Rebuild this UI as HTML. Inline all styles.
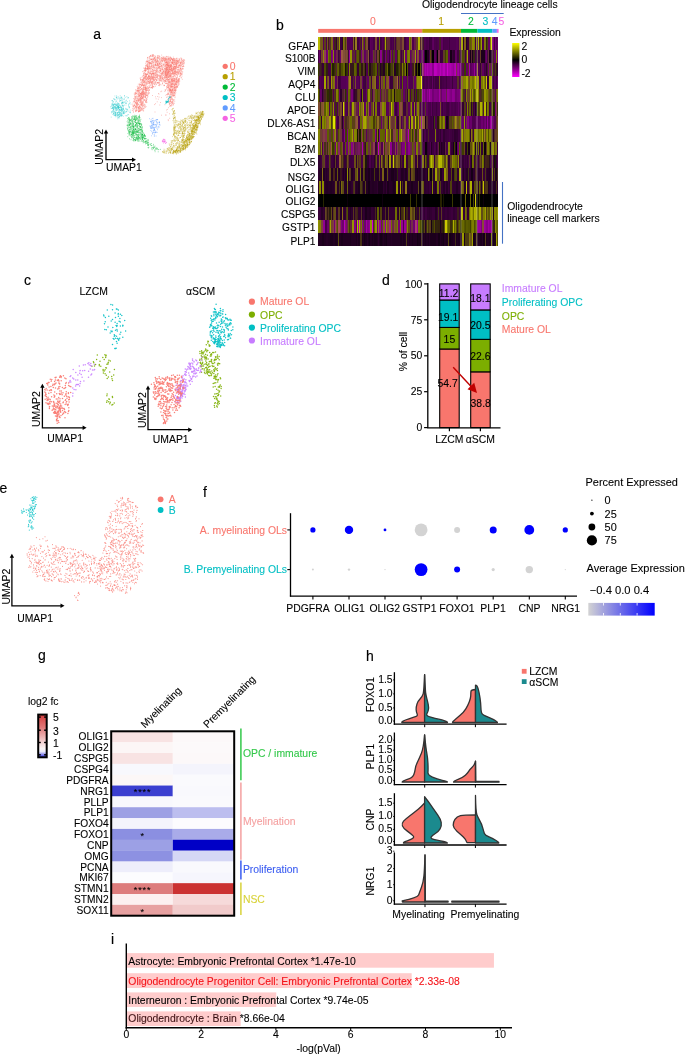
<!DOCTYPE html>
<html><head><meta charset="utf-8"><style>
html,body{margin:0;padding:0;background:#fff;}
svg{display:block;font-family:"Liberation Sans",sans-serif;will-change:transform;}
</style></head><body>
<svg width="685" height="1055" viewBox="0 0 685 1055">
<text x="93.2" y="39.4" font-size="14" fill="#000" stroke="#000" stroke-width="0.15" text-anchor="start" >a</text>
<text x="276.0" y="29.7" font-size="14" fill="#000" stroke="#000" stroke-width="0.15" text-anchor="start" >b</text>
<text x="23.9" y="284.8" font-size="14" fill="#000" stroke="#000" stroke-width="0.15" text-anchor="start" >c</text>
<text x="382.1" y="284.8" font-size="14" fill="#000" stroke="#000" stroke-width="0.15" text-anchor="start" >d</text>
<text x="-0.6" y="492.6" font-size="14" fill="#000" stroke="#000" stroke-width="0.15" text-anchor="start" >e</text>
<text x="203.1" y="496.7" font-size="14" fill="#000" stroke="#000" stroke-width="0.15" text-anchor="start" >f</text>
<text x="38.1" y="660.1" font-size="14" fill="#000" stroke="#000" stroke-width="0.15" text-anchor="start" >g</text>
<text x="366.0" y="660.6" font-size="14" fill="#000" stroke="#000" stroke-width="0.15" text-anchor="start" >h</text>
<text x="111.0" y="944.0" font-size="14" fill="#000" stroke="#000" stroke-width="0.15" text-anchor="start" >i</text>
<path d="M150.2 63.1h0M167.7 59.0h0M160.8 75.2h0M162.2 77.3h0M177.5 70.0h0M141.2 89.0h0M166.2 76.0h0M161.4 57.6h0M168.6 79.6h0M148.8 88.4h0M157.0 71.2h0M145.4 87.0h0M171.2 70.6h0M184.7 60.6h0M141.5 82.3h0M172.2 86.8h0M178.9 71.8h0M170.2 89.3h0M163.3 79.7h0M135.7 94.3h0M174.6 70.9h0M136.9 98.3h0M147.6 79.0h0M182.3 62.7h0M144.9 82.5h0M162.8 69.5h0M151.9 87.5h0M167.1 57.0h0M152.8 77.1h0M138.4 90.5h0M152.0 56.8h0M134.3 105.3h0M165.4 62.7h0M145.3 74.1h0M152.1 61.4h0M157.4 82.5h0M150.0 68.9h0M177.0 63.2h0M132.8 110.3h0M159.8 62.1h0M161.7 55.1h0M145.7 76.0h0M140.8 100.3h0M149.9 68.7h0M144.5 84.2h0M150.8 55.7h0M145.8 94.2h0M177.2 81.2h0M136.4 91.1h0M172.9 81.8h0M141.9 99.8h0M171.2 64.2h0M140.7 101.9h0M150.9 85.9h0M174.8 67.1h0M144.8 70.5h0M145.6 88.1h0M146.6 79.4h0M140.5 107.6h0M151.0 81.9h0M155.1 64.7h0M142.2 81.4h0M170.6 86.2h0M150.5 82.7h0M138.8 87.2h0M145.5 70.5h0M172.5 84.2h0M182.3 79.3h0M165.6 83.4h0M156.1 84.7h0M169.2 104.1h0M181.2 70.2h0M176.7 62.5h0M136.5 93.2h0M139.7 95.0h0M167.6 63.1h0M152.8 82.0h0M140.4 79.5h0M159.8 73.8h0M161.3 79.9h0M165.3 83.4h0M136.1 110.7h0M135.2 99.6h0M146.3 62.0h0M175.6 68.7h0M139.8 106.3h0M168.0 79.0h0M137.0 108.1h0M137.0 103.9h0M136.5 104.3h0M157.1 74.3h0M146.1 61.9h0M158.8 67.9h0M148.9 72.2h0M172.3 71.5h0M159.6 64.0h0M150.4 55.4h0M171.4 86.1h0M143.0 80.9h0M182.1 61.0h0M176.2 79.4h0M153.0 83.7h0M169.6 90.0h0M153.4 74.3h0M135.9 96.5h0M145.8 63.4h0M137.0 102.8h0M147.4 68.8h0M148.0 81.0h0M140.1 78.2h0M148.5 75.2h0M157.3 82.9h0M142.3 83.9h0M148.2 67.8h0M164.0 85.1h0M173.3 92.1h0M170.7 105.4h0M152.6 73.1h0M184.0 62.2h0M170.8 90.9h0M135.8 102.0h0M170.8 101.2h0M139.5 84.5h0M168.1 93.4h0M136.6 101.7h0M168.1 58.3h0M171.3 68.5h0M170.8 66.2h0M157.6 75.8h0M172.3 90.6h0M165.7 59.4h0M171.3 73.4h0M167.8 94.2h0M168.9 71.5h0M160.2 80.4h0M157.7 62.1h0M179.4 65.4h0M155.5 70.3h0M143.7 108.9h0M142.8 88.8h0M140.5 84.5h0M183.5 61.3h0M176.2 83.0h0M158.9 55.5h0M156.9 71.4h0M176.9 61.8h0M179.4 71.0h0M151.6 77.4h0M151.1 78.7h0M137.7 103.1h0M145.0 69.5h0M159.2 64.8h0M169.9 57.0h0M171.1 79.3h0M172.2 90.7h0M181.3 62.9h0M156.8 74.0h0M166.9 72.2h0M161.5 75.9h0M142.5 106.7h0M158.8 67.6h0M155.8 62.7h0M149.8 60.2h0M145.0 68.7h0M172.0 79.1h0M153.8 83.8h0M151.7 73.1h0M183.4 61.7h0M177.8 66.8h0M147.5 68.4h0M152.8 78.6h0M179.8 81.1h0M134.4 99.7h0M166.7 70.8h0M152.3 67.2h0M148.3 81.5h0M178.7 80.4h0M145.6 67.5h0M154.0 69.3h0M149.6 80.0h0M168.5 66.0h0M158.8 67.4h0M176.0 67.1h0M144.9 97.1h0M158.2 65.2h0M144.3 77.7h0M182.4 74.1h0M141.7 108.5h0M167.1 75.8h0M152.8 73.4h0M147.2 74.6h0M182.1 62.1h0M182.8 67.0h0M175.5 78.9h0M143.5 75.4h0M180.5 68.7h0M150.7 71.1h0M146.7 95.4h0M148.5 69.7h0M144.7 81.8h0M152.4 69.5h0M154.5 82.3h0M181.6 65.1h0M164.2 73.7h0M148.5 76.1h0M175.0 59.9h0M143.0 98.9h0M169.9 80.8h0M144.7 78.4h0M167.8 60.2h0M176.6 72.2h0M160.6 76.0h0M171.9 65.9h0M145.6 69.2h0M140.8 104.2h0M162.4 72.9h0M159.3 67.3h0M175.0 93.0h0M182.9 60.8h0M182.0 76.1h0M178.1 80.2h0M146.4 99.3h0M181.8 60.8h0M143.5 75.5h0M145.7 88.2h0M167.1 65.9h0M167.5 64.9h0M148.1 66.8h0M174.6 87.1h0M153.0 86.4h0M165.5 59.0h0M141.1 94.6h0M154.6 70.4h0M149.6 87.5h0M150.8 78.2h0M151.1 66.6h0M170.5 66.5h0M157.3 63.4h0M136.9 90.4h0M151.5 82.6h0M157.3 57.5h0M181.3 77.7h0M174.8 63.8h0M173.1 67.7h0M176.5 64.9h0M144.9 77.1h0M159.4 75.7h0M170.2 106.1h0M177.0 61.8h0M163.9 85.6h0M165.3 71.6h0M155.7 79.3h0M157.7 67.8h0M172.4 99.2h0M155.8 64.7h0M157.7 60.8h0M159.0 55.9h0M165.2 58.3h0M170.7 99.0h0M158.3 57.7h0M158.1 75.6h0M182.1 62.6h0M172.1 101.1h0M180.5 63.5h0M172.2 63.3h0M181.1 69.4h0M175.3 62.0h0M159.3 72.3h0M141.3 107.7h0M169.5 106.1h0M140.3 100.0h0M138.3 84.2h0M166.2 74.7h0M138.4 111.3h0M166.2 77.1h0M174.7 69.6h0M155.5 64.2h0M175.9 69.3h0M164.7 80.5h0M145.3 87.3h0M164.1 66.0h0M165.5 81.2h0M140.6 107.8h0M137.5 90.7h0M154.8 70.2h0M161.3 74.2h0M166.7 79.6h0M153.6 67.3h0M135.7 98.6h0M182.5 63.8h0M142.8 90.3h0M175.5 63.9h0M148.6 71.0h0M135.1 106.0h0M174.2 95.4h0M171.0 81.0h0M172.5 80.5h0M169.0 101.8h0M169.7 69.9h0M161.1 80.2h0M173.6 83.9h0M146.1 91.3h0M183.9 66.4h0M145.1 67.8h0M172.1 74.0h0M178.1 74.1h0M169.6 104.0h0M162.0 71.5h0M143.1 90.7h0M136.7 107.5h0M139.2 107.9h0M150.6 63.5h0M168.2 90.6h0M168.9 96.6h0M136.1 103.9h0M166.4 70.0h0M171.9 65.1h0M148.5 79.0h0M147.7 95.5h0M152.4 73.1h0M160.5 66.7h0M178.1 60.6h0M175.4 64.3h0M142.5 83.5h0M147.7 67.2h0M168.7 82.9h0M137.1 91.0h0M138.1 99.9h0M169.2 99.8h0M165.6 74.0h0M153.2 76.9h0M179.4 58.7h0M144.7 80.4h0M171.3 91.2h0M150.4 73.6h0M141.5 103.3h0M167.2 96.8h0M140.5 79.3h0M174.1 88.4h0M179.2 67.8h0M169.5 103.2h0M145.5 73.3h0M159.5 63.5h0M149.5 65.8h0M137.1 110.6h0M171.0 79.0h0M142.8 91.2h0M152.8 56.4h0M168.6 82.1h0M166.2 81.0h0M140.9 89.3h0M179.1 79.8h0M154.2 67.7h0M171.8 105.7h0M172.6 94.6h0M165.3 80.8h0M149.3 89.9h0M173.9 96.0h0M166.1 68.3h0M154.4 79.9h0M164.4 78.0h0M142.2 92.8h0M173.6 76.5h0M140.1 100.3h0M137.9 87.4h0M175.5 83.7h0M143.9 93.2h0M139.3 111.5h0M151.0 56.5h0M147.2 78.1h0M150.5 68.8h0M144.9 97.1h0M143.6 101.2h0M153.0 66.7h0M139.1 98.7h0M175.2 90.4h0M156.1 70.9h0M162.1 62.1h0M177.6 75.3h0M178.2 69.8h0M152.0 69.1h0M154.4 65.4h0M147.0 68.5h0M147.9 81.8h0M167.8 75.0h0M135.1 102.2h0M140.4 102.1h0M132.4 108.3h0M166.2 69.3h0M144.7 99.4h0M151.4 63.2h0M141.6 105.4h0M141.9 94.6h0M161.6 69.8h0M157.8 57.5h0M158.3 62.1h0M158.4 83.8h0M152.1 78.5h0M164.8 91.4h0M159.1 83.0h0M170.2 90.1h0M152.0 81.5h0M143.3 80.3h0M155.3 86.3h0M176.5 71.6h0M176.4 77.6h0M159.0 70.1h0M150.2 72.7h0M147.9 88.1h0M165.2 89.9h0M169.1 89.1h0M168.4 66.3h0M167.6 80.4h0M173.2 59.8h0M166.0 74.8h0M162.2 69.2h0M148.1 77.8h0M149.2 78.6h0M174.7 87.5h0M153.7 60.3h0M166.0 66.2h0M138.8 110.9h0M138.1 105.0h0M169.9 68.2h0M171.6 65.5h0M134.2 98.9h0M169.6 104.1h0M171.3 58.8h0M176.8 58.7h0M142.7 103.9h0M158.0 58.8h0M151.5 87.2h0M141.0 100.3h0M165.9 77.6h0M163.4 71.7h0M135.9 110.9h0M169.2 101.8h0M149.0 89.4h0M164.8 72.5h0M175.5 71.0h0M134.2 101.6h0M163.0 70.1h0M151.3 59.0h0M142.5 97.8h0M181.2 66.8h0M156.6 65.6h0M145.2 97.3h0M174.7 82.1h0M138.1 100.6h0M173.8 67.6h0M179.3 84.0h0M142.0 93.8h0M152.6 86.4h0M154.0 83.8h0M138.2 90.1h0M173.7 63.8h0M164.3 73.0h0M178.6 81.6h0M162.5 69.6h0M173.1 78.6h0M163.8 77.4h0M139.3 110.4h0M146.2 88.0h0M167.2 77.9h0M155.9 63.9h0M145.9 74.6h0M173.3 95.4h0M169.3 71.6h0M157.8 64.0h0M170.6 65.4h0M134.4 108.0h0M138.4 108.4h0M155.7 73.5h0M175.8 82.3h0M166.1 62.3h0M171.3 86.1h0M140.9 105.3h0M147.4 78.1h0M177.0 72.7h0M140.3 82.2h0M138.9 111.4h0M135.4 106.5h0M168.0 67.3h0M156.7 70.3h0M145.5 65.3h0M171.7 70.6h0M174.5 73.7h0M176.8 84.4h0M142.7 79.7h0M180.1 65.5h0M162.0 61.5h0M142.9 98.3h0M169.3 65.8h0M164.5 82.3h0M147.6 66.6h0M175.4 87.5h0M170.5 76.6h0M170.7 57.6h0M174.6 73.6h0M180.3 69.0h0M141.3 102.6h0M151.6 63.4h0M152.4 88.5h0M156.5 84.3h0M139.5 95.6h0M134.5 105.4h0M158.5 85.5h0M183.5 66.3h0M145.7 101.9h0M168.7 65.5h0M162.4 83.9h0M169.1 60.9h0M158.9 83.1h0M147.2 61.3h0M154.0 62.2h0M139.2 87.8h0M171.3 62.2h0M153.4 77.8h0M176.6 84.5h0M173.0 74.1h0M145.0 73.4h0M145.1 78.4h0M165.2 75.3h0M161.2 58.8h0M155.5 82.6h0M166.9 70.1h0M169.4 68.7h0M165.2 68.5h0M160.5 78.7h0M182.3 72.1h0M149.2 90.5h0M138.8 89.3h0M146.3 81.5h0M160.6 61.9h0M147.6 78.4h0M148.4 67.9h0M143.7 94.9h0M164.9 81.3h0M148.1 68.4h0M143.9 82.3h0M152.2 87.6h0M177.3 67.4h0M161.4 81.2h0M178.9 79.7h0M175.8 84.0h0M171.4 97.0h0M171.8 80.8h0M173.8 95.7h0M180.8 62.5h0M172.0 87.9h0M162.2 79.1h0M165.4 75.8h0M156.7 80.5h0M169.9 71.1h0M152.4 87.2h0M153.1 73.5h0M159.0 78.5h0M140.6 87.5h0M161.7 59.3h0M181.5 73.9h0M182.3 66.5h0M162.4 82.9h0M159.6 84.4h0M168.9 77.1h0M151.1 87.8h0M168.9 85.3h0M153.3 86.6h0M159.9 59.6h0M179.5 79.9h0M159.6 83.0h0M166.8 89.1h0M166.1 56.4h0M148.7 93.1h0M176.0 87.2h0M168.2 65.5h0M147.2 90.4h0M162.4 78.8h0M172.0 59.3h0M172.6 72.7h0M170.1 75.4h0M138.5 107.3h0M163.5 74.1h0M155.9 75.6h0M136.1 106.4h0M175.5 71.2h0M145.7 77.0h0M170.4 66.3h0M151.5 64.7h0M162.5 61.2h0M160.8 76.2h0M154.6 58.4h0M139.7 102.4h0M151.4 68.6h0M166.8 72.9h0M140.1 95.4h0M177.0 61.7h0M174.9 64.5h0M143.2 108.1h0M158.1 67.2h0M156.7 62.2h0M169.5 69.7h0M151.8 68.0h0M164.3 66.9h0M178.9 60.7h0M146.1 98.9h0M163.6 71.5h0M152.3 59.4h0M142.1 103.0h0M149.4 92.8h0M137.2 86.7h0M151.9 83.7h0M148.8 58.0h0M148.0 68.1h0M139.6 95.3h0M148.0 78.1h0M167.3 73.2h0M169.0 68.1h0M176.5 74.5h0M164.9 64.9h0M139.7 106.3h0M171.7 95.1h0M148.8 76.1h0M166.8 64.2h0M177.1 86.7h0M170.3 68.9h0M139.0 99.0h0M142.8 107.9h0M172.2 60.2h0M168.4 77.1h0M172.2 103.1h0M147.3 59.1h0M171.8 102.1h0M165.1 80.8h0M134.2 94.0h0M155.8 83.5h0M181.1 61.8h0M170.1 101.1h0M145.7 85.5h0M161.7 68.6h0M153.8 66.3h0M149.5 63.3h0M169.1 92.5h0M144.6 68.4h0M159.3 80.6h0M180.1 75.1h0M139.6 86.6h0M141.7 92.8h0M163.4 81.7h0M151.8 65.8h0M143.0 94.1h0M155.3 60.6h0M149.8 81.3h0M151.1 63.1h0M135.9 96.6h0M155.6 64.7h0M167.5 69.0h0M133.7 98.6h0M177.3 71.5h0M143.2 91.3h0M141.0 99.2h0M149.3 65.0h0M176.1 73.1h0M152.1 85.5h0M158.4 82.5h0M163.3 58.1h0M168.3 63.2h0M155.3 65.1h0M174.8 78.6h0M146.6 92.3h0M160.0 78.9h0M150.5 80.7h0M168.2 102.0h0M180.8 62.9h0M148.0 79.3h0M162.2 75.3h0M149.2 81.7h0M167.5 90.2h0M147.1 86.7h0M167.1 71.4h0M168.3 80.0h0M137.1 92.3h0M151.5 87.6h0M154.5 84.3h0M162.5 78.1h0M137.4 103.7h0M160.3 68.8h0M144.5 86.9h0M163.4 58.8h0M153.9 59.3h0M172.4 60.0h0M137.0 102.5h0M152.9 63.7h0M172.5 61.9h0M173.3 57.1h0M144.8 76.2h0M144.2 71.9h0M169.6 78.0h0M141.8 98.1h0M169.0 102.6h0M164.4 60.2h0M138.4 108.4h0M167.9 70.2h0M143.1 79.8h0M176.6 86.9h0M137.9 100.3h0M143.7 85.8h0M148.3 94.0h0M152.4 62.9h0M177.4 85.9h0M169.9 101.1h0M150.5 63.0h0M142.5 101.2h0M168.3 77.2h0M157.3 63.6h0M177.1 77.4h0M143.3 105.6h0M163.2 57.4h0M153.0 73.7h0M149.3 56.5h0M168.0 69.2h0M146.3 83.2h0M147.1 88.0h0M165.6 90.7h0M152.7 69.9h0M172.3 83.8h0M166.0 75.2h0M161.8 77.2h0M156.9 75.4h0M145.6 68.6h0M149.3 62.8h0M156.7 80.8h0M162.9 71.8h0M148.6 72.3h0M170.4 86.0h0M181.9 73.6h0M178.9 69.3h0M169.8 67.1h0M153.6 65.1h0M167.1 65.3h0M162.9 59.7h0M149.6 63.4h0M142.7 85.0h0M179.7 66.1h0M167.5 78.4h0M168.4 72.7h0M149.9 82.6h0M164.2 69.0h0M150.0 58.7h0M172.5 60.2h0M174.5 79.2h0M165.5 73.7h0M170.7 69.8h0M168.8 98.5h0M173.1 72.8h0M157.0 70.4h0M174.3 75.7h0M172.0 58.8h0M163.1 64.5h0M173.7 68.2h0M165.7 73.2h0M174.5 80.7h0M138.7 96.3h0M143.4 68.1h0M146.3 79.4h0M172.9 91.1h0M144.2 87.2h0M141.7 104.1h0M178.3 70.0h0M148.1 72.8h0M140.7 93.5h0M162.7 81.1h0M144.2 105.3h0M179.9 65.5h0M139.5 111.4h0M133.5 106.1h0M141.3 97.0h0M167.7 59.4h0M170.6 105.7h0M144.9 99.7h0M159.5 67.1h0M155.1 60.7h0M141.1 94.0h0M139.1 96.3h0M158.1 60.6h0M151.5 82.9h0M181.4 74.5h0M146.7 64.7h0M153.8 86.5h0M152.2 54.5h0M169.4 91.3h0M161.0 84.9h0M153.2 73.5h0M153.1 77.2h0M153.2 61.9h0M146.2 90.0h0M152.8 67.1h0M169.3 72.9h0M166.6 86.2h0M177.2 82.7h0M144.2 89.7h0M170.8 76.0h0M170.7 76.5h0M167.7 72.2h0M164.6 85.6h0M144.0 89.5h0M159.4 82.0h0M159.4 85.0h0M174.9 68.4h0M141.0 102.0h0M175.8 61.3h0M175.7 84.4h0M155.8 59.7h0M168.6 79.9h0M172.4 63.0h0M169.3 74.4h0M159.7 68.6h0M151.9 74.0h0M153.4 54.5h0M143.1 87.6h0M169.9 69.1h0M149.0 68.3h0M176.5 60.5h0M143.9 77.8h0M174.8 90.4h0M153.0 56.6h0M155.5 75.5h0M170.9 71.6h0M176.1 75.0h0M152.4 87.1h0M182.2 64.4h0M149.6 58.1h0M171.7 75.8h0M160.2 84.3h0M156.8 80.6h0M176.7 78.7h0M155.2 82.4h0M166.7 97.4h0M154.0 57.4h0M167.6 87.5h0M137.1 101.3h0M171.9 86.6h0M169.2 82.6h0M135.0 93.7h0M178.7 62.7h0M149.7 84.0h0M146.7 70.1h0M149.6 68.5h0M177.7 87.1h0M159.2 79.5h0M177.8 69.4h0M159.5 76.3h0M157.1 82.8h0M163.5 75.6h0M174.4 66.3h0M160.6 77.2h0M161.6 73.0h0M148.0 94.0h0M173.5 89.0h0M166.1 58.7h0M177.0 58.2h0M163.5 64.9h0M175.4 83.9h0M167.4 93.9h0M147.3 66.6h0M176.7 63.0h0M180.3 66.9h0M168.5 63.1h0M135.3 93.8h0M135.1 102.7h0M148.2 68.7h0M162.6 72.5h0M162.0 63.6h0M180.4 73.5h0M177.0 62.0h0M152.7 54.9h0M144.1 85.5h0M171.2 79.1h0M168.2 61.5h0M176.4 60.5h0M147.4 74.5h0M173.0 82.8h0M181.3 59.7h0M164.4 85.4h0M177.1 67.1h0M166.7 56.6h0M150.4 79.9h0M145.8 97.3h0M142.5 98.2h0M147.6 57.5h0M161.8 60.2h0M165.3 81.8h0M138.4 91.8h0M139.2 87.9h0M149.8 76.4h0M167.4 64.0h0M140.8 108.0h0M178.1 81.9h0M178.9 60.8h0M141.3 85.5h0M158.5 75.3h0M142.0 77.2h0M133.8 108.3h0M145.7 97.8h0M160.3 71.1h0M179.8 59.7h0M163.0 67.4h0M169.6 58.9h0M145.3 88.6h0M174.9 73.0h0M174.8 81.1h0M153.6 58.8h0M145.6 96.9h0M167.9 63.1h0M150.0 62.8h0M157.2 82.7h0M172.1 90.7h0M142.3 91.6h0M138.2 94.7h0M150.9 62.8h0M171.9 61.2h0M163.9 79.7h0M179.3 72.2h0M182.0 61.4h0M156.3 67.8h0M168.3 94.2h0M174.6 92.5h0M153.7 59.5h0M150.4 87.7h0M174.9 78.8h0M165.0 81.6h0M149.1 66.8h0M164.8 71.5h0M168.4 79.7h0M139.3 93.3h0M134.5 101.2h0M144.9 104.9h0M152.7 82.9h0M176.0 64.8h0M141.9 108.3h0M146.0 74.8h0M138.0 86.1h0M178.1 83.2h0M135.8 90.0h0M165.1 76.3h0M136.6 103.2h0M168.7 86.6h0M149.2 61.4h0M140.4 87.3h0M163.0 56.8h0M166.7 70.5h0M172.7 70.7h0M160.1 78.3h0M170.2 94.7h0M147.9 63.0h0M173.7 74.7h0M139.6 85.5h0M178.8 62.7h0M171.0 65.0h0M147.8 57.4h0M147.3 77.3h0M181.9 65.0h0M148.4 79.1h0M151.7 76.2h0M144.5 106.8h0M148.9 62.3h0M172.5 81.1h0M171.6 70.9h0M160.6 70.3h0M166.5 69.2h0M176.3 87.0h0M147.2 68.6h0M171.9 93.8h0M173.0 77.1h0M151.4 76.3h0M174.3 74.2h0M142.0 105.3h0M159.5 85.7h0M168.6 87.3h0M153.8 87.2h0M140.8 93.4h0M172.6 83.6h0M172.7 101.6h0M139.8 94.8h0M169.5 89.7h0M146.8 66.7h0M174.2 74.9h0M168.9 57.7h0M176.2 72.7h0M134.5 101.1h0M165.5 73.2h0M149.4 87.2h0M144.6 100.2h0M143.2 102.5h0M175.8 84.3h0M134.8 98.3h0M154.4 57.9h0M163.1 78.3h0M144.7 104.3h0M158.2 62.0h0M169.3 81.1h0M151.4 65.9h0M153.0 71.6h0M142.5 97.2h0M160.4 80.9h0M142.0 94.3h0M171.2 96.1h0M170.3 88.9h0M146.6 74.6h0M139.6 92.3h0M173.3 80.2h0M140.6 99.3h0M162.6 83.4h0M133.1 106.5h0M169.8 75.7h0M144.9 87.6h0M152.4 55.8h0M157.5 56.8h0M180.6 76.2h0M137.4 89.0h0M155.7 59.0h0M170.5 57.1h0M157.5 77.2h0M167.7 94.9h0M145.3 91.9h0M170.0 81.4h0M138.9 107.0h0M165.4 57.6h0M144.1 76.8h0M142.4 92.8h0M180.7 68.5h0M172.7 59.7h0M141.2 100.4h0M141.4 84.9h0M138.8 99.8h0M160.9 70.9h0M157.2 61.0h0M166.9 66.7h0M154.5 60.2h0M151.3 59.6h0M170.8 103.0h0M177.1 61.2h0M152.6 70.8h0M172.6 62.8h0M168.9 88.0h0M159.8 80.6h0M170.6 100.4h0M166.9 102.4h0M142.0 108.9h0M145.7 71.3h0M150.9 73.6h0M172.6 70.0h0M145.4 78.7h0M174.6 85.5h0M137.9 101.4h0M149.1 90.1h0M152.5 85.8h0M182.0 63.9h0M142.6 80.1h0M168.4 93.6h0M172.3 98.3h0M145.6 68.4h0M147.6 58.1h0M151.0 62.0h0M147.1 99.3h0M147.2 77.4h0M169.5 79.9h0M170.6 60.1h0M180.9 73.3h0M176.1 68.2h0M168.4 70.2h0M180.7 63.1h0M166.5 87.1h0M167.4 65.2h0M167.0 87.1h0M139.1 110.5h0M139.8 98.9h0M146.5 75.0h0M160.2 60.6h0M146.2 100.4h0M148.2 76.3h0M172.5 66.8h0M153.1 74.8h0M166.8 81.3h0M155.0 60.4h0M157.6 65.3h0M145.1 79.7h0M151.0 82.4h0M171.5 86.7h0M177.4 61.3h0M178.1 66.2h0M171.1 57.9h0M155.7 72.5h0M141.6 93.2h0M152.7 60.5h0M166.8 83.0h0M171.5 85.4h0M145.2 82.3h0M139.8 100.3h0M177.4 76.8h0M179.9 64.7h0M144.1 89.2h0M181.4 59.6h0M156.5 61.7h0M143.2 97.5h0M133.9 109.6h0M145.1 80.8h0M165.3 66.4h0M176.6 65.9h0M150.0 76.8h0M140.6 102.0h0M146.3 80.2h0M138.8 109.7h0M163.9 80.3h0M183.0 68.7h0M133.7 106.2h0M147.9 69.5h0M154.8 84.7h0M166.9 83.4h0M166.9 88.6h0M183.3 65.3h0M136.2 106.2h0M163.2 64.7h0M168.7 68.3h0M145.0 74.8h0M135.5 97.6h0M165.0 80.3h0M167.4 101.5h0M168.1 94.4h0M165.9 65.0h0M145.0 79.2h0M182.8 66.5h0M180.8 67.9h0M171.1 74.2h0M167.7 99.4h0M154.2 77.8h0M155.6 65.1h0M157.5 55.5h0M168.8 64.5h0M165.3 89.8h0M143.0 98.9h0M148.1 69.0h0M175.5 89.7h0M162.2 65.8h0M169.9 69.5h0M140.7 93.9h0M146.4 95.3h0M139.6 108.1h0M183.7 63.0h0M150.3 85.3h0M149.4 78.4h0M157.6 69.1h0M146.3 100.6h0M170.8 74.0h0M158.3 65.5h0M168.7 77.0h0M169.9 67.9h0M138.6 88.2h0M142.5 94.4h0M167.8 86.9h0M163.7 60.0h0M166.2 69.2h0M146.3 78.5h0M143.4 71.0h0M166.5 94.5h0M142.6 71.6h0M166.8 68.7h0M174.1 72.3h0M160.7 63.1h0M157.6 64.6h0M139.7 84.0h0M160.2 75.7h0M170.5 85.9h0M173.8 59.3h0M156.9 69.8h0M167.6 67.8h0M149.0 81.4h0M169.8 98.9h0M152.2 79.7h0M165.4 60.6h0M164.5 70.9h0M134.9 97.4h0M173.0 79.1h0M137.1 109.8h0M172.9 62.3h0M141.6 85.2h0M177.0 63.4h0M142.0 98.6h0M154.3 73.3h0M183.9 61.0h0M145.4 96.7h0M165.2 71.4h0M171.2 62.5h0M142.1 109.5h0M138.7 101.0h0M149.7 68.9h0M146.9 79.8h0M177.5 72.0h0M141.4 96.4h0M152.0 64.6h0M146.5 74.9h0M151.6 74.3h0M152.5 61.6h0M171.0 98.8h0M174.6 68.9h0M166.7 75.3h0M178.9 61.8h0M161.0 73.2h0M175.3 73.5h0M179.3 62.0h0M168.0 92.0h0M134.3 104.6h0M161.2 80.8h0M143.5 73.9h0M150.0 56.3h0M174.0 67.9h0M170.9 65.6h0M156.9 77.5h0M147.3 90.2h0M179.5 81.9h0M162.2 61.2h0M158.7 82.2h0M167.8 66.2h0M151.7 75.8h0M138.6 107.4h0M155.7 59.4h0M172.6 74.1h0M143.7 96.6h0M174.9 66.4h0M156.8 76.5h0M141.6 85.6h0M140.9 109.9h0M173.7 65.4h0M161.7 63.8h0M145.8 70.5h0M154.9 83.6h0M157.0 60.2h0M170.5 97.4h0M145.2 70.0h0M160.2 64.6h0M143.3 87.1h0M170.5 97.2h0M170.4 94.9h0M174.7 92.7h0M140.5 80.4h0M145.4 66.0h0M140.8 77.9h0M165.6 72.8h0M148.0 82.8h0M142.6 82.5h0M157.0 65.7h0M163.5 63.9h0M153.6 74.0h0M153.9 73.8h0M169.6 76.6h0M141.7 104.5h0M181.1 77.8h0M155.7 72.0h0M160.8 77.1h0M157.4 82.9h0M150.8 84.2h0M157.2 74.5h0M175.1 68.8h0M152.2 76.6h0M160.3 70.6h0M140.9 95.1h0M135.9 100.6h0M169.5 95.8h0M137.7 107.2h0M155.9 65.8h0M151.7 59.5h0M169.9 91.1h0M142.1 89.4h0M155.1 76.6h0M145.8 67.0h0M170.0 64.1h0M163.1 80.0h0M150.5 77.2h0M174.4 84.2h0M165.4 72.4h0M152.3 69.6h0M145.6 89.4h0M141.5 104.2h0M157.7 70.3h0M181.5 58.2h0M140.5 98.4h0M163.8 79.0h0M180.6 58.1h0M174.6 59.9h0M147.8 61.5h0M178.4 79.1h0M171.5 69.0h0M171.2 92.0h0M171.0 67.2h0M166.1 69.4h0M157.5 61.1h0M172.4 62.5h0M168.1 58.5h0M172.3 62.5h0M166.6 75.5h0M145.6 101.3h0" stroke="#F8766D" stroke-width="1.00" stroke-linecap="round" stroke-opacity="0.5"/>
<path d="M165.0 58.7h0M161.6 65.8h0M153.6 76.0h0M164.2 62.7h0M162.5 68.7h0M151.8 81.3h0M163.0 67.7h0M148.8 77.3h0M160.1 65.0h0M153.5 65.9h0M174.7 66.5h0M141.7 83.9h0M138.8 92.9h0M165.5 71.1h0M144.6 70.5h0M161.6 60.3h0M148.3 65.9h0M157.0 77.4h0M149.5 75.4h0M146.9 83.6h0M160.1 76.2h0M164.9 77.6h0M145.5 87.8h0M171.0 71.1h0M144.8 94.4h0M141.7 80.0h0M172.8 59.5h0M161.5 63.0h0M151.8 61.4h0M157.5 57.0h0M141.9 94.0h0M158.8 58.4h0M167.2 62.4h0M167.4 76.0h0M149.5 74.1h0M167.4 64.8h0M145.0 76.9h0M164.6 57.9h0M150.9 59.0h0M159.7 64.0h0M166.0 62.3h0M161.0 78.9h0M166.6 76.4h0M153.8 79.7h0M145.7 92.5h0M167.6 67.0h0M149.3 73.7h0M153.5 58.4h0M158.0 80.1h0M160.7 77.6h0M149.2 64.6h0M166.2 70.5h0M159.4 58.9h0M153.3 59.6h0M168.7 71.3h0M141.8 92.9h0M154.6 75.1h0M162.1 78.3h0M152.1 55.5h0M164.6 58.3h0M142.0 95.6h0M153.0 76.1h0M177.1 63.2h0M164.0 56.7h0M145.5 89.1h0M145.4 70.9h0M168.9 69.1h0M141.7 98.4h0M153.0 73.3h0M163.5 75.3h0M149.7 77.7h0M157.9 61.6h0M144.9 78.6h0M169.8 73.7h0M141.4 96.7h0M144.3 94.8h0M140.4 84.8h0M155.9 74.7h0M154.8 79.0h0M160.3 70.5h0M165.1 71.0h0M175.4 68.6h0M155.3 68.5h0M159.4 66.7h0M164.7 72.8h0M167.0 67.5h0M156.5 80.0h0M155.8 59.1h0M165.2 70.7h0M174.2 66.1h0M148.8 62.9h0M145.4 85.1h0M161.8 66.9h0M164.7 75.0h0M176.0 72.1h0M164.0 59.0h0M153.9 70.8h0M159.1 66.2h0M148.2 60.9h0M165.5 78.2h0M163.0 74.0h0M155.4 61.8h0M161.0 67.9h0M143.9 94.1h0M150.6 81.6h0M147.1 84.7h0M160.3 69.6h0M147.3 63.7h0M148.2 83.3h0M165.7 77.1h0M143.0 76.1h0M161.5 73.5h0M159.1 56.9h0M152.0 67.9h0M172.2 71.4h0M167.1 62.1h0M147.8 73.0h0M142.1 81.4h0M147.6 86.8h0M146.4 85.9h0M176.2 67.8h0M165.3 72.8h0M170.7 75.1h0M142.1 93.4h0M143.6 93.4h0M147.3 61.1h0M155.2 81.4h0M159.0 79.8h0M156.9 73.9h0M166.0 59.6h0M152.5 59.1h0M143.3 79.8h0M146.3 87.9h0M172.2 63.2h0M151.1 78.1h0M167.5 74.5h0M154.1 73.7h0M148.6 77.1h0M166.9 71.3h0M164.2 77.7h0M139.1 97.4h0M150.6 79.4h0M176.4 64.6h0M144.9 93.5h0M159.8 56.7h0M149.4 78.0h0M146.1 68.6h0M148.1 81.6h0M143.4 78.7h0M163.9 58.9h0M159.7 68.6h0M150.1 76.3h0M149.3 82.8h0M153.2 76.5h0M145.7 92.9h0M145.2 68.4h0M140.2 97.3h0M168.4 62.2h0M144.4 70.8h0M171.5 62.8h0M160.0 79.7h0M144.9 69.9h0M148.1 64.3h0M162.9 70.0h0M171.1 59.4h0M163.3 65.3h0M166.3 73.1h0M167.2 69.4h0M157.7 76.0h0M168.2 59.3h0M158.4 66.1h0M161.2 66.6h0M147.8 65.2h0M174.4 71.3h0M149.2 80.9h0M139.9 96.1h0M163.1 60.3h0M159.6 77.2h0M165.3 68.3h0M141.7 92.3h0M173.1 69.1h0M172.1 66.3h0M154.4 77.4h0M157.7 64.8h0M165.2 77.0h0M177.2 63.8h0M157.4 58.5h0M139.4 90.5h0M153.4 75.5h0M165.6 59.3h0M142.9 92.1h0M164.8 63.4h0M166.5 68.3h0M160.4 58.8h0M152.0 61.2h0M160.5 61.8h0M148.2 76.4h0M156.3 61.1h0M173.8 60.8h0M150.9 79.8h0M151.4 74.0h0M151.8 84.0h0M167.8 77.7h0M172.9 59.6h0M149.4 82.5h0M155.0 76.2h0M173.5 67.3h0M150.1 63.9h0M143.7 93.1h0M175.5 60.7h0M149.0 76.6h0M165.3 60.8h0M143.1 91.3h0M164.6 68.8h0M171.1 59.2h0M140.9 98.7h0M142.7 84.5h0M144.4 85.1h0M165.4 65.5h0M158.3 64.6h0M141.9 95.0h0M162.6 76.7h0M149.7 78.7h0M166.7 64.6h0M161.9 75.8h0M151.4 71.2h0M158.0 68.5h0M174.8 62.0h0M169.6 69.3h0M143.8 91.3h0M155.3 70.2h0M168.9 63.1h0M146.7 69.9h0M145.9 76.6h0M144.6 85.3h0M154.1 66.3h0M166.0 69.4h0M140.1 93.8h0M150.5 67.5h0M166.7 61.4h0M159.3 57.9h0M150.8 73.2h0M177.2 61.2h0M162.2 58.5h0M146.6 65.6h0M170.7 67.0h0M177.0 63.5h0M144.4 72.5h0M170.2 61.1h0M170.6 70.0h0M166.3 77.9h0M169.1 62.9h0M149.7 64.8h0M143.9 87.6h0M173.2 70.6h0M158.3 57.0h0M160.9 73.3h0M152.3 71.9h0M146.9 69.3h0M143.7 77.7h0M153.2 62.4h0M165.6 69.6h0M142.9 81.2h0M164.1 66.2h0M142.5 90.4h0M159.8 59.2h0M143.5 95.1h0M175.8 70.6h0M146.4 61.1h0M147.4 74.0h0M169.9 59.8h0M150.3 78.8h0M159.3 56.7h0M143.5 85.0h0M154.6 58.5h0M157.7 72.2h0M168.8 59.2h0M160.3 71.0h0M162.5 66.8h0M156.2 79.2h0M153.5 79.3h0M146.5 82.6h0M145.6 71.0h0M173.1 59.8h0M169.0 61.7h0M142.1 79.6h0M145.5 80.1h0M176.6 66.8h0M165.2 74.7h0M154.6 75.0h0M149.8 62.7h0M174.9 71.5h0M166.9 75.7h0M148.1 79.8h0M140.5 84.4h0M152.7 73.6h0M146.1 91.0h0M144.6 75.1h0M145.1 74.2h0M141.7 82.2h0M147.7 64.5h0M162.0 77.2h0M153.1 78.4h0M157.8 78.5h0M172.7 60.2h0M157.6 76.1h0M154.9 77.3h0M143.5 89.1h0M159.3 63.5h0M145.6 76.8h0M142.5 85.4h0M157.8 65.0h0M140.4 97.0h0M169.6 76.1h0M147.5 66.8h0M146.6 83.0h0M162.5 78.5h0M158.7 61.7h0M167.8 73.0h0M171.1 70.4h0M143.1 96.2h0M142.7 97.2h0M168.0 75.1h0M144.1 80.8h0M149.6 67.3h0M156.2 75.5h0M155.2 71.1h0M167.1 69.4h0M144.4 96.2h0M155.7 67.2h0M153.1 79.9h0M159.1 67.6h0M141.1 83.2h0M158.9 64.0h0M141.2 98.8h0M164.4 78.1h0M143.0 91.2h0M168.6 72.9h0M152.0 82.3h0M166.2 72.1h0M153.9 78.8h0M149.6 68.2h0M154.1 55.6h0M153.4 80.8h0M161.6 74.7h0M152.6 84.1h0M146.3 77.8h0M148.7 79.8h0M166.4 79.0h0M142.5 84.7h0M175.9 71.1h0M171.5 65.7h0M171.7 74.9h0M156.3 77.2h0M153.2 65.6h0M175.7 67.7h0M150.3 80.1h0M177.1 60.3h0M147.5 62.9h0M156.4 69.5h0M143.8 74.2h0M143.6 82.3h0M168.6 58.5h0M150.6 55.6h0M163.5 71.2h0M155.3 75.0h0M172.6 72.9h0M159.7 72.5h0M157.5 59.2h0M157.8 76.8h0M153.3 70.8h0M155.4 60.5h0M166.9 65.2h0M159.0 78.6h0M153.3 77.6h0M174.4 62.9h0M168.4 72.2h0M168.5 68.1h0M165.8 71.0h0M173.9 73.3h0M153.2 73.3h0M153.4 70.3h0M164.4 68.2h0M153.0 77.2h0M147.8 66.8h0M153.1 80.9h0M146.5 79.3h0M151.5 66.9h0M168.4 71.0h0M153.9 56.1h0M139.0 98.7h0M162.4 72.9h0M162.7 73.3h0M143.7 94.1h0M151.4 66.3h0M148.8 77.6h0M175.9 62.4h0M150.8 71.6h0M163.3 70.6h0M164.4 61.1h0M167.6 60.8h0M141.2 84.8h0M141.4 96.4h0M165.7 61.9h0M155.7 57.5h0M160.8 78.8h0M165.2 77.9h0M150.7 73.2h0M152.2 74.6h0M154.9 64.5h0M145.9 76.0h0M150.9 81.8h0M168.5 59.9h0M157.9 63.7h0M147.6 65.5h0M151.0 70.3h0M169.2 73.3h0M157.0 64.3h0M150.0 76.8h0M140.9 86.4h0M149.6 66.6h0M161.7 57.8h0M158.3 71.7h0M142.0 79.6h0M170.4 60.6h0M143.2 85.6h0M172.9 70.0h0M149.1 78.6h0M140.2 91.0h0M155.7 62.7h0M145.7 83.5h0M159.9 75.2h0M160.5 66.3h0M144.2 73.5h0M145.5 76.0h0M145.2 88.1h0M172.2 69.8h0M141.5 98.3h0M142.4 84.9h0M167.4 76.7h0M174.0 62.1h0M155.6 78.2h0M172.3 72.5h0M146.6 61.2h0M175.0 69.5h0M166.5 74.3h0M149.5 57.2h0M174.8 71.9h0M142.1 79.9h0M142.8 92.8h0M167.6 73.6h0M146.3 74.3h0M173.1 69.5h0M143.5 97.4h0M164.5 59.9h0M145.1 84.2h0M150.0 77.6h0M164.3 60.3h0M164.1 69.7h0M157.6 79.0h0M162.5 58.0h0M143.5 85.4h0M146.3 89.1h0M166.3 62.9h0M170.0 75.5h0M166.3 59.0h0M153.1 62.3h0M157.7 60.6h0M157.2 59.2h0M166.6 64.3h0M175.1 60.4h0M145.9 82.6h0M146.3 75.7h0M147.5 69.7h0M157.0 77.6h0M143.1 93.1h0M156.4 68.0h0M157.0 57.3h0M142.5 92.0h0M168.9 64.5h0M150.7 59.9h0M151.2 78.3h0M161.0 57.2h0M143.6 85.3h0M143.8 96.1h0M145.2 76.1h0M174.5 62.5h0M152.7 82.6h0M166.0 75.9h0M143.3 81.7h0M167.7 72.4h0M145.8 90.0h0M149.3 86.1h0M170.6 66.5h0M174.9 68.6h0M169.1 71.7h0M170.5 73.9h0M173.5 64.6h0M159.5 62.1h0M146.0 68.3h0M163.0 72.6h0M165.4 58.8h0M152.1 55.7h0M146.3 92.8h0M144.7 81.7h0M168.7 67.3h0M152.6 78.4h0M172.2 59.5h0M162.5 73.6h0M154.7 72.9h0M166.5 75.7h0M176.3 63.7h0M170.6 73.3h0M168.9 66.2h0M155.4 73.7h0M166.4 67.6h0M151.8 77.8h0M147.6 74.1h0M167.7 77.8h0M161.6 65.5h0M154.2 80.4h0M154.0 63.5h0M175.1 59.3h0M173.6 69.1h0M168.7 72.1h0M145.5 70.2h0M143.1 84.4h0M150.7 63.8h0M155.0 57.1h0M171.3 66.5h0M166.7 77.5h0M155.7 56.0h0M148.4 88.3h0M155.2 78.9h0M141.0 94.2h0M144.6 81.6h0M150.1 72.2h0M157.4 68.3h0M146.5 84.3h0M163.9 59.1h0M176.8 59.8h0M147.5 68.3h0M152.6 77.4h0M174.9 59.8h0M148.8 70.8h0M168.2 76.1h0M171.4 74.1h0M139.8 84.1h0M165.0 60.3h0M148.8 79.3h0M152.4 79.2h0M153.9 70.2h0M156.8 72.0h0M172.3 71.7h0M165.2 63.2h0M159.4 66.4h0M174.9 72.2h0M151.6 79.7h0M162.9 60.9h0M164.8 68.7h0M155.3 77.4h0M141.4 94.7h0M148.5 82.0h0M152.9 82.1h0M174.4 73.1h0M155.5 56.6h0M150.0 75.9h0M161.5 65.1h0M150.2 59.4h0M150.5 66.4h0M139.8 91.2h0M162.3 74.4h0M152.7 77.6h0M158.2 63.3h0M144.0 77.9h0M152.9 55.6h0M167.3 63.1h0M161.1 78.1h0M166.7 60.2h0M173.7 63.3h0M167.2 73.1h0M156.3 77.0h0M166.4 62.6h0M173.7 68.8h0M173.2 61.3h0M143.8 81.9h0M148.7 75.1h0M146.4 88.4h0M162.3 58.7h0M158.5 68.1h0M141.3 86.3h0M159.0 75.2h0M175.2 71.6h0M145.3 77.3h0M158.2 72.7h0M169.1 67.5h0M176.5 64.9h0M148.1 87.4h0M150.5 73.9h0M157.2 66.4h0M175.4 62.9h0M166.1 66.7h0M154.5 57.4h0M151.5 63.7h0M164.0 60.3h0M155.9 65.1h0M170.1 74.4h0M151.8 75.5h0M151.5 82.8h0M154.3 62.0h0M153.9 68.5h0M160.4 76.7h0M166.5 58.2h0M143.7 87.1h0M141.1 93.3h0M172.4 73.6h0M151.6 74.5h0M169.8 76.0h0M168.3 77.6h0M161.8 74.1h0M142.6 80.4h0M176.2 65.3h0M169.1 65.9h0M166.6 67.3h0M139.6 92.9h0M158.9 66.2h0M151.9 78.7h0M167.8 62.0h0M163.7 73.3h0M153.4 82.1h0M144.8 81.6h0M165.0 65.2h0M164.9 61.4h0M146.9 88.0h0M163.7 71.2h0M164.7 64.6h0M146.4 65.4h0M156.9 61.9h0M148.4 87.3h0M149.4 76.5h0M172.8 70.9h0M153.3 79.6h0M143.6 73.0h0M144.6 85.2h0M160.6 71.6h0M166.2 64.7h0M162.6 74.0h0M144.3 91.1h0M146.8 90.0h0M168.1 74.7h0M157.2 64.4h0M143.1 85.6h0M154.1 80.6h0M154.6 67.4h0M145.6 90.0h0M155.7 61.6h0M172.5 62.1h0M148.2 62.5h0M140.9 96.9h0M156.1 74.5h0M172.5 68.2h0M175.4 62.0h0M151.1 65.8h0M160.3 64.7h0M149.1 83.4h0M145.9 90.2h0M173.2 73.6h0M143.3 80.5h0M151.5 59.3h0M150.0 66.8h0M152.4 81.5h0M146.5 76.2h0M162.4 68.8h0M154.2 61.4h0M143.1 94.3h0M156.1 62.0h0M153.4 55.5h0M155.9 79.4h0M169.3 65.3h0M140.2 87.4h0M161.2 61.0h0M159.6 70.3h0M153.5 72.2h0M173.6 69.4h0M148.1 68.1h0M146.5 88.3h0M165.9 70.9h0M143.8 82.8h0M150.8 79.2h0M141.4 91.3h0M172.8 58.6h0M148.1 73.5h0M171.6 69.0h0M174.5 67.6h0M147.4 71.8h0M156.3 62.1h0M143.9 92.2h0M156.2 72.1h0M165.4 68.7h0M149.7 62.9h0M161.0 69.7h0M153.1 80.0h0M156.3 79.4h0M173.7 58.6h0M171.8 69.5h0M152.3 85.1h0M165.6 71.7h0M167.4 70.6h0M148.2 60.1h0M160.4 63.1h0M150.1 68.0h0M153.3 73.1h0M161.0 73.1h0M159.9 77.5h0M153.1 62.8h0M150.2 56.8h0M154.9 80.9h0M143.5 88.6h0M165.1 59.8h0M161.1 67.0h0M167.9 72.0h0M177.0 59.8h0M151.6 59.6h0M149.6 83.0h0M174.7 58.7h0M163.4 72.4h0M147.4 82.1h0M149.6 73.5h0M166.7 74.1h0M151.9 83.3h0M164.5 76.6h0M151.3 76.2h0M160.5 68.6h0M145.7 73.7h0M154.7 74.2h0M148.7 76.1h0M162.0 60.6h0M147.0 65.8h0M166.0 73.8h0M166.1 75.4h0M148.8 61.2h0M154.8 59.4h0M168.5 73.0h0M173.6 71.9h0M154.6 77.0h0M139.3 96.2h0M159.2 66.3h0M164.4 58.2h0M150.8 81.0h0M155.7 65.3h0M142.3 92.9h0M165.4 67.6h0M144.3 83.1h0M153.6 78.8h0M151.5 71.4h0M150.0 71.2h0M166.2 62.6h0M149.2 62.9h0M143.4 96.0h0M166.1 74.8h0M159.5 60.1h0M149.0 69.9h0M149.1 66.2h0M146.6 76.8h0M148.3 76.6h0M147.9 88.5h0M164.4 74.9h0M162.2 79.1h0M152.3 58.8h0M140.2 97.4h0M167.0 59.8h0M161.9 58.7h0M167.2 71.5h0M153.5 67.1h0M145.9 90.9h0M166.8 76.2h0M150.3 69.0h0M158.1 71.6h0M154.7 67.9h0M140.9 90.3h0M155.8 72.8h0M173.9 66.4h0M149.0 85.4h0M159.6 71.1h0M152.2 84.5h0M170.4 64.4h0M157.2 65.5h0M154.2 72.1h0M147.7 65.9h0M165.9 69.6h0M153.0 71.6h0M156.7 72.8h0M147.4 61.2h0M142.7 76.2h0M145.8 81.9h0M168.9 73.0h0M154.7 58.1h0M147.3 83.5h0M170.1 61.0h0M154.7 79.9h0M165.0 69.9h0M157.9 74.7h0M161.2 60.1h0M156.2 67.8h0M145.6 77.9h0M153.8 73.7h0M152.5 65.6h0M150.0 80.9h0M156.1 60.3h0M173.9 66.6h0M143.2 91.2h0M143.3 86.0h0M145.3 86.4h0M169.0 65.3h0M166.7 72.7h0M156.7 68.8h0M146.7 68.6h0M148.8 63.7h0M173.6 72.3h0M165.8 62.2h0M171.9 70.3h0M143.1 78.5h0M156.1 58.6h0M148.2 66.2h0M175.9 66.8h0M150.8 74.9h0M172.0 63.0h0M150.4 77.7h0M152.2 81.4h0M143.3 82.9h0M147.5 80.6h0M146.1 74.5h0M149.0 83.4h0M160.3 70.7h0M149.1 78.6h0M167.7 69.3h0M161.3 66.0h0M166.5 77.4h0M151.5 74.3h0M140.5 97.6h0M155.8 81.8h0M162.7 58.6h0M166.0 60.5h0M155.1 77.7h0M140.5 89.5h0M143.6 79.6h0M148.9 62.4h0M148.0 81.8h0M148.0 67.4h0M156.5 71.4h0M166.8 61.6h0M167.5 64.6h0M171.0 58.8h0M162.0 65.7h0M165.2 74.0h0M144.7 93.6h0M166.3 64.5h0M154.0 67.1h0M163.9 61.2h0M147.3 61.5h0M141.8 95.3h0M143.7 96.0h0M159.0 76.5h0M146.3 76.7h0M173.6 60.8h0M172.8 69.9h0M148.7 72.0h0M168.3 72.8h0M148.0 71.7h0M144.7 92.7h0M164.5 61.8h0M149.7 82.8h0M140.7 94.0h0M155.9 63.3h0M143.5 78.6h0M152.0 77.4h0M159.0 58.3h0M162.6 60.3h0M163.1 59.1h0M159.6 63.1h0M149.7 60.4h0M173.6 62.5h0M166.1 58.4h0M166.7 61.7h0M157.5 63.3h0M167.7 69.4h0M170.1 61.3h0M149.2 86.8h0M168.2 69.9h0M146.0 84.6h0M144.2 77.7h0M149.6 72.7h0M163.3 57.5h0M153.3 64.5h0M168.3 60.8h0M147.2 64.4h0M169.1 65.9h0M173.6 73.7h0M146.3 73.4h0M145.3 93.9h0" stroke="#F8766D" stroke-width="1.00" stroke-linecap="round" stroke-opacity="0.45"/>
<path d="M171.8 84.1h0M180.7 74.3h0M178.7 79.1h0M169.6 67.3h0M178.2 85.6h0M177.7 62.4h0M169.4 78.9h0M180.6 72.3h0M180.3 70.2h0M172.1 63.5h0M172.1 79.2h0M172.7 92.4h0M171.4 58.3h0M179.2 71.7h0M174.1 82.4h0M179.2 69.7h0M169.2 82.0h0M176.5 58.4h0M167.4 72.9h0M166.2 76.2h0M173.2 68.1h0M167.0 81.2h0M169.8 69.2h0M169.9 63.0h0M170.2 77.0h0M178.6 67.7h0M167.8 67.5h0M171.5 87.7h0M173.9 58.8h0M169.8 62.2h0M167.1 61.2h0M171.0 58.9h0M171.1 89.0h0M169.8 77.2h0M179.6 76.7h0M180.8 60.9h0M178.3 65.2h0M179.9 64.0h0M166.3 79.5h0M171.9 70.2h0M167.7 85.4h0M178.8 78.7h0M178.2 58.8h0M171.4 68.3h0M174.0 76.5h0M166.8 83.8h0M167.1 67.0h0M171.7 86.9h0M179.8 71.3h0M168.0 84.6h0M182.6 60.6h0M173.7 78.9h0M177.9 64.9h0M178.7 83.2h0M170.9 66.9h0M172.5 88.0h0M176.6 67.2h0M179.8 70.5h0M178.4 72.6h0M175.2 63.5h0M172.5 73.2h0M180.6 63.0h0M169.2 82.4h0M174.9 90.3h0M165.6 73.1h0M171.0 76.3h0M166.3 65.0h0M183.0 64.1h0M170.8 78.2h0M178.8 81.1h0M172.1 69.0h0M172.5 68.4h0M169.1 75.7h0M168.2 69.5h0M166.9 64.8h0M175.8 70.2h0M166.2 71.7h0M170.1 59.0h0M171.1 73.0h0M178.5 67.4h0M172.8 90.9h0M177.6 74.0h0M169.0 86.7h0M183.3 66.2h0M182.8 71.9h0M169.3 67.3h0M169.0 87.7h0M180.3 68.5h0M176.7 64.1h0M176.4 87.1h0M175.6 75.9h0M179.5 73.9h0M176.2 68.5h0M168.2 65.9h0M175.9 77.2h0M177.0 82.9h0M181.2 69.6h0M167.5 63.3h0M171.8 81.9h0M166.8 64.1h0M170.5 78.0h0M169.3 60.1h0M168.9 70.8h0M169.2 72.9h0M170.4 90.5h0M183.3 63.6h0M173.1 90.3h0M171.9 81.3h0M180.0 69.8h0M174.5 60.5h0M167.9 87.4h0M171.2 83.8h0M173.8 83.7h0M170.1 60.3h0M179.0 66.9h0M169.2 74.3h0M174.4 90.3h0M178.5 73.4h0M173.1 79.7h0M166.8 68.6h0M177.0 64.1h0M169.2 71.1h0M169.6 88.8h0M176.1 66.2h0M165.6 79.8h0M164.9 76.7h0M180.6 62.2h0M173.2 78.2h0M168.3 64.2h0M178.2 63.2h0M167.6 65.2h0M167.5 79.5h0M173.9 58.4h0M170.1 82.0h0M170.3 69.9h0M184.2 62.4h0M167.7 74.5h0M171.4 68.4h0M173.8 58.7h0M172.2 89.2h0M175.0 60.8h0M169.7 66.3h0M170.6 69.6h0M165.9 62.7h0M180.3 63.1h0M179.0 59.7h0M178.8 65.9h0M174.3 84.8h0M178.0 80.5h0M171.9 83.1h0M168.0 74.4h0M166.5 59.8h0M177.8 73.9h0M171.3 77.6h0M175.0 63.9h0M183.2 68.8h0M183.7 63.9h0M168.6 59.4h0M166.4 83.4h0M165.5 74.5h0M171.7 84.5h0M173.3 84.6h0M171.2 89.8h0M174.5 62.0h0M175.9 72.5h0M181.4 71.2h0M178.7 61.0h0M171.4 92.3h0M174.9 72.1h0M177.6 80.1h0M170.8 90.5h0M174.2 86.7h0M174.6 80.2h0M180.1 65.5h0M180.6 64.2h0M182.8 59.2h0M168.0 77.2h0M178.4 71.6h0M169.2 83.8h0M176.0 66.3h0M171.0 66.4h0M175.7 66.6h0M175.3 67.4h0M167.8 83.8h0M173.4 67.8h0M172.3 84.6h0M170.1 57.9h0M177.8 67.5h0M172.9 73.0h0M171.1 64.9h0M176.5 81.5h0M170.4 75.1h0M169.8 82.4h0M173.1 79.8h0M172.9 76.5h0M173.8 69.5h0M182.4 68.4h0M181.2 72.3h0M166.8 79.0h0M171.2 65.3h0M174.4 87.3h0M177.9 67.6h0M167.4 79.4h0M168.8 85.0h0M176.9 65.4h0M173.9 71.1h0M184.4 63.7h0M165.7 65.0h0M174.2 92.5h0M178.8 61.1h0M178.3 70.2h0M171.2 68.9h0M176.2 63.0h0M175.5 67.4h0M171.4 64.8h0M180.3 72.0h0M182.7 69.4h0M167.7 73.5h0M166.5 62.5h0M176.5 78.8h0M168.8 64.6h0M176.0 73.1h0M174.5 81.7h0M168.3 56.4h0M180.0 62.3h0M171.1 69.7h0M179.6 60.4h0M166.3 65.1h0M178.3 73.9h0M167.0 72.3h0M168.6 79.6h0M174.4 60.8h0M167.7 74.9h0M177.4 72.8h0M173.9 81.2h0M172.5 63.6h0M169.5 65.1h0M176.7 81.1h0M167.7 76.1h0M176.4 82.2h0M170.0 71.8h0M174.3 61.1h0M173.4 60.7h0M171.1 94.3h0M169.7 67.7h0M172.3 82.8h0M180.9 70.8h0M173.7 72.9h0M172.2 79.6h0M167.9 85.4h0M169.5 71.5h0M173.6 64.1h0M170.3 65.7h0M170.5 72.4h0M183.5 60.1h0M168.2 71.2h0M174.9 71.3h0M167.0 67.6h0M174.2 87.7h0M168.2 86.8h0M166.9 71.7h0M175.1 84.6h0M175.0 89.3h0M178.4 72.7h0M175.1 72.3h0M181.8 68.9h0M168.0 66.1h0M170.1 87.8h0M178.7 66.3h0M173.0 91.0h0M168.1 65.6h0M169.7 70.2h0M176.9 69.2h0M169.0 89.1h0M167.8 80.9h0M173.8 75.1h0M166.3 67.4h0M169.7 79.1h0M173.8 85.8h0M173.4 69.0h0M171.5 84.1h0M170.3 75.6h0M168.7 70.8h0M173.2 60.9h0M170.8 69.9h0M172.0 76.2h0M171.0 62.6h0M169.2 59.9h0M173.3 86.3h0M166.8 74.5h0M166.5 64.9h0M176.3 80.7h0M169.8 58.9h0M168.9 58.0h0M176.0 74.2h0M166.4 62.8h0M180.4 65.1h0M171.3 73.5h0M173.5 68.4h0M168.9 58.2h0M179.3 64.7h0M171.0 87.5h0M174.7 66.7h0M174.8 78.1h0M168.6 73.2h0M178.8 74.1h0M168.7 81.8h0M168.9 74.4h0M168.7 72.1h0M174.2 80.5h0M178.2 79.2h0M170.7 65.3h0M171.1 79.5h0M165.6 75.2h0M167.3 64.4h0M173.9 80.9h0M184.6 59.7h0M168.8 75.5h0M171.8 84.5h0M173.6 64.4h0M175.2 76.7h0M173.0 70.7h0M183.5 59.8h0M180.8 73.9h0M175.4 66.3h0M171.6 58.4h0M166.0 63.8h0M169.9 58.6h0M175.0 89.7h0M179.4 76.2h0M171.5 67.3h0M176.5 74.7h0M168.4 76.4h0M174.3 75.4h0M178.8 65.2h0M177.3 75.8h0M169.8 75.9h0M167.8 82.0h0M168.0 74.3h0M166.4 77.8h0M172.5 63.0h0M179.1 65.7h0M181.0 75.2h0M169.3 79.3h0M169.5 67.0h0M167.9 65.9h0M169.3 63.0h0M173.2 73.4h0M177.4 78.0h0M178.8 80.3h0M174.0 88.7h0M167.7 67.7h0M171.6 68.0h0M172.9 93.2h0M174.4 70.7h0M165.6 72.3h0M174.7 68.5h0M179.6 59.4h0M178.1 82.9h0M167.2 68.8h0M174.0 66.7h0M166.9 62.7h0M180.9 74.0h0M171.1 67.7h0M171.4 79.9h0M180.2 73.5h0M179.6 78.5h0M171.8 61.8h0M181.3 62.9h0M167.3 83.6h0M168.7 71.1h0M173.4 80.5h0M175.9 82.2h0M177.8 72.7h0M174.3 69.0h0M174.2 84.0h0M182.1 68.5h0M176.1 66.3h0M169.8 62.9h0M175.5 83.9h0M175.8 58.8h0M171.6 91.7h0M174.9 85.5h0M166.7 68.5h0M165.6 66.2h0M170.4 75.3h0M166.5 73.6h0M167.3 69.3h0M172.8 61.2h0M172.9 92.5h0M171.9 77.0h0M175.7 73.2h0M180.4 75.5h0M172.5 89.4h0M176.7 86.0h0M175.1 73.3h0M178.8 63.1h0M175.0 65.0h0M172.8 86.7h0M175.6 82.2h0M169.6 86.3h0M170.7 72.2h0M180.7 66.8h0M168.3 83.6h0M170.4 67.6h0M171.7 86.3h0M177.8 72.7h0M175.1 80.7h0M181.3 65.3h0M174.3 83.6h0M175.6 74.5h0M175.6 89.0h0M167.8 84.8h0M170.4 60.6h0M174.3 62.3h0M174.3 64.4h0M173.3 62.4h0M173.4 81.1h0M178.2 61.7h0M181.9 71.1h0M167.5 73.3h0M177.6 71.2h0M180.3 68.4h0M181.5 58.7h0M173.6 77.9h0M172.4 63.9h0M177.3 61.7h0M168.7 72.7h0M176.5 84.9h0M175.2 86.5h0M177.6 60.5h0M180.1 72.9h0M170.1 91.1h0M172.6 78.5h0M174.3 85.2h0M172.2 77.2h0M169.0 69.8h0M166.6 67.3h0M170.2 83.0h0M167.7 63.1h0M167.2 56.8h0M166.9 75.3h0M175.8 88.9h0M166.5 59.8h0M166.9 70.5h0M165.8 80.0h0M168.8 66.2h0M171.1 66.4h0M170.6 64.9h0M172.3 79.3h0" stroke="#F8766D" stroke-width="1.00" stroke-linecap="round" stroke-opacity="0.45"/>
<path d="M166.6 110.0h0M161.7 91.2h0M155.4 103.7h0M161.4 97.6h0M160.6 102.5h0M154.4 104.6h0M159.0 94.1h0M165.8 95.3h0M165.9 114.8h0M165.9 115.3h0M167.6 109.4h0M169.5 113.8h0M157.2 101.8h0M168.2 119.7h0M167.1 112.3h0M156.1 98.8h0M155.0 112.0h0M159.1 97.1h0M152.6 95.5h0M160.8 91.7h0M157.7 96.5h0M168.6 107.7h0M159.8 105.0h0M161.6 115.2h0M168.3 120.6h0M169.7 118.3h0M158.4 93.5h0M164.9 104.7h0M155.6 96.8h0M158.3 99.2h0" stroke="#F8766D" stroke-width="1.00" stroke-linecap="round" stroke-opacity="0.5"/>
<path d="M174.3 93.6h0M172.7 93.5h0M173.0 92.0h0M174.8 101.2h0M177.6 86.7h0M170.4 86.3h0M168.9 81.4h0M170.4 87.8h0M175.2 96.9h0M169.5 85.4h0M174.5 103.3h0M169.0 88.9h0M178.1 82.1h0M176.5 78.7h0M173.9 80.6h0M176.2 89.1h0M173.8 101.8h0M170.0 90.1h0M170.5 89.8h0M169.2 88.7h0M170.3 85.7h0M172.5 102.1h0M168.3 81.0h0M169.8 89.1h0M173.1 105.1h0M176.8 84.9h0M169.2 94.0h0M178.7 84.6h0M174.4 89.3h0M173.4 93.6h0M176.9 81.5h0M175.1 85.4h0M170.5 91.3h0M171.0 92.4h0M171.7 80.5h0M178.0 81.4h0M172.3 81.6h0M176.4 79.2h0M174.3 88.2h0M176.1 83.4h0M173.8 90.8h0M172.5 80.2h0M170.8 83.2h0M172.6 85.8h0M171.0 99.4h0M171.5 79.0h0M178.2 80.3h0M175.1 94.9h0M173.8 89.6h0M173.9 95.9h0M174.9 88.2h0M169.7 97.8h0M169.0 82.1h0M171.1 90.9h0M173.2 104.7h0M171.1 80.4h0M177.1 84.2h0M171.2 105.0h0M174.9 97.7h0M172.2 89.1h0M173.6 103.0h0M175.7 81.3h0M173.7 84.2h0M173.2 96.0h0M172.4 89.8h0M170.5 100.8h0M175.0 86.2h0M170.7 99.5h0M169.7 84.2h0M174.6 81.0h0M174.4 84.9h0M170.1 84.4h0M175.7 93.7h0M172.8 92.3h0M170.4 89.8h0M176.8 80.6h0M170.5 90.3h0M176.9 86.0h0M176.3 83.3h0M170.9 101.7h0M170.7 101.8h0M172.9 93.4h0M168.9 89.0h0M174.0 90.9h0M176.7 82.3h0M177.6 80.0h0M177.1 82.0h0M178.5 81.9h0M170.7 103.5h0M172.9 84.5h0M171.6 92.2h0M171.6 91.3h0M171.8 83.1h0M170.9 92.6h0M169.8 96.5h0M172.2 83.6h0M170.9 96.6h0M169.3 81.6h0M175.4 90.5h0M176.4 81.5h0M172.8 103.4h0M175.9 92.3h0M172.5 89.7h0M172.2 102.2h0M172.0 81.1h0M170.1 101.5h0M174.3 87.3h0M173.1 81.2h0M172.8 81.3h0M172.4 95.7h0M169.0 90.8h0M176.4 90.3h0M174.9 91.0h0M173.1 94.6h0M172.5 86.1h0M173.5 100.1h0M169.6 90.7h0M171.5 102.3h0M171.3 98.5h0M173.4 80.8h0M171.7 90.6h0M174.7 95.4h0M172.0 96.6h0M170.4 84.3h0M171.2 90.0h0M171.7 94.7h0M168.2 87.4h0M177.2 81.2h0M173.2 86.7h0M170.8 81.9h0M175.7 90.7h0M179.1 78.8h0M171.5 82.9h0M176.0 79.7h0M171.7 80.0h0M171.6 104.5h0M171.4 81.1h0M176.2 79.4h0M178.3 85.0h0M174.3 78.9h0M173.2 100.5h0M169.6 82.3h0M172.6 86.7h0M171.4 86.4h0M174.1 95.4h0M172.1 103.2h0M172.2 102.0h0M172.8 89.6h0M175.0 79.5h0M174.5 79.2h0M168.7 84.4h0M172.6 89.2h0M170.4 89.4h0M170.8 83.7h0M172.7 95.5h0M171.4 90.1h0M170.9 82.0h0M172.0 86.9h0M170.4 97.5h0M174.7 99.8h0M168.9 85.5h0M176.2 88.3h0M175.3 91.6h0M170.8 93.5h0M173.2 94.8h0M171.8 99.5h0M172.4 99.3h0M174.3 93.9h0M173.9 88.0h0M170.4 82.3h0M175.9 87.0h0M173.8 87.4h0M171.2 106.0h0M171.5 97.6h0M174.9 90.9h0M171.7 84.5h0M172.7 100.1h0M173.1 103.6h0M170.0 94.8h0M171.6 92.6h0M177.6 87.0h0M170.0 90.6h0M171.0 84.7h0M173.7 99.5h0M174.1 94.7h0M171.3 93.1h0M177.1 87.1h0M175.8 87.8h0M167.8 86.1h0M172.1 81.2h0M175.1 91.1h0M170.7 93.1h0M170.7 92.5h0M173.3 82.2h0M170.3 87.2h0M173.1 104.6h0M171.9 103.1h0M171.7 97.2h0M175.8 86.9h0M175.6 81.0h0" stroke="#F8766D" stroke-width="1.00" stroke-linecap="round" stroke-opacity="0.45"/>
<path d="M136.0 111.2h0M139.3 105.8h0M142.9 98.2h0M136.5 93.3h0M138.5 95.7h0M137.7 94.2h0M136.8 106.9h0M140.9 104.7h0M143.8 106.3h0M141.4 88.7h0M144.6 94.0h0M142.8 104.2h0M136.6 106.1h0M137.6 105.9h0M142.1 102.2h0M138.7 99.8h0M142.0 104.5h0M133.3 111.6h0M145.9 96.0h0M143.6 101.0h0M140.0 101.4h0M146.6 98.5h0M146.1 101.9h0M148.0 90.1h0M137.6 88.5h0M140.6 93.1h0M139.2 102.1h0M140.0 99.6h0M133.4 112.3h0M142.6 105.9h0M148.3 91.1h0M135.0 92.6h0M139.4 106.8h0M142.4 106.1h0M140.6 111.2h0M148.6 90.9h0M143.7 111.1h0M147.2 102.2h0M139.9 89.8h0M137.3 90.0h0M133.8 107.0h0M141.7 96.8h0M145.2 95.0h0M148.0 93.9h0M135.6 93.8h0M136.7 110.0h0M132.0 104.2h0M139.9 94.1h0M142.9 93.3h0M141.8 105.8h0M139.7 109.7h0M147.4 92.8h0M138.4 91.0h0M137.5 90.6h0M140.7 93.8h0M138.4 100.7h0M146.9 89.7h0M138.6 93.5h0M135.3 93.2h0M136.3 110.8h0M136.5 103.6h0M136.8 110.2h0M139.8 108.4h0M147.7 95.2h0M146.2 106.6h0M144.2 93.0h0M136.1 102.0h0M139.1 98.6h0M137.6 91.0h0M137.1 103.9h0M136.8 108.2h0M137.4 102.6h0M135.5 92.3h0M133.8 110.0h0M136.8 97.7h0M145.6 95.1h0M145.4 88.1h0M139.6 88.6h0M146.1 95.0h0M139.0 91.8h0M135.0 96.5h0M141.3 103.3h0M141.6 101.5h0M143.4 89.5h0M138.8 108.8h0M135.7 96.1h0M135.7 102.9h0M146.2 90.6h0M138.7 104.3h0M145.3 107.2h0M134.7 105.4h0M141.5 109.3h0M135.9 107.5h0M134.5 96.1h0M140.1 108.9h0M135.8 97.7h0M138.0 99.8h0M145.2 89.3h0M135.8 89.8h0M140.3 103.2h0M135.4 111.6h0M142.8 103.8h0M139.1 104.3h0M141.1 95.7h0M138.2 97.7h0M133.9 105.8h0M135.4 102.4h0M146.0 92.3h0M136.9 95.4h0M142.7 110.6h0M136.5 100.4h0M137.8 103.9h0M132.2 110.2h0M138.0 91.8h0M140.7 98.8h0M146.0 100.7h0M137.0 103.2h0M139.6 106.5h0M133.2 102.2h0M141.3 88.7h0M138.2 88.4h0M144.4 92.8h0M136.0 109.0h0M136.5 104.4h0M143.7 103.2h0M147.7 97.0h0M137.3 98.3h0M132.9 105.6h0M138.7 104.3h0M140.2 110.7h0M141.1 101.6h0M142.0 92.4h0M139.1 100.5h0M146.2 102.7h0M138.4 111.6h0M138.5 111.5h0M140.9 97.7h0M146.1 93.3h0M147.2 89.0h0M143.6 110.6h0M143.0 94.5h0M135.9 107.1h0M135.7 110.0h0M139.1 90.8h0M145.2 105.3h0M144.7 88.7h0M139.8 99.9h0M139.1 96.5h0M143.6 99.3h0M137.1 99.9h0M142.1 89.2h0M136.9 93.8h0M136.9 96.5h0M137.4 96.6h0M143.4 92.5h0M137.5 105.0h0M143.7 95.9h0M136.8 105.2h0M138.0 106.7h0M148.6 92.3h0M143.8 93.5h0M142.3 109.3h0M143.5 108.8h0M138.4 94.6h0M141.5 95.9h0M141.0 93.3h0M135.7 103.1h0M133.0 104.1h0M134.4 94.8h0M140.2 95.7h0M140.8 106.5h0M138.3 90.9h0M136.0 105.1h0M140.5 110.5h0M137.1 105.5h0M138.7 94.8h0M145.5 95.9h0M135.8 98.8h0M139.1 89.9h0M138.3 90.9h0M134.0 101.2h0M144.2 108.4h0M135.9 107.9h0M145.2 89.3h0M136.1 93.6h0M135.0 103.7h0M139.5 111.0h0M146.6 95.4h0M136.6 100.4h0M138.7 107.8h0M136.3 108.7h0M142.6 97.0h0M139.9 105.8h0M147.4 95.1h0M140.8 110.1h0M146.0 94.9h0M146.3 90.7h0M138.5 101.0h0M138.0 88.2h0M142.3 102.5h0M143.6 92.0h0M141.9 88.3h0M136.9 100.5h0M137.8 104.5h0M135.0 100.1h0M138.9 93.0h0M147.9 96.4h0M138.2 107.4h0M142.6 101.8h0M143.9 100.3h0M146.6 101.7h0M145.5 87.2h0M140.1 109.5h0M140.4 104.3h0M141.4 110.5h0M134.2 108.4h0M149.1 93.2h0M137.1 93.2h0M143.1 105.5h0M135.8 107.2h0M140.4 100.0h0M138.9 99.8h0M138.7 112.0h0M137.3 91.0h0M147.3 97.8h0M142.6 95.0h0M146.2 100.5h0M143.7 104.4h0M142.1 103.7h0M135.5 92.2h0M139.5 108.0h0M135.8 106.7h0M146.4 93.9h0M145.1 106.5h0M145.5 102.2h0M138.7 109.8h0M137.1 99.2h0M133.7 101.2h0M144.6 100.6h0M138.3 88.0h0M142.9 89.2h0M146.3 102.3h0M145.4 94.2h0M142.0 96.8h0M142.8 103.0h0M135.5 110.9h0M137.6 98.2h0M145.0 107.6h0M138.7 96.1h0M141.4 98.9h0" stroke="#F8766D" stroke-width="1.00" stroke-linecap="round" stroke-opacity="0.45"/>
<path d="M121.9 102.0h0M111.9 100.7h0M126.2 111.3h0M127.3 97.9h0M118.7 106.7h0M110.5 106.8h0M115.2 106.4h0M126.9 96.6h0M130.4 112.7h0M116.6 97.4h0M125.7 103.5h0M122.4 102.8h0M114.8 104.0h0M114.0 106.4h0M116.1 110.7h0M129.1 107.9h0M126.1 103.2h0M123.9 113.8h0M119.0 103.8h0M128.4 104.2h0M127.3 101.6h0M117.4 105.5h0M119.5 101.3h0M115.5 112.6h0M123.0 107.8h0M112.3 100.5h0M130.0 104.1h0M124.5 98.8h0M123.1 105.8h0M123.0 99.3h0M116.7 101.0h0M120.6 100.4h0M117.9 106.1h0M122.1 103.3h0M118.6 106.5h0M124.3 111.5h0M125.2 97.4h0M117.9 109.0h0M126.4 115.7h0M126.8 109.2h0M123.6 103.1h0M122.5 102.8h0M118.9 98.6h0M117.6 107.3h0M111.8 111.6h0M115.2 115.0h0M118.3 105.4h0M123.6 106.9h0M130.6 112.0h0M121.4 102.9h0M119.7 104.3h0M117.8 109.7h0M112.2 112.3h0M118.6 115.0h0M115.4 113.0h0M126.6 100.2h0M123.0 112.1h0M129.7 107.2h0M120.8 108.8h0M124.6 96.1h0M121.4 115.3h0M121.7 98.5h0M115.3 115.6h0M121.2 97.0h0M118.1 108.2h0M114.8 106.2h0M121.8 110.2h0M117.4 98.9h0M119.7 99.2h0M121.9 104.2h0M125.9 100.7h0M123.0 102.5h0M122.7 105.4h0M123.1 108.9h0M115.0 112.7h0M113.1 107.4h0M115.9 114.3h0M115.3 106.3h0M125.4 112.1h0M112.5 101.0h0M115.8 99.7h0M128.1 111.1h0M130.2 110.1h0M114.7 99.8h0M111.2 117.1h0M124.6 110.7h0M126.1 112.0h0M119.6 105.5h0M123.0 106.2h0M116.6 103.9h0M124.6 95.6h0M121.5 115.9h0M116.4 105.5h0M114.9 96.0h0M123.2 116.3h0M120.3 115.4h0M118.0 110.5h0M128.3 97.7h0M125.0 102.7h0M118.2 96.9h0M129.5 100.9h0M118.9 114.0h0M119.2 106.1h0M123.8 112.7h0M121.9 115.5h0M121.0 114.0h0M125.8 101.9h0M117.5 113.1h0M124.1 99.6h0M122.6 109.9h0M111.4 108.3h0M122.7 101.1h0M130.1 102.7h0M124.1 102.3h0M120.2 116.4h0M118.8 104.9h0M116.1 104.7h0M117.8 117.6h0M127.7 114.8h0M125.3 115.7h0M117.3 115.9h0M127.1 109.3h0M119.3 112.7h0M111.2 108.5h0M114.4 104.1h0M113.1 111.9h0M113.9 98.5h0M125.7 109.1h0M120.6 100.8h0M113.2 101.6h0M121.9 97.3h0M121.9 106.0h0M116.7 95.8h0M120.4 113.9h0M126.8 109.2h0M116.2 97.7h0M128.4 97.8h0M122.7 102.4h0M117.9 108.0h0M121.0 113.7h0M115.8 102.1h0M116.6 97.0h0M115.9 107.7h0M119.9 100.4h0M127.1 110.6h0M128.4 106.1h0M125.8 108.3h0M129.4 103.4h0M128.4 105.1h0M128.6 114.6h0M117.9 107.3h0M120.2 98.6h0M117.8 118.8h0M118.0 97.2h0M124.6 105.1h0M120.9 97.8h0M122.8 105.1h0M123.1 105.4h0M116.5 98.0h0M112.7 110.6h0M114.0 99.0h0M117.6 114.6h0M112.6 102.9h0M121.9 100.5h0M117.1 109.1h0M124.7 113.3h0M126.5 103.2h0M124.6 112.7h0M123.5 109.0h0M120.2 95.8h0M119.9 97.7h0M117.6 112.5h0M123.3 113.4h0M127.7 109.4h0M126.7 111.5h0M121.4 97.4h0M121.4 114.5h0M127.1 115.9h0M121.4 116.0h0M126.0 105.1h0M121.6 103.4h0M117.8 102.6h0M121.7 107.3h0M114.2 99.4h0M123.5 108.6h0M122.2 106.0h0M116.1 105.6h0M118.5 108.9h0M117.5 103.9h0M113.4 102.0h0M123.0 109.0h0M116.1 101.3h0M120.7 115.2h0M129.5 112.2h0M129.2 107.6h0M122.8 98.7h0M124.1 101.7h0M121.3 99.8h0M122.2 102.9h0M129.2 106.5h0" stroke="#00BFC4" stroke-width="1.00" stroke-linecap="round" stroke-opacity="0.4"/>
<path d="M111.4 112.8h0M115.3 113.2h0M122.4 110.6h0M118.1 115.9h0M118.3 107.6h0M115.8 109.3h0M122.5 115.2h0M115.4 107.4h0M116.1 108.9h0M113.9 109.3h0M111.8 106.3h0M117.6 112.9h0M116.4 110.4h0M115.2 111.9h0M121.8 109.5h0M114.1 113.3h0M116.3 107.0h0M118.8 111.2h0M120.7 115.0h0M119.1 107.3h0M120.0 112.9h0M116.1 113.0h0M116.0 105.1h0M115.8 104.5h0M116.1 115.2h0M113.3 108.0h0M120.0 112.7h0M118.6 108.0h0M118.2 108.7h0M118.2 104.2h0M119.1 117.1h0M112.4 108.6h0M113.6 104.3h0M116.7 109.2h0M121.1 107.4h0M119.4 109.9h0M123.7 112.9h0M119.9 111.2h0M124.0 110.1h0M114.0 107.0h0M122.3 113.8h0M113.7 108.2h0M120.5 110.2h0M118.4 103.6h0M120.7 107.4h0M113.0 108.2h0M120.9 110.3h0M115.2 114.5h0M113.4 113.4h0M122.6 108.7h0M114.4 104.5h0M114.8 108.4h0M119.6 116.4h0M115.1 103.7h0M118.2 107.0h0M119.6 113.4h0M117.1 114.0h0M121.6 111.1h0M118.4 107.4h0M112.9 105.7h0M122.1 110.1h0M123.5 109.8h0M123.5 112.1h0M116.0 108.1h0M113.4 110.2h0M114.5 107.7h0M116.1 108.7h0M115.8 110.2h0M117.4 115.7h0M119.1 112.4h0M118.9 108.1h0M116.8 105.1h0M121.5 108.8h0M116.1 114.4h0M114.1 113.1h0M120.7 112.4h0M113.5 104.3h0M121.7 110.1h0M113.9 115.1h0M113.7 109.5h0M114.5 111.2h0M112.7 104.0h0M115.7 113.7h0M117.9 105.2h0M118.3 117.4h0M121.6 108.6h0M119.3 115.7h0M116.5 107.8h0M119.0 111.3h0M112.8 106.1h0M115.8 104.7h0M114.0 106.3h0M120.4 106.3h0M115.2 115.8h0M112.7 104.6h0M112.5 108.0h0M123.4 113.3h0M119.6 109.5h0M118.2 106.6h0M112.1 111.6h0M116.0 107.9h0M123.6 111.7h0M115.9 116.8h0M113.5 105.4h0M120.5 106.8h0M119.9 107.5h0M114.2 112.0h0M119.6 107.5h0M112.6 107.5h0M118.1 106.8h0M121.4 109.5h0M113.7 110.0h0M113.5 113.2h0M113.3 111.4h0M112.0 104.2h0M117.9 104.0h0M119.5 110.2h0M119.3 114.3h0M113.2 107.7h0M117.6 113.9h0M111.8 105.4h0M121.8 111.7h0M119.7 109.2h0M115.6 108.1h0M117.6 106.9h0M120.1 105.7h0M117.0 115.9h0M118.4 115.1h0M115.7 115.3h0M112.9 114.4h0M121.8 112.9h0M121.6 107.6h0M118.8 112.6h0M113.2 108.8h0M122.2 111.8h0M117.6 104.2h0M118.6 114.7h0M118.2 112.4h0M112.0 104.0h0M119.2 116.7h0M120.5 110.0h0M121.5 113.8h0M113.4 105.3h0M116.1 112.2h0M114.8 107.2h0M117.7 106.5h0M119.0 118.1h0M119.5 114.5h0M114.7 115.5h0M114.0 114.6h0" stroke="#00BFC4" stroke-width="1.00" stroke-linecap="round" stroke-opacity="0.45"/>
<path d="M168.2 100.2h0M167.0 102.3h0M168.4 100.3h0M168.6 98.9h0M168.7 98.8h0M166.2 101.9h0M169.9 97.3h0M166.4 102.9h0M170.2 97.0h0M166.4 102.5h0M168.1 102.2h0M167.9 101.3h0M167.7 101.9h0M166.6 101.3h0M166.3 101.3h0M165.8 101.2h0M167.5 101.9h0M169.1 97.3h0M166.8 102.1h0M168.6 101.4h0M167.5 101.4h0M165.9 102.3h0M165.8 103.6h0M170.0 96.8h0M169.7 97.8h0" stroke="#00BFC4" stroke-width="1.00" stroke-linecap="round" stroke-opacity="0.7"/>
<path d="M132.3 130.5h0M127.9 128.5h0M139.3 121.1h0M134.0 139.6h0M138.3 119.9h0M138.9 122.1h0M141.8 140.7h0M131.6 134.6h0M129.0 121.4h0M141.5 125.0h0M136.3 135.0h0M133.3 128.4h0M138.8 138.8h0M145.5 135.9h0M137.4 124.4h0M136.3 127.3h0M134.5 137.7h0M137.6 134.9h0M136.2 139.9h0M142.4 132.6h0M135.1 118.9h0M130.0 125.3h0M138.9 138.0h0M134.1 133.8h0M137.9 139.4h0M141.1 123.7h0M135.3 116.8h0M139.4 115.1h0M128.5 130.8h0M143.2 137.9h0M136.5 137.4h0M137.1 138.5h0M129.1 117.4h0M140.4 123.3h0M138.6 134.6h0M136.4 123.2h0M135.6 129.7h0M127.7 129.0h0M139.7 120.6h0M140.2 127.3h0M138.7 125.6h0M136.4 135.0h0M132.8 118.4h0M137.4 122.9h0M132.8 132.5h0M137.1 126.5h0M139.5 124.2h0M130.9 122.0h0M131.0 139.7h0M130.0 129.8h0M130.7 120.1h0M136.2 138.0h0M142.4 129.0h0M133.1 123.4h0M127.1 121.7h0M143.6 140.6h0M139.6 123.4h0M134.9 117.8h0M132.2 123.9h0M135.9 124.6h0M138.9 128.3h0M134.0 126.8h0M135.8 122.6h0M133.5 127.8h0M142.6 136.7h0M143.8 133.3h0M132.5 132.0h0M129.6 133.0h0M141.1 124.3h0M133.6 136.6h0M133.6 130.1h0M133.2 123.7h0M137.8 137.1h0M130.2 120.2h0M135.5 140.8h0M132.7 135.2h0M132.9 127.3h0M135.4 140.3h0M137.4 119.1h0M132.7 120.8h0M131.6 118.9h0M139.2 135.8h0M141.9 127.3h0M128.8 118.4h0M130.0 135.6h0M139.3 119.2h0M142.0 134.2h0M138.7 123.1h0M135.5 140.0h0M139.4 116.3h0M134.8 130.3h0M141.7 130.1h0M131.4 133.2h0M137.5 132.1h0M133.2 134.9h0M132.1 124.9h0M131.8 137.8h0M138.5 136.3h0M140.9 119.3h0M141.3 136.5h0M134.6 136.0h0M132.9 119.0h0M137.4 118.1h0M134.9 139.5h0M144.0 135.3h0M135.2 120.1h0M138.3 116.9h0M141.4 135.4h0M128.3 124.3h0M136.7 125.5h0M141.1 133.3h0M132.7 117.8h0M129.5 119.3h0M136.0 118.7h0M127.0 125.4h0M142.7 131.2h0M132.5 122.6h0M135.1 126.0h0M139.0 118.9h0M139.0 132.2h0M143.2 136.7h0M142.3 130.8h0M140.7 131.9h0M134.3 117.8h0M135.4 125.3h0M133.7 126.1h0M136.9 132.5h0M141.7 134.2h0M132.7 136.8h0M132.5 128.8h0M138.5 123.1h0M137.6 140.9h0M138.8 130.3h0M135.6 121.4h0M135.8 132.2h0M128.6 125.2h0M129.5 138.8h0M139.6 137.6h0M128.5 127.1h0M133.6 132.3h0M131.5 117.2h0M138.0 131.9h0M128.5 119.6h0M137.0 132.6h0M136.7 130.8h0M139.2 126.1h0M137.4 125.8h0M140.4 129.4h0M129.1 125.2h0M129.8 127.5h0M141.0 127.3h0M129.2 120.9h0M135.3 122.4h0M132.3 126.3h0M138.1 120.6h0M140.0 129.5h0M130.2 131.2h0M133.1 121.4h0M133.8 135.3h0M137.0 120.0h0M140.1 120.2h0M135.3 129.2h0M132.1 119.9h0M137.5 137.3h0M133.5 132.6h0M131.8 132.1h0M140.2 127.3h0M138.5 136.3h0M134.3 121.9h0M133.0 133.4h0M129.2 131.1h0M131.8 127.6h0M144.6 134.4h0M129.6 132.4h0M135.3 140.5h0M132.6 132.6h0M135.2 129.3h0M140.7 126.5h0M141.9 133.0h0M132.1 121.0h0M139.0 130.3h0M131.3 126.3h0M133.5 132.0h0M129.5 124.8h0M129.6 124.8h0M131.9 116.6h0M136.4 131.8h0M136.7 131.3h0M131.9 131.1h0M134.7 115.3h0M134.1 135.5h0M136.0 131.1h0M140.3 127.6h0M131.1 135.2h0M136.9 129.8h0M133.8 129.9h0M138.4 137.3h0M140.8 129.6h0M144.6 135.8h0M132.0 134.9h0M131.0 131.0h0M128.0 133.5h0M141.9 134.3h0M138.0 135.6h0M130.5 127.2h0M137.7 122.8h0M133.2 133.9h0M136.2 134.0h0M138.1 136.3h0M143.8 141.9h0M136.0 134.5h0M136.0 116.2h0M144.3 134.7h0M130.4 124.3h0M140.5 121.3h0M130.8 123.4h0M135.5 128.8h0M132.2 123.0h0M130.1 120.8h0M135.3 131.9h0M136.7 139.8h0M136.5 119.4h0M130.1 131.7h0M129.0 135.1h0M139.7 123.1h0M134.8 119.4h0M136.4 123.3h0M137.4 126.5h0M135.4 124.8h0M133.6 133.1h0M133.8 130.0h0M134.8 133.2h0M133.9 141.0h0M127.5 118.5h0M131.7 121.6h0M129.4 119.1h0M142.4 137.8h0M135.5 135.0h0M140.5 133.3h0M137.3 131.1h0M129.6 132.0h0M137.5 138.4h0M141.7 129.2h0M138.4 121.9h0M131.6 119.1h0M138.6 123.7h0M131.6 134.3h0M134.7 132.3h0M144.5 138.3h0M143.6 132.9h0M136.8 116.0h0M139.3 117.4h0M128.1 122.3h0M140.9 129.8h0M133.2 126.8h0M131.9 132.5h0M140.0 117.6h0M142.2 137.1h0M128.7 131.5h0M129.7 119.1h0M135.8 133.2h0M133.6 123.0h0M141.8 124.9h0M134.1 118.4h0M132.7 134.9h0M132.4 132.8h0M131.5 128.8h0M138.5 139.1h0M130.2 127.6h0M131.1 120.5h0M131.1 126.9h0M142.3 141.3h0M129.0 129.9h0M137.9 118.9h0M137.4 139.6h0M136.1 126.8h0M133.1 131.3h0M134.0 133.5h0M137.9 131.4h0M135.2 117.6h0M127.7 125.7h0M132.6 133.8h0M138.9 117.8h0M140.5 126.4h0M139.0 123.6h0M131.0 124.3h0M138.3 141.0h0M139.3 128.4h0M140.3 134.4h0M135.0 116.6h0M129.2 122.9h0M140.9 126.6h0M135.1 120.1h0M142.6 134.5h0M139.3 140.0h0M142.2 127.6h0M134.0 140.7h0M142.8 138.9h0M133.0 116.3h0M143.1 138.7h0M141.1 129.4h0M136.8 118.0h0M139.3 123.5h0M130.0 122.7h0M136.7 123.4h0M133.5 129.5h0M130.1 129.5h0M129.3 125.8h0M138.5 128.6h0M127.7 128.9h0M132.8 137.4h0M143.1 137.0h0M135.9 120.5h0M128.6 132.4h0M130.1 132.9h0M130.5 126.6h0M140.3 132.7h0M134.3 131.3h0M143.4 135.6h0M135.9 115.9h0M129.6 120.7h0M139.4 117.9h0M140.7 139.5h0M140.8 123.5h0M134.9 129.0h0M133.1 138.1h0M137.1 118.1h0M133.2 134.8h0M140.1 138.5h0M131.3 136.5h0M136.7 117.3h0M134.6 116.6h0M129.1 133.1h0M137.8 128.8h0M133.3 126.0h0M135.2 139.7h0M136.1 137.6h0M136.2 124.1h0M130.1 128.1h0M133.9 132.9h0M137.4 134.9h0M131.6 137.2h0M134.6 119.4h0M135.4 120.6h0M136.4 138.7h0M134.4 121.7h0M141.5 125.1h0M138.0 136.2h0M132.5 121.7h0M130.1 131.9h0M142.5 134.5h0M139.9 130.4h0M139.5 124.2h0M133.4 119.4h0M127.7 120.2h0M134.0 127.8h0M145.1 138.6h0M136.5 117.9h0M129.8 131.5h0M133.6 138.7h0M139.5 132.8h0M135.6 131.7h0M128.9 119.0h0M127.8 136.7h0M138.6 120.2h0M131.8 123.3h0M141.9 132.0h0M142.5 135.1h0M141.2 128.3h0M137.0 131.8h0M135.9 124.4h0M139.8 138.4h0M139.2 116.6h0M134.6 126.0h0M132.8 117.1h0M127.3 124.3h0M134.1 131.1h0M136.7 134.2h0M129.6 122.1h0M132.0 129.1h0M140.7 136.8h0M133.9 116.6h0M129.1 125.6h0M129.1 123.3h0M142.5 126.8h0M133.6 127.2h0M142.3 137.3h0M136.0 119.3h0M139.4 137.6h0M145.6 136.2h0M131.0 120.2h0M145.2 138.2h0M129.1 130.1h0M138.1 130.8h0M136.3 137.2h0M136.1 138.6h0M136.0 128.6h0M135.3 120.3h0M136.0 115.9h0M135.2 126.0h0M141.6 131.6h0M138.6 137.3h0M133.0 115.7h0M138.7 116.9h0M133.6 138.5h0M135.4 125.3h0M132.4 135.9h0M137.7 127.7h0M142.3 135.4h0M141.3 130.1h0M129.2 120.8h0M139.8 126.1h0M145.1 136.2h0M135.0 119.6h0M137.2 132.3h0M127.3 127.3h0M130.0 123.8h0M141.0 138.9h0M130.4 123.8h0M137.3 139.1h0M144.2 135.6h0M129.4 133.9h0M135.9 129.5h0M130.8 119.7h0M133.9 128.0h0M132.9 130.9h0M134.3 132.2h0M142.5 139.0h0M133.8 124.1h0M142.5 131.6h0M130.4 123.2h0M137.8 138.0h0M138.7 132.5h0M134.1 137.4h0M139.5 129.6h0M133.2 129.7h0M133.2 126.5h0M132.1 124.9h0M132.5 133.7h0M131.1 134.6h0M136.0 126.0h0M138.1 140.7h0M138.2 121.7h0M134.4 118.8h0M138.8 139.0h0M128.2 122.7h0M129.7 129.3h0M137.0 131.3h0M144.4 135.7h0M138.1 131.0h0M133.7 119.6h0M135.4 122.5h0M136.7 122.8h0M135.9 119.0h0M137.7 123.1h0M135.4 139.1h0M131.1 136.0h0M136.3 124.0h0M135.4 129.5h0M132.9 131.6h0M141.4 137.6h0M134.9 130.7h0M130.8 128.6h0M132.0 126.0h0M137.4 125.3h0M131.1 129.8h0M133.0 133.5h0M136.7 136.9h0M139.6 126.2h0M142.4 134.0h0M141.1 141.3h0M127.6 125.8h0M138.2 138.4h0M131.7 134.3h0M140.0 134.9h0M140.3 137.3h0M128.0 130.3h0M135.1 128.9h0M137.9 135.0h0M137.2 129.8h0M139.1 141.2h0M128.8 127.1h0M130.0 134.3h0M139.2 134.2h0M140.9 135.4h0M128.5 117.6h0M139.3 123.4h0M132.9 140.3h0M132.3 125.5h0M137.8 121.1h0M133.4 125.0h0M144.1 134.4h0M139.2 116.0h0M129.6 124.5h0M140.3 124.6h0M132.9 126.4h0M134.2 139.6h0M138.5 134.0h0M138.7 130.0h0M140.9 130.3h0M132.9 120.3h0M133.1 124.5h0M133.9 129.5h0M139.4 124.4h0M135.4 133.3h0M129.1 134.2h0M141.8 135.2h0M134.6 117.8h0M135.1 137.4h0M130.9 132.0h0M133.5 139.9h0M133.5 133.8h0M137.4 127.7h0M139.0 132.0h0M133.1 131.3h0M134.3 131.9h0M132.6 131.1h0M142.7 130.7h0M142.3 139.7h0M133.3 126.8h0" stroke="#00BA38" stroke-width="1.00" stroke-linecap="round" stroke-opacity="0.5"/>
<path d="M142.5 134.5h0M142.4 137.9h0M154.3 147.1h0M146.6 138.7h0M151.4 143.6h0M148.7 142.2h0M155.9 149.1h0M155.3 150.0h0M153.5 145.9h0M142.0 136.4h0M148.9 147.2h0M145.4 138.7h0M144.6 138.8h0M158.2 151.8h0M148.7 143.9h0M158.8 149.6h0M152.2 149.7h0M147.6 144.2h0M148.5 145.1h0M148.6 147.9h0M144.5 138.9h0M154.4 150.2h0M142.1 138.1h0M143.2 142.8h0M156.0 148.3h0M148.2 145.5h0M147.0 140.8h0M147.7 143.8h0M147.8 145.3h0M145.9 142.3h0M151.6 145.5h0M147.2 142.9h0M148.0 147.6h0M152.9 147.5h0M147.8 142.8h0M148.1 140.0h0M143.6 137.3h0M144.2 142.2h0M145.5 141.2h0M145.7 141.4h0M151.9 147.6h0M150.3 144.0h0M150.7 145.1h0M142.1 137.3h0M160.5 149.4h0M157.6 148.3h0M146.6 141.7h0M155.0 146.1h0M145.9 141.4h0M153.3 148.7h0M145.2 138.9h0M148.4 144.6h0M142.2 139.7h0M154.5 147.3h0M143.9 136.2h0M148.1 142.5h0M148.0 139.4h0M141.1 138.7h0M143.9 137.5h0M153.4 144.4h0M155.1 151.7h0M153.5 147.3h0M155.3 148.1h0M142.1 134.6h0M156.9 148.9h0M153.1 147.8h0M144.2 136.2h0M144.3 141.9h0M158.1 149.6h0M147.8 142.7h0M145.6 143.9h0M146.8 140.7h0M142.6 135.2h0M145.4 142.7h0M147.9 145.0h0M142.3 138.1h0M146.3 143.3h0M153.2 148.4h0M147.3 141.7h0M151.7 148.8h0M156.6 147.9h0M145.8 141.4h0M150.0 144.3h0M143.1 141.3h0M148.2 140.6h0M157.0 149.2h0M143.7 140.3h0M151.9 145.7h0M142.6 139.4h0M146.3 143.2h0" stroke="#00BA38" stroke-width="1.00" stroke-linecap="round" stroke-opacity="0.5"/>
<path d="M157.6 129.7h0M151.2 125.6h0M153.7 122.7h0M151.8 121.3h0M157.9 122.3h0M153.1 120.3h0M157.5 119.5h0M154.2 129.3h0M149.9 126.0h0M158.0 128.0h0M160.1 125.1h0M159.2 122.3h0M154.3 128.8h0M154.3 135.3h0M153.9 121.9h0M152.6 134.0h0M155.7 125.0h0M151.3 122.6h0M153.1 127.7h0M151.1 127.4h0M157.2 132.4h0M156.2 132.2h0M152.6 133.1h0M152.1 123.3h0M156.2 119.8h0M157.9 124.1h0M152.5 120.5h0M150.9 130.5h0M151.2 128.3h0M159.7 124.4h0M156.9 119.8h0M155.0 127.3h0M159.0 126.2h0M154.3 127.5h0M151.8 131.5h0M151.8 128.6h0M154.9 132.3h0M151.1 127.2h0M156.7 126.1h0M150.7 121.8h0M151.9 124.1h0M154.4 124.9h0M153.6 124.2h0M159.6 124.1h0M154.1 129.7h0M158.2 126.6h0M157.0 122.9h0M156.5 121.9h0M151.4 135.8h0M152.7 127.8h0M151.9 121.9h0M156.6 119.7h0M153.2 124.3h0M157.7 119.6h0M152.2 118.5h0M152.3 126.8h0M155.4 124.5h0M155.5 127.1h0M156.2 121.6h0M155.8 132.4h0M150.9 128.5h0M156.9 128.1h0M156.3 126.8h0M153.0 124.6h0M153.9 120.9h0M150.9 127.7h0M155.5 132.6h0M153.0 125.1h0M154.4 129.7h0M152.1 121.4h0M153.7 127.1h0M153.7 128.1h0M153.0 118.3h0M152.6 126.0h0M155.8 131.9h0M155.1 130.7h0M153.8 132.6h0M154.5 130.3h0M154.8 132.9h0M159.0 127.3h0M152.0 123.2h0M154.3 136.4h0M150.6 121.5h0M152.9 125.2h0M159.3 122.3h0M153.5 123.1h0M150.9 126.4h0M153.3 122.6h0M153.3 132.3h0M153.3 130.5h0M154.1 124.3h0M149.5 118.7h0M154.2 134.6h0M157.2 123.1h0M156.1 136.0h0M150.9 126.6h0M151.1 121.1h0M152.9 127.9h0M153.3 124.6h0M155.4 120.3h0M152.3 132.9h0M151.1 119.7h0M151.4 125.5h0M159.6 122.5h0M154.3 128.9h0M159.6 122.0h0M154.2 120.8h0M156.4 125.4h0M156.7 124.5h0M153.7 130.9h0" stroke="#619CFF" stroke-width="1.00" stroke-linecap="round" stroke-opacity="0.55"/>
<path d="M164.6 141.9h0M165.4 141.7h0M164.8 141.0h0M163.4 140.9h0M164.7 139.4h0M164.4 141.8h0M164.0 140.8h0M162.5 140.3h0M164.4 139.8h0M162.3 141.7h0M163.6 139.5h0M163.6 141.7h0M163.3 139.2h0M163.5 143.0h0M162.3 140.9h0M162.4 141.6h0M164.2 141.5h0M166.0 142.8h0M165.6 143.5h0M166.5 142.4h0M165.2 140.2h0M164.2 141.9h0" stroke="#F564E3" stroke-width="1.00" stroke-linecap="round" stroke-opacity="0.7"/>
<path d="M193.8 123.3h0M195.3 116.1h0M194.5 119.6h0M179.4 137.9h0M179.3 128.2h0M182.9 143.8h0M183.7 135.5h0M182.7 120.0h0M179.6 124.0h0M191.6 118.9h0M172.1 147.9h0M191.6 136.6h0M176.6 153.0h0M185.4 129.5h0M182.2 126.4h0M186.4 137.6h0M191.3 141.9h0M198.0 114.5h0M190.6 122.4h0M198.8 118.0h0M176.5 133.5h0M199.8 118.0h0M195.2 122.8h0M189.8 120.5h0M190.5 126.2h0M171.2 140.8h0M203.7 112.8h0M194.6 117.9h0M172.3 149.2h0M195.1 129.6h0M177.4 140.8h0M177.6 151.7h0M196.5 116.2h0M179.2 127.3h0M177.8 125.3h0M197.7 121.0h0M198.3 116.7h0M184.4 131.9h0M183.7 147.3h0M186.9 142.8h0M196.1 112.4h0M192.2 130.9h0M171.3 142.4h0M178.5 128.4h0M193.9 131.5h0M191.8 132.9h0M199.9 112.6h0M193.7 127.9h0M180.5 130.8h0M195.8 130.0h0M185.7 148.2h0M175.5 136.7h0M172.7 140.6h0M183.7 128.8h0M179.2 146.3h0M189.5 125.3h0M182.0 150.6h0M183.1 128.7h0M169.8 148.8h0M185.6 141.9h0M183.7 123.1h0M171.0 149.2h0M175.1 141.6h0M187.6 138.8h0M182.4 124.8h0M183.2 139.4h0M181.9 136.2h0M190.4 139.0h0M167.0 151.2h0M194.8 123.2h0M179.2 133.0h0M184.7 131.1h0M185.3 144.3h0M200.2 112.8h0M186.5 140.2h0M173.8 153.5h0M178.2 140.6h0M171.8 141.8h0M188.5 127.2h0M195.2 124.8h0M195.7 120.2h0M187.5 139.5h0M199.1 115.6h0M180.7 120.1h0M184.2 131.2h0M190.0 129.6h0M176.5 134.4h0M183.5 126.6h0M177.9 143.7h0M177.7 131.5h0M185.3 126.1h0M187.4 144.5h0M204.1 113.8h0M199.2 120.4h0M176.8 137.3h0M192.4 126.1h0M171.5 148.4h0M188.1 116.6h0M192.7 115.9h0M173.1 151.4h0M164.9 150.0h0M175.1 140.8h0M185.7 126.5h0M173.4 150.5h0M171.3 146.0h0M180.3 148.7h0M163.4 150.9h0M182.8 126.5h0M179.3 144.7h0M169.6 151.2h0M183.5 148.5h0M187.2 117.9h0M196.3 117.3h0M183.7 122.4h0M194.1 126.4h0M182.8 138.8h0M192.2 118.7h0M186.8 128.9h0M182.7 146.3h0M196.9 134.1h0M186.3 123.4h0M184.6 130.3h0M170.7 147.1h0M190.7 128.0h0M185.7 146.4h0M173.6 152.1h0M184.7 118.7h0M186.5 136.9h0M190.4 123.0h0M185.3 131.0h0M176.3 145.6h0M184.7 119.0h0M196.0 133.0h0M196.2 120.7h0M184.5 144.4h0M183.0 122.6h0M185.5 127.6h0M175.8 132.6h0M187.5 132.0h0M181.6 140.8h0M183.2 130.8h0M171.9 143.9h0M186.0 129.8h0M172.4 147.4h0M193.7 123.5h0M194.4 126.7h0M180.5 122.0h0M191.1 117.2h0M194.0 120.5h0M193.8 132.1h0M200.5 124.7h0M185.2 120.5h0M200.2 114.7h0M184.3 141.8h0M193.5 127.0h0M174.7 130.9h0M182.8 142.1h0M186.6 146.7h0M196.0 130.1h0M192.8 130.1h0M166.2 153.2h0M167.0 148.9h0M174.0 127.1h0M175.8 151.6h0M192.3 127.7h0M177.5 147.5h0M193.9 136.6h0M191.2 121.8h0M180.7 129.4h0M180.5 122.8h0M195.9 116.8h0M184.8 125.1h0M180.7 124.8h0M189.1 133.2h0M197.2 130.4h0M189.0 135.1h0M175.4 127.3h0M185.4 138.9h0M185.3 120.7h0M186.9 135.5h0M180.1 143.0h0M189.3 139.7h0M182.1 148.6h0M170.3 152.8h0M200.4 116.3h0M185.8 128.2h0M170.3 152.2h0M190.3 115.9h0M184.6 141.5h0M199.3 119.5h0M198.6 125.8h0M190.2 135.3h0M194.5 128.2h0M183.4 136.8h0M193.5 129.1h0M182.7 140.8h0M192.4 134.1h0M181.9 136.3h0M165.2 152.9h0M178.3 134.2h0M190.3 124.6h0M191.7 121.6h0M182.5 134.3h0M178.0 133.7h0M194.5 134.4h0M177.8 138.1h0M176.3 121.9h0M178.9 144.3h0M189.8 127.2h0M177.0 151.5h0M192.2 132.2h0M187.4 141.8h0M196.9 123.8h0M165.9 151.4h0M192.2 125.2h0M190.4 143.4h0M200.9 117.7h0M180.9 130.2h0M192.9 137.1h0M196.8 126.7h0M184.9 120.7h0M188.6 134.0h0M196.2 121.4h0M190.3 118.1h0M173.7 146.3h0M175.7 138.0h0M176.1 124.5h0M195.8 113.8h0M189.7 123.1h0M193.5 130.2h0M184.6 135.5h0M186.7 136.2h0M194.3 133.0h0M187.1 127.2h0M190.7 116.6h0M196.1 115.2h0M184.1 133.0h0M179.0 147.4h0M191.9 124.0h0M183.9 139.6h0M171.4 148.9h0M177.8 142.4h0M192.6 127.7h0M189.1 118.0h0M197.1 127.5h0M179.4 141.6h0M193.1 135.9h0M197.0 127.2h0M194.5 120.5h0M183.0 149.8h0M183.5 127.7h0M191.9 131.1h0M176.7 124.8h0M188.8 120.4h0M187.9 131.7h0M186.0 121.9h0M176.8 143.2h0M182.6 121.1h0M176.4 138.9h0M185.2 125.5h0M188.7 131.0h0M174.5 146.2h0M186.3 125.0h0M193.0 134.5h0M187.2 139.3h0M178.5 139.2h0M182.3 132.4h0M174.8 151.7h0M175.7 145.7h0M198.1 120.0h0M188.7 132.3h0M166.7 152.9h0M185.1 118.3h0M175.2 133.0h0M184.1 123.3h0M188.4 116.0h0M177.6 140.9h0M175.4 130.1h0M185.4 124.5h0M186.0 145.9h0M188.6 124.4h0M184.4 125.6h0M186.5 136.8h0M184.8 146.3h0M178.5 132.8h0M173.5 150.4h0M194.8 115.6h0M179.4 143.7h0M180.5 137.4h0M176.5 137.2h0M176.8 148.7h0M176.8 142.6h0M181.2 125.5h0M163.3 152.1h0M184.1 145.7h0M182.1 125.4h0M189.9 141.7h0M191.1 127.3h0M173.7 143.9h0M182.9 121.8h0M176.2 144.8h0M184.5 127.3h0M191.7 138.7h0M178.8 123.7h0M189.3 122.2h0M172.7 153.4h0M188.9 118.8h0M186.9 147.0h0M174.0 152.2h0M182.6 132.0h0M183.0 133.3h0M184.4 149.1h0M191.9 133.2h0M183.2 136.5h0M193.7 118.3h0M181.6 144.8h0M187.0 145.9h0M182.1 129.6h0M178.2 123.9h0M192.3 115.7h0M185.6 118.4h0M188.7 140.0h0M175.0 136.6h0M174.5 129.3h0M201.4 114.4h0M181.6 120.6h0M184.5 137.4h0M178.9 135.5h0M179.3 145.7h0M182.7 140.2h0M200.1 113.2h0M177.6 130.9h0M173.5 147.9h0M183.3 122.8h0M198.7 121.9h0M179.5 152.1h0M168.5 153.3h0M196.3 119.8h0M187.6 139.5h0M171.5 149.4h0M175.7 137.1h0M174.0 139.0h0M174.0 141.7h0M182.8 145.0h0M176.7 130.3h0M201.2 119.6h0M173.8 140.3h0M182.4 140.2h0M194.4 119.3h0M183.9 130.1h0M202.2 112.8h0M184.5 133.2h0M199.0 122.9h0M188.2 140.4h0M186.5 143.6h0M182.3 136.0h0M172.2 149.4h0M172.0 149.3h0M191.6 136.2h0M180.1 127.9h0M186.5 137.4h0M181.8 142.6h0M184.0 139.8h0M185.5 147.5h0M194.0 131.0h0M176.7 150.7h0M197.6 112.4h0M193.1 136.8h0M187.7 144.6h0M183.1 134.1h0M181.8 139.7h0M167.9 148.3h0M176.8 131.8h0M181.3 128.2h0M198.5 121.0h0M182.6 131.9h0M182.9 140.4h0M168.3 150.0h0M191.8 117.4h0M180.1 131.3h0M188.1 142.5h0M168.2 149.1h0M191.1 125.6h0M184.8 142.9h0M171.9 150.9h0M175.9 143.8h0M164.1 153.1h0M180.8 151.9h0M193.3 118.2h0M179.6 131.2h0M187.1 144.6h0M191.8 114.9h0M189.7 139.5h0M189.6 133.6h0M184.6 122.2h0M180.3 124.4h0M191.8 138.2h0M195.3 117.9h0M198.6 121.0h0M191.8 115.2h0M180.7 128.3h0M185.7 122.1h0M183.5 136.0h0M197.7 127.7h0M177.0 151.7h0M181.2 123.3h0M193.2 129.4h0M179.9 121.8h0M183.4 128.5h0M182.6 127.7h0M187.3 124.9h0M184.5 130.2h0M201.4 119.0h0M182.5 137.9h0M177.9 127.3h0M183.0 139.2h0M188.9 139.5h0M200.9 119.6h0M187.4 123.0h0M183.7 131.3h0M173.7 135.3h0M186.0 139.6h0M196.3 116.7h0M193.7 134.0h0M184.5 144.9h0M174.9 136.3h0M178.0 130.6h0M191.7 116.4h0M192.1 138.0h0M187.5 127.9h0M191.4 117.9h0M202.4 114.0h0M176.9 132.3h0M187.7 137.0h0M190.3 127.9h0M182.0 129.9h0M180.6 126.5h0M186.5 140.4h0M182.1 120.2h0M197.4 118.0h0M163.3 152.4h0M196.2 123.6h0M190.3 117.1h0M185.2 133.4h0M187.6 131.1h0M196.5 120.4h0M184.6 127.3h0M195.6 128.9h0M195.4 126.0h0M193.7 132.6h0M193.3 137.9h0M181.0 142.3h0M175.2 133.4h0M200.3 123.3h0M169.4 149.9h0M187.4 139.6h0M184.2 148.6h0M171.4 144.6h0M191.7 128.7h0M175.2 130.5h0M177.8 120.9h0M174.9 128.6h0M184.0 129.9h0M194.5 132.4h0M174.5 137.5h0M192.0 137.7h0M170.6 151.6h0M169.4 150.5h0M195.6 121.2h0M200.0 113.3h0M175.0 147.4h0M184.0 140.3h0M177.4 137.3h0M194.9 122.3h0M197.2 117.0h0M189.7 143.6h0M182.8 123.6h0M178.7 151.2h0M174.8 145.3h0M185.5 144.4h0M183.0 131.4h0M187.5 122.1h0M177.7 124.9h0M174.8 135.5h0M196.4 113.4h0M183.5 133.4h0M193.1 118.0h0M179.1 142.2h0M180.9 150.6h0M201.0 116.4h0M193.0 137.4h0M202.2 113.9h0M179.5 126.1h0M185.9 121.0h0M192.8 124.8h0M183.8 135.6h0M191.7 133.3h0M171.1 143.0h0M190.0 137.9h0M198.8 117.0h0M197.8 127.1h0M175.9 153.2h0M177.0 122.1h0M183.2 139.0h0M184.2 145.1h0M190.7 136.8h0M196.2 127.1h0M193.1 128.7h0M171.5 150.6h0M203.4 115.9h0M183.9 136.3h0M194.6 128.6h0M166.3 150.8h0M189.5 139.6h0M183.9 121.0h0M181.6 141.1h0M181.8 130.2h0M177.3 126.1h0M193.0 136.6h0M172.3 148.5h0M189.2 139.7h0M198.7 123.5h0M176.8 149.3h0M182.2 133.2h0M185.6 121.5h0M177.1 147.5h0M171.4 148.4h0M202.6 115.3h0M192.4 117.7h0M183.3 123.0h0M172.6 136.6h0M193.7 117.6h0M179.5 131.7h0M187.2 119.3h0M172.9 152.4h0M191.6 122.0h0M191.6 136.0h0M176.3 154.3h0M190.2 126.2h0M172.4 142.1h0M184.5 143.0h0M186.4 146.0h0M196.6 127.5h0M195.7 124.7h0M186.3 140.6h0M191.7 121.2h0M196.3 123.9h0M177.9 125.0h0M176.1 133.1h0M180.6 124.9h0M182.8 137.3h0M190.0 116.8h0M179.4 147.9h0M172.8 149.5h0M191.5 139.2h0M178.4 140.6h0M166.9 151.4h0M175.4 140.6h0M181.6 131.3h0M189.6 141.8h0M197.6 116.5h0M172.9 140.8h0M182.2 122.1h0M197.2 116.5h0M187.7 135.8h0M187.3 125.1h0M172.6 153.1h0M193.9 115.9h0M170.8 149.1h0M164.0 149.2h0M177.8 139.5h0M182.6 140.0h0M194.1 128.0h0M171.9 140.8h0M185.7 119.3h0M184.6 134.1h0M182.4 146.7h0M168.5 147.8h0M180.5 149.7h0M173.8 151.8h0M183.9 135.4h0M178.3 124.0h0M192.0 127.7h0M173.3 143.5h0M184.4 143.7h0M169.5 147.6h0M180.6 137.5h0M183.5 141.7h0M183.7 119.7h0M195.0 122.8h0M181.1 135.7h0M170.4 151.9h0M190.2 125.9h0M194.7 120.9h0M167.7 148.5h0M192.4 130.5h0M193.6 131.2h0M199.1 113.1h0M182.3 133.1h0M174.0 140.0h0M194.6 127.9h0M182.7 133.7h0M198.0 126.7h0M184.2 124.2h0M180.0 141.6h0M181.2 126.4h0M183.0 149.6h0M177.8 138.7h0M184.1 144.9h0M200.6 116.0h0M189.0 138.5h0M191.4 141.8h0M187.3 125.5h0M188.9 134.4h0M189.7 125.2h0M196.1 126.9h0M168.0 150.4h0M178.7 130.1h0M199.5 120.8h0M196.3 113.4h0M178.8 150.4h0M183.2 149.1h0M185.5 128.0h0M184.4 121.5h0M179.5 124.5h0M196.7 125.7h0M184.6 127.7h0M164.3 151.2h0M189.6 143.2h0M175.3 152.6h0M180.6 127.6h0M189.8 139.3h0M170.2 144.7h0M174.2 127.1h0M175.7 143.8h0M173.6 150.4h0M170.4 146.7h0M175.7 131.0h0M190.2 129.0h0M193.3 120.5h0M173.6 145.7h0M197.1 113.6h0M177.1 138.6h0M182.2 125.1h0M197.3 128.5h0M194.7 127.0h0M175.0 149.1h0M189.9 142.0h0M197.4 123.7h0M179.1 131.2h0M180.3 133.4h0M169.5 145.2h0M193.3 134.2h0M192.7 119.8h0M179.7 131.7h0M174.8 131.9h0M187.2 135.2h0M188.8 129.6h0M176.9 126.1h0M200.6 115.2h0M184.1 134.3h0M178.4 131.9h0M190.4 125.3h0M191.3 118.4h0M185.5 129.9h0M174.4 136.6h0M179.8 133.0h0M174.5 133.5h0M188.0 134.6h0M175.1 138.7h0M179.0 151.5h0M180.0 123.0h0M170.3 146.3h0M177.1 143.1h0M191.4 123.0h0M182.6 140.6h0M183.4 122.9h0M200.5 111.7h0M195.6 129.6h0M162.4 152.1h0M182.7 133.6h0M175.8 150.7h0M198.7 112.0h0M187.1 138.7h0M200.1 114.6h0M191.4 122.4h0M182.6 142.3h0M174.6 140.7h0M182.7 133.2h0M185.9 128.3h0M194.8 116.9h0M170.0 148.5h0M168.4 152.2h0M169.2 143.9h0M164.1 151.1h0M194.5 129.7h0M189.5 118.2h0M189.4 125.2h0M193.8 117.2h0M201.4 114.3h0M180.3 129.3h0M179.7 150.4h0M182.3 133.2h0M182.3 135.7h0M190.1 129.2h0M183.6 122.0h0M177.6 151.7h0M170.4 150.4h0M187.0 142.6h0M178.1 148.6h0M189.3 138.1h0M180.0 121.7h0M186.7 118.6h0M194.3 116.6h0M191.8 132.9h0M178.4 135.2h0M177.0 139.1h0M187.8 127.8h0M181.5 128.9h0M181.0 127.1h0M170.2 152.7h0M178.0 146.8h0M181.7 134.0h0M179.0 143.7h0M175.3 126.5h0M191.1 120.6h0M179.3 126.6h0M164.3 152.1h0M194.7 125.5h0M178.6 125.4h0M176.3 132.0h0M182.4 146.3h0M173.5 145.7h0M191.7 138.9h0M179.6 133.5h0M183.2 140.9h0M176.7 144.1h0M197.0 117.6h0M191.8 129.2h0M178.0 152.8h0M194.2 132.6h0M162.5 151.5h0M180.1 148.8h0M183.6 129.2h0M167.6 149.8h0M177.5 135.7h0M194.1 116.7h0M181.9 139.6h0M187.9 132.8h0M171.0 150.0h0M186.3 140.4h0M185.7 138.7h0M202.2 111.9h0M185.8 120.7h0M185.9 142.6h0M180.0 150.3h0M191.3 127.7h0M180.7 123.9h0M168.3 149.7h0M187.7 137.9h0M188.0 139.9h0M190.6 131.1h0M164.2 152.6h0M194.8 131.6h0M178.1 132.4h0M182.1 121.5h0M183.6 148.7h0M178.2 121.6h0M175.6 127.1h0M178.4 124.7h0M198.2 119.4h0M195.6 126.8h0M185.6 122.4h0M183.5 137.4h0M192.2 123.8h0M178.5 135.5h0M180.3 137.6h0M176.4 140.3h0M182.8 145.8h0M191.7 133.9h0M190.0 115.8h0M182.6 124.7h0M192.3 134.1h0M177.0 133.7h0M194.2 125.1h0M185.2 145.7h0M185.7 130.9h0M169.4 152.3h0M196.8 118.9h0M188.2 138.5h0M183.4 127.8h0M186.4 138.1h0M172.8 146.9h0M178.5 150.4h0M174.9 139.8h0M188.4 126.0h0M184.4 128.2h0M174.5 134.4h0M178.5 140.3h0M171.9 144.8h0" stroke="#B79F00" stroke-width="1.00" stroke-linecap="round" stroke-opacity="0.45"/>
<path d="M194.2 129.2h0M178.3 147.8h0M191.3 133.4h0M194.3 136.6h0M188.2 137.8h0M196.1 125.4h0M187.7 145.5h0M202.0 114.4h0M192.9 134.6h0M179.5 146.8h0M201.6 118.5h0M188.8 139.1h0M196.9 120.7h0M192.2 135.8h0M193.4 125.3h0M174.9 151.3h0M177.6 151.0h0M187.4 144.6h0M176.8 149.8h0M183.7 148.3h0M193.4 125.5h0M194.8 125.2h0M202.1 114.6h0M198.7 117.6h0M196.5 128.5h0M186.5 141.6h0M183.3 142.9h0M182.5 148.4h0M194.8 125.1h0M193.1 137.4h0M201.9 113.5h0M198.0 118.3h0M191.3 141.3h0M184.5 143.0h0M176.3 150.5h0M181.1 145.4h0M193.1 126.8h0M198.1 116.6h0M197.1 127.3h0M196.9 126.4h0M177.8 146.9h0M195.4 125.2h0M194.8 126.5h0M176.1 150.6h0M188.9 136.2h0M197.0 121.1h0M190.4 137.7h0M187.2 140.3h0M188.6 145.1h0M194.1 128.1h0M180.7 149.1h0M185.4 140.5h0M181.5 142.0h0M190.0 142.5h0M199.6 121.1h0M175.3 151.0h0M198.6 120.9h0M178.7 150.1h0M187.7 139.8h0M186.8 145.3h0M201.9 113.5h0M185.7 144.8h0M197.5 120.1h0M195.2 132.8h0M178.9 146.5h0M189.3 138.9h0M196.6 131.2h0M177.1 150.5h0M196.5 129.6h0M190.7 142.1h0M191.1 135.4h0M176.5 149.3h0M196.1 131.0h0M202.0 111.6h0M191.5 131.0h0M192.8 135.9h0M188.1 136.9h0M196.1 126.0h0M197.6 129.6h0M187.3 138.1h0M186.7 145.7h0M186.7 141.7h0M196.7 129.7h0M176.6 150.4h0M184.3 146.6h0M181.6 144.4h0M183.4 145.3h0M183.3 149.4h0M181.5 147.3h0M181.0 148.0h0M179.2 147.2h0M179.9 149.2h0M189.6 142.6h0M180.0 148.0h0M174.1 151.8h0M173.3 153.8h0M173.9 151.3h0M195.9 121.4h0M195.5 120.4h0M192.7 124.7h0M184.6 141.6h0M189.6 142.3h0M176.6 150.3h0M182.2 146.2h0M195.3 126.2h0M193.6 126.7h0M195.0 126.5h0M200.2 115.7h0M191.6 131.6h0M192.1 131.5h0M199.5 116.1h0M197.7 119.8h0M192.0 129.3h0M177.2 148.7h0M196.3 129.5h0M176.3 153.0h0M190.9 137.1h0M195.8 120.8h0M196.1 123.5h0M186.8 138.2h0M188.5 137.2h0M189.2 144.8h0M183.9 142.4h0M196.1 124.7h0M191.2 135.6h0M175.6 152.3h0M189.2 137.2h0M179.0 150.6h0M189.3 133.5h0M197.4 127.7h0M186.9 145.3h0M185.1 144.1h0M200.0 122.7h0M189.1 142.5h0M183.4 147.2h0M176.7 149.7h0M188.5 144.2h0M188.7 136.3h0M189.7 144.6h0M189.7 137.7h0M191.1 138.7h0M182.3 147.7h0M192.6 131.6h0M175.7 151.0h0M187.1 145.0h0M185.5 148.2h0M187.6 134.4h0M188.0 146.3h0M200.4 120.9h0M194.4 127.4h0M188.7 136.0h0M187.4 145.0h0M202.1 117.4h0M185.5 146.4h0M197.0 124.9h0M200.3 121.6h0M198.5 123.6h0M183.3 144.3h0M187.2 140.0h0M182.8 145.1h0M198.4 117.4h0M185.0 141.2h0M192.3 137.5h0M191.4 130.1h0M191.0 137.7h0M196.4 127.5h0M198.1 124.0h0M189.9 139.4h0M183.2 147.6h0M203.0 113.7h0M197.1 122.2h0M200.3 117.3h0M189.1 139.3h0M201.2 119.0h0M170.6 152.7h0M187.2 147.0h0M199.1 123.1h0M189.7 135.4h0M187.6 145.6h0M180.0 145.2h0M196.3 120.1h0M180.3 147.0h0M177.3 151.8h0M195.4 120.5h0M192.4 130.8h0M180.5 149.0h0M199.8 117.4h0M185.0 146.1h0M201.1 114.7h0M188.8 141.5h0M195.4 132.1h0M177.2 149.7h0M196.2 119.9h0M189.4 139.0h0M177.9 152.6h0M195.8 124.7h0M198.5 119.4h0M184.9 142.5h0M183.4 147.4h0M201.2 116.0h0M192.4 130.1h0M202.8 117.0h0M203.5 111.6h0M185.5 149.9h0M175.7 150.6h0M189.9 134.0h0M191.8 132.1h0M202.6 111.3h0M198.5 117.7h0M189.4 139.1h0M198.7 124.0h0M190.5 136.1h0M193.7 128.4h0M191.8 130.5h0M202.9 114.6h0M179.2 151.9h0M197.1 121.2h0M203.7 114.3h0M180.5 151.1h0M193.8 123.4h0M173.3 151.9h0M194.6 128.5h0M197.5 126.5h0M183.7 145.6h0M183.3 149.6h0M188.8 132.4h0M174.5 151.3h0M199.2 115.5h0M198.3 116.9h0M197.5 127.0h0M192.6 134.6h0M189.3 136.5h0M186.1 140.7h0M185.1 144.6h0M193.6 127.1h0M196.1 124.9h0M178.9 150.4h0M198.0 116.3h0M195.5 125.8h0M196.6 122.5h0M187.6 143.3h0M180.6 151.2h0M187.2 144.5h0M203.0 115.5h0M181.3 149.0h0M182.6 145.7h0M192.4 133.4h0M187.6 138.0h0M182.7 145.4h0M194.2 131.5h0M185.5 140.2h0M172.1 153.0h0M193.0 128.8h0M194.3 125.9h0M193.2 133.3h0M183.6 146.3h0M189.6 140.2h0M190.0 139.2h0M196.5 125.3h0M189.3 140.4h0M186.8 147.3h0M200.9 117.5h0M196.5 120.0h0M190.1 140.6h0M180.7 150.2h0M195.3 122.5h0M197.3 120.6h0M195.8 132.8h0M197.4 119.8h0M176.6 149.7h0M183.8 142.2h0M190.1 136.7h0M196.0 119.4h0M201.0 113.9h0M185.6 141.1h0M186.5 142.1h0M195.3 127.1h0M198.9 118.0h0M192.6 136.6h0M198.1 122.1h0M199.8 118.7h0M192.8 131.6h0M183.8 145.5h0M198.9 117.8h0M177.5 148.8h0M198.5 117.4h0M186.7 138.9h0M200.1 118.0h0M173.8 152.6h0M184.6 148.9h0M178.1 153.2h0M196.4 122.6h0M193.8 133.3h0M200.2 117.2h0M180.6 152.4h0M195.5 124.0h0M187.7 141.7h0M192.4 138.5h0M194.4 130.7h0M202.6 111.7h0M180.6 151.8h0M190.4 133.9h0M186.9 141.3h0M191.3 137.0h0M188.5 140.4h0M196.4 122.6h0M198.2 119.0h0M195.0 128.0h0M199.3 121.2h0M190.2 134.1h0M202.4 112.3h0M193.0 125.7h0M187.8 143.4h0M180.2 151.3h0M189.4 141.0h0M190.6 136.1h0M176.0 152.0h0M198.9 119.4h0M178.2 150.1h0M189.3 144.4h0M197.9 127.2h0M198.7 116.9h0M189.9 131.2h0M202.0 116.8h0M181.8 149.1h0M183.8 143.1h0M198.8 118.9h0M182.9 150.7h0M187.9 139.5h0M193.1 131.6h0M191.1 132.8h0M195.7 124.7h0M185.4 147.5h0M199.4 120.0h0M193.0 128.7h0M185.3 141.8h0M187.6 143.3h0M193.7 125.4h0M194.2 134.2h0M185.0 140.0h0M185.6 145.5h0M183.8 143.0h0M193.2 129.1h0M180.4 144.9h0M197.7 125.4h0M173.7 152.0h0M192.4 137.3h0M193.3 136.7h0M197.9 119.6h0M179.4 146.2h0M201.8 114.0h0M170.8 153.3h0M186.6 144.0h0M178.8 145.4h0M175.9 152.0h0M177.4 150.8h0M197.4 125.3h0M180.0 148.0h0M196.1 130.0h0M199.4 122.2h0M175.3 152.5h0M191.6 130.8h0M182.2 148.9h0M192.3 132.5h0M193.2 136.3h0M197.9 115.5h0M187.3 147.2h0M203.6 114.8h0M195.4 124.7h0M200.4 120.6h0M199.4 122.9h0M202.6 112.1h0M185.7 148.1h0M191.6 137.9h0M199.9 120.5h0M199.2 123.4h0M193.0 124.5h0M182.5 149.2h0M177.0 148.0h0M193.6 126.9h0M195.0 121.6h0M191.9 131.6h0M192.4 131.2h0M184.9 147.7h0M191.2 130.7h0M185.2 148.9h0M183.8 145.6h0M198.9 118.4h0M189.0 139.2h0M189.6 133.8h0M189.2 135.7h0M202.2 114.8h0M189.4 135.3h0M185.5 146.8h0M174.8 151.2h0M192.1 131.5h0M192.6 129.1h0M193.1 131.8h0M189.6 135.0h0M183.6 149.2h0M196.3 132.9h0M185.7 148.1h0M191.9 139.8h0M191.9 134.0h0M198.7 118.9h0M174.8 151.0h0M194.5 132.4h0M187.6 137.3h0M195.7 129.0h0M201.3 112.6h0M196.1 125.6h0M185.7 145.7h0M196.1 128.4h0M190.9 139.5h0M175.5 151.5h0M201.3 115.6h0M192.8 127.9h0M177.4 146.5h0M173.8 152.5h0M183.0 143.1h0M185.0 141.3h0M189.6 134.8h0M195.8 130.0h0M194.5 130.9h0M183.0 141.6h0M192.7 129.0h0M193.1 131.1h0M199.6 118.5h0M202.1 116.6h0M188.9 144.7h0M195.9 130.0h0M197.5 123.4h0M194.5 127.5h0M181.7 148.1h0M185.1 147.6h0M181.5 146.4h0M190.3 138.2h0M191.3 134.2h0M188.6 139.0h0M201.9 112.9h0M191.5 141.5h0M181.3 150.6h0M202.7 114.3h0M200.9 116.5h0M183.0 148.6h0M197.4 117.7h0M174.1 150.9h0M196.5 119.7h0M201.8 116.8h0M178.3 147.9h0" stroke="#B79F00" stroke-width="1.00" stroke-linecap="round" stroke-opacity="0.5"/>
<path d="M174.8 117.7h0M174.7 127.9h0M175.6 119.1h0M174.2 133.0h0M173.8 115.0h0M175.0 125.3h0M174.6 127.5h0M174.2 124.2h0M174.6 117.5h0M174.6 128.1h0M174.4 110.8h0M173.1 111.8h0M176.4 120.6h0M175.5 122.0h0M174.1 128.7h0M174.2 113.8h0M173.9 110.9h0M173.3 134.7h0M175.0 118.0h0M175.4 120.3h0M173.8 121.1h0M173.8 130.1h0M173.6 118.5h0M175.8 123.1h0M172.5 108.6h0M174.7 113.4h0M173.4 133.9h0M174.6 115.3h0M173.0 120.6h0M173.2 117.1h0M174.0 129.8h0M175.2 113.2h0M175.9 126.9h0M172.7 110.1h0M173.8 118.9h0M173.7 122.9h0M175.1 117.7h0M175.1 122.3h0M174.0 112.0h0M174.3 122.1h0M174.6 130.0h0M174.6 110.7h0M174.0 125.9h0M173.7 113.7h0M173.9 129.8h0M174.1 118.4h0M173.4 134.3h0M175.2 116.7h0M174.0 127.0h0M173.6 108.4h0M174.0 135.1h0M172.6 114.3h0M173.5 112.9h0M174.3 132.1h0M174.6 126.1h0M173.8 127.5h0M174.2 117.0h0M172.0 109.6h0M173.5 134.0h0M173.9 111.9h0M174.4 132.9h0M172.9 113.7h0M173.9 131.1h0M175.0 120.4h0M173.6 128.6h0M175.0 128.4h0M174.9 124.9h0M173.6 112.0h0M173.6 119.0h0M174.0 132.1h0" stroke="#B79F00" stroke-width="1.00" stroke-linecap="round" stroke-opacity="0.5"/>
<path d="M106 132.6V159.7H133" fill="none" stroke="#000" stroke-width="1.3"/>
<path d="M103.8 133.6L106 129.6L108.2 133.6Z" fill="#000"/>
<path d="M132 157.5L136 159.7L132 161.89999999999998Z" fill="#000"/>
<text x="106.0" y="171.0" font-size="10.4" fill="#000" stroke="#000" stroke-width="0.1" text-anchor="start" >UMAP1</text>
<text x="103.3" y="164.8" font-size="10.4" fill="#000" stroke="#000" stroke-width="0.1" text-anchor="start" transform="rotate(-90 103.3 164.8)">UMAP2</text>
<circle cx="225.2" cy="66.3" r="2.60" fill="#F8766D" />
<text x="229.8" y="70.0" font-size="10.4" fill="#F8766D" stroke="#F8766D" stroke-width="0.1" text-anchor="start" >0</text>
<circle cx="225.2" cy="76.7" r="2.60" fill="#B79F00" />
<text x="229.8" y="80.4" font-size="10.4" fill="#B79F00" stroke="#B79F00" stroke-width="0.1" text-anchor="start" >1</text>
<circle cx="225.2" cy="87.1" r="2.60" fill="#00BA38" />
<text x="229.8" y="90.8" font-size="10.4" fill="#00BA38" stroke="#00BA38" stroke-width="0.1" text-anchor="start" >2</text>
<circle cx="225.2" cy="97.5" r="2.60" fill="#00BFC4" />
<text x="229.8" y="101.2" font-size="10.4" fill="#00BFC4" stroke="#00BFC4" stroke-width="0.1" text-anchor="start" >3</text>
<circle cx="225.2" cy="107.9" r="2.60" fill="#619CFF" />
<text x="229.8" y="111.6" font-size="10.4" fill="#619CFF" stroke="#619CFF" stroke-width="0.1" text-anchor="start" >4</text>
<circle cx="225.2" cy="118.3" r="2.60" fill="#F564E3" />
<text x="229.8" y="122.0" font-size="10.4" fill="#F564E3" stroke="#F564E3" stroke-width="0.1" text-anchor="start" >5</text>
<rect x="318.20" y="28.90" width="104.00" height="3.90" fill="#F8766D" />
<rect x="422.20" y="28.90" width="38.80" height="3.90" fill="#B79F00" />
<rect x="461.00" y="28.90" width="16.40" height="3.90" fill="#00BA38" />
<rect x="477.40" y="28.90" width="14.90" height="3.90" fill="#00BFC4" />
<rect x="492.30" y="28.90" width="4.60" height="3.90" fill="#619CFF" />
<rect x="496.90" y="28.90" width="1.70" height="3.90" fill="#F564E3" />
<text x="315.5" y="49.6" font-size="10.2" fill="#000" stroke="#000" stroke-width="0.1" text-anchor="end" >GFAP</text>
<text x="315.5" y="62.1" font-size="10.2" fill="#000" stroke="#000" stroke-width="0.1" text-anchor="end" >S100B</text>
<text x="315.5" y="75.0" font-size="10.2" fill="#000" stroke="#000" stroke-width="0.1" text-anchor="end" >VIM</text>
<text x="315.5" y="88.0" font-size="10.2" fill="#000" stroke="#000" stroke-width="0.1" text-anchor="end" >AQP4</text>
<text x="315.5" y="101.0" font-size="10.2" fill="#000" stroke="#000" stroke-width="0.1" text-anchor="end" >CLU</text>
<text x="315.5" y="114.0" font-size="10.2" fill="#000" stroke="#000" stroke-width="0.1" text-anchor="end" >APOE</text>
<text x="315.5" y="126.7" font-size="10.2" fill="#000" stroke="#000" stroke-width="0.1" text-anchor="end" >DLX6-AS1</text>
<text x="315.5" y="139.6" font-size="10.2" fill="#000" stroke="#000" stroke-width="0.1" text-anchor="end" >BCAN</text>
<text x="315.5" y="153.4" font-size="10.2" fill="#000" stroke="#000" stroke-width="0.1" text-anchor="end" >B2M</text>
<text x="315.5" y="166.0" font-size="10.2" fill="#000" stroke="#000" stroke-width="0.1" text-anchor="end" >DLX5</text>
<text x="315.5" y="180.8" font-size="10.2" fill="#000" stroke="#000" stroke-width="0.1" text-anchor="end" >NSG2</text>
<text x="315.5" y="192.6" font-size="10.2" fill="#000" stroke="#000" stroke-width="0.1" text-anchor="end" >OLIG1</text>
<text x="315.5" y="205.1" font-size="10.2" fill="#000" stroke="#000" stroke-width="0.1" text-anchor="end" >OLIG2</text>
<text x="315.5" y="218.0" font-size="10.2" fill="#000" stroke="#000" stroke-width="0.1" text-anchor="end" >CSPG5</text>
<text x="315.5" y="230.6" font-size="10.2" fill="#000" stroke="#000" stroke-width="0.1" text-anchor="end" >GSTP1</text>
<text x="315.5" y="245.4" font-size="10.2" fill="#000" stroke="#000" stroke-width="0.1" text-anchor="end" >PLP1</text>
<filter id="hb" x="-0.02" y="-0.02" width="1.04" height="1.04"><feGaussianBlur stdDeviation="0.4 0.2"/></filter>
<clipPath id="hclip"><rect x="318" y="37" width="180" height="209"/></clipPath>
<g clip-path="url(#hclip)"><g shape-rendering="crispEdges" filter="url(#hb)"><g transform="translate(0 37)"><rect x="316" width="2" height="13" fill="#878700"/><rect x="318" width="2" height="13" fill="#b9b900"/><rect x="320" width="1" height="13" fill="#785a23"/><rect x="321" width="2" height="13" fill="#735a19"/><rect x="323" width="1" height="13" fill="#5a005a"/><rect x="324" width="2" height="13" fill="#5a4119"/><rect x="326" width="1" height="13" fill="#500050"/><rect x="327" width="1" height="13" fill="#785523"/><rect x="328" width="1" height="13" fill="#412319"/><rect x="329" width="1" height="13" fill="#642341"/><rect x="330" width="1" height="13" fill="#50371e"/><rect x="331" width="2" height="13" fill="#826919"/><rect x="333" width="1" height="13" fill="#5f005f"/><rect x="334" width="2" height="13" fill="#41231e"/><rect x="336" width="1" height="13" fill="#320032"/><rect x="337" width="1" height="13" fill="#5f4b14"/><rect x="338" width="1" height="13" fill="#5f3728"/><rect x="339" width="1" height="13" fill="#969600"/><rect x="340" width="2" height="13" fill="#3c003c"/><rect x="342" width="1" height="13" fill="#2d002d"/><rect x="343" width="1" height="13" fill="#787800"/><rect x="344" width="1" height="13" fill="#7d5528"/><rect x="345" width="1" height="13" fill="#464600"/><rect x="346" width="1" height="13" fill="#7d4b2d"/><rect x="347" width="3" height="13" fill="#500050"/><rect x="350" width="2" height="13" fill="#550055"/><rect x="352" width="1" height="13" fill="#500050"/><rect x="353" width="1" height="13" fill="#825f23"/><rect x="354" width="1" height="13" fill="#371e19"/><rect x="355" width="2" height="13" fill="#967823"/><rect x="357" width="2" height="13" fill="#410041"/><rect x="359" width="1" height="13" fill="#550055"/><rect x="360" width="1" height="13" fill="#4b2323"/><rect x="361" width="1" height="13" fill="#500050"/><rect x="362" width="1" height="13" fill="#876e19"/><rect x="363" width="1" height="13" fill="#64372d"/><rect x="364" width="1" height="13" fill="#640064"/><rect x="365" width="1" height="13" fill="#505000"/><rect x="366" width="2" height="13" fill="#825032"/><rect x="368" width="2" height="13" fill="#320032"/><rect x="370" width="1" height="13" fill="#5a005a"/><rect x="371" width="2" height="13" fill="#550055"/><rect x="373" width="2" height="13" fill="#460046"/><rect x="375" width="2" height="13" fill="#7d4b32"/><rect x="377" width="2" height="13" fill="#460046"/><rect x="379" width="1" height="13" fill="#696900"/><rect x="380" width="1" height="13" fill="#410041"/><rect x="381" width="1" height="13" fill="#460046"/><rect x="382" width="1" height="13" fill="#550055"/><rect x="383" width="1" height="13" fill="#4b004b"/><rect x="384" width="1" height="13" fill="#552332"/><rect x="385" width="1" height="13" fill="#a5a500"/><rect x="386" width="1" height="13" fill="#4b2823"/><rect x="387" width="1" height="13" fill="#642d32"/><rect x="388" width="2" height="13" fill="#5f2837"/><rect x="390" width="1" height="13" fill="#4b004b"/><rect x="391" width="1" height="13" fill="#460046"/><rect x="392" width="1" height="13" fill="#500050"/><rect x="393" width="1" height="13" fill="#460046"/><rect x="394" width="1" height="13" fill="#5a2832"/><rect x="395" width="1" height="13" fill="#460046"/><rect x="396" width="1" height="13" fill="#553223"/><rect x="397" width="3" height="13" fill="#694128"/><rect x="400" width="2" height="13" fill="#5f2837"/><rect x="402" width="2" height="13" fill="#7d4b32"/><rect x="404" width="2" height="13" fill="#410041"/><rect x="406" width="1" height="13" fill="#500050"/><rect x="407" width="2" height="13" fill="#550055"/><rect x="409" width="1" height="13" fill="#878700"/><rect x="410" width="1" height="13" fill="#696900"/><rect x="411" width="1" height="13" fill="#915f32"/><rect x="412" width="2" height="13" fill="#500050"/><rect x="414" width="2" height="13" fill="#691e46"/><rect x="416" width="1" height="13" fill="#694128"/><rect x="417" width="1" height="13" fill="#644128"/><rect x="418" width="2" height="13" fill="#b4b400"/><rect x="420" width="1" height="13" fill="#55282d"/><rect x="421" width="1" height="13" fill="#7d502d"/><rect x="422" width="2" height="13" fill="#411928"/><rect x="424" width="2" height="13" fill="#500050"/><rect x="426" width="2" height="13" fill="#460046"/><rect x="428" width="1" height="13" fill="#500050"/><rect x="429" width="1" height="13" fill="#370037"/><rect x="430" width="2" height="13" fill="#410041"/><rect x="432" width="1" height="13" fill="#5a005a"/><rect x="433" width="1" height="13" fill="#5f005f"/><rect x="434" width="2" height="13" fill="#4b004b"/><rect x="436" width="1" height="13" fill="#460046"/><rect x="437" width="1" height="13" fill="#4b004b"/><rect x="438" width="1" height="13" fill="#500050"/><rect x="439" width="2" height="13" fill="#462323"/><rect x="441" width="2" height="13" fill="#5f005f"/><rect x="443" width="1" height="13" fill="#460046"/><rect x="444" width="4" height="13" fill="#4b004b"/><rect x="448" width="1" height="13" fill="#500050"/><rect x="449" width="1" height="13" fill="#410041"/><rect x="450" width="6" height="13" fill="#500050"/><rect x="456" width="2" height="13" fill="#550055"/><rect x="458" width="1" height="13" fill="#4b004b"/><rect x="459" width="1" height="13" fill="#784b2d"/><rect x="460" width="1" height="13" fill="#500050"/><rect x="461" width="1" height="13" fill="#9b9b00"/><rect x="462" width="1" height="13" fill="#a5a500"/><rect x="463" width="1" height="13" fill="#2d002d"/><rect x="464" width="2" height="13" fill="#7d6419"/><rect x="466" width="1" height="13" fill="#230023"/><rect x="467" width="2" height="13" fill="#370037"/><rect x="469" width="1" height="13" fill="#695014"/><rect x="470" width="1" height="13" fill="#5f5f00"/><rect x="471" width="1" height="13" fill="#735023"/><rect x="472" width="2" height="13" fill="#8c8c00"/><rect x="474" width="1" height="13" fill="#7d7d00"/><rect x="475" width="1" height="13" fill="#410041"/><rect x="476" width="1" height="13" fill="#7d7d00"/><rect x="477" width="1" height="13" fill="#551e37"/><rect x="478" width="1" height="13" fill="#afaf00"/><rect x="479" width="1" height="13" fill="#412d14"/><rect x="480" width="1" height="13" fill="#5f5f00"/><rect x="481" width="1" height="13" fill="#9b9b00"/><rect x="482" width="1" height="13" fill="#4b004b"/><rect x="483" width="1" height="13" fill="#500050"/><rect x="484" width="2" height="13" fill="#7d730a"/><rect x="486" width="1" height="13" fill="#32230a"/><rect x="487" width="1" height="13" fill="#4b3714"/><rect x="488" width="2" height="13" fill="#640064"/><rect x="490" width="1" height="13" fill="#87780f"/><rect x="491" width="1" height="13" fill="#dcdc00"/><rect x="492" width="2" height="13" fill="#780078"/><rect x="494" width="1" height="13" fill="#460046"/><rect x="495" width="1" height="13" fill="#730073"/><rect x="496" width="1" height="13" fill="#550055"/><rect x="497" width="2" height="13" fill="#640064"/><rect x="499" width="1" height="13" fill="#4b2323"/></g><g transform="translate(0 50)"><rect x="316" width="1" height="13" fill="#870087"/><rect x="317" width="2" height="13" fill="#410041"/><rect x="319" width="1" height="13" fill="#690069"/><rect x="320" width="1" height="13" fill="#460046"/><rect x="321" width="1" height="13" fill="#6e4b23"/><rect x="322" width="1" height="13" fill="#73373c"/><rect x="323" width="1" height="13" fill="#8c8c00"/><rect x="324" width="2" height="13" fill="#913c55"/><rect x="326" width="1" height="13" fill="#6e006e"/><rect x="327" width="1" height="13" fill="#780078"/><rect x="328" width="1" height="13" fill="#737300"/><rect x="329" width="2" height="13" fill="#5a5a00"/><rect x="331" width="1" height="13" fill="#730073"/><rect x="332" width="1" height="13" fill="#820082"/><rect x="333" width="1" height="13" fill="#878700"/><rect x="334" width="2" height="13" fill="#5f005f"/><rect x="336" width="2" height="13" fill="#6e2846"/><rect x="338" width="1" height="13" fill="#410041"/><rect x="339" width="1" height="13" fill="#461432"/><rect x="340" width="1" height="13" fill="#690069"/><rect x="341" width="2" height="13" fill="#9b5a41"/><rect x="343" width="2" height="13" fill="#825037"/><rect x="345" width="1" height="13" fill="#784632"/><rect x="346" width="1" height="13" fill="#824b37"/><rect x="347" width="1" height="13" fill="#734b2d"/><rect x="348" width="1" height="13" fill="#3c003c"/><rect x="349" width="1" height="13" fill="#960096"/><rect x="350" width="2" height="13" fill="#969600"/><rect x="352" width="2" height="13" fill="#5f1e41"/><rect x="354" width="1" height="13" fill="#553223"/><rect x="355" width="1" height="13" fill="#550055"/><rect x="356" width="1" height="13" fill="#5a3c1e"/><rect x="357" width="2" height="13" fill="#5a5a00"/><rect x="359" width="2" height="13" fill="#41231e"/><rect x="361" width="1" height="13" fill="#730073"/><rect x="362" width="2" height="13" fill="#783c3c"/><rect x="364" width="1" height="13" fill="#5f005f"/><rect x="365" width="1" height="13" fill="#640064"/><rect x="366" width="2" height="13" fill="#642341"/><rect x="368" width="1" height="13" fill="#875532"/><rect x="369" width="1" height="13" fill="#2d002d"/><rect x="370" width="2" height="13" fill="#550055"/><rect x="372" width="1" height="13" fill="#640064"/><rect x="373" width="1" height="13" fill="#5f4123"/><rect x="374" width="1" height="13" fill="#5f2837"/><rect x="375" width="1" height="13" fill="#6e234b"/><rect x="376" width="1" height="13" fill="#410a37"/><rect x="377" width="2" height="13" fill="#6e4628"/><rect x="379" width="1" height="13" fill="#282800"/><rect x="380" width="2" height="13" fill="#8c008c"/><rect x="382" width="1" height="13" fill="#50282d"/><rect x="383" width="2" height="13" fill="#410041"/><rect x="385" width="1" height="13" fill="#730073"/><rect x="386" width="1" height="13" fill="#502828"/><rect x="387" width="1" height="13" fill="#5a005a"/><rect x="388" width="1" height="13" fill="#5f005f"/><rect x="389" width="1" height="13" fill="#3c003c"/><rect x="390" width="1" height="13" fill="#780078"/><rect x="391" width="1" height="13" fill="#5a4119"/><rect x="392" width="1" height="13" fill="#550055"/><rect x="393" width="2" height="13" fill="#503c19"/><rect x="395" width="2" height="13" fill="#5f005f"/><rect x="397" width="1" height="13" fill="#3c3c00"/><rect x="398" width="2" height="13" fill="#6e6e00"/><rect x="400" width="1" height="13" fill="#55193c"/><rect x="401" width="1" height="13" fill="#410041"/><rect x="402" width="1" height="13" fill="#5a1e3c"/><rect x="403" width="1" height="13" fill="#461932"/><rect x="404" width="1" height="13" fill="#9b9b00"/><rect x="405" width="2" height="13" fill="#690069"/><rect x="407" width="1" height="13" fill="#6e6e00"/><rect x="408" width="2" height="13" fill="#7d7d00"/><rect x="410" width="1" height="13" fill="#640064"/><rect x="411" width="1" height="13" fill="#641e46"/><rect x="412" width="1" height="13" fill="#693c2d"/><rect x="413" width="2" height="13" fill="#782d4b"/><rect x="415" width="1" height="13" fill="#9b9b00"/><rect x="416" width="1" height="13" fill="#640064"/><rect x="417" width="1" height="13" fill="#8c4b3c"/><rect x="418" width="1" height="13" fill="#7d5528"/><rect x="419" width="2" height="13" fill="#5f005f"/><rect x="421" width="1" height="13" fill="#500050"/><rect x="422" width="1" height="13" fill="#5a1e3c"/><rect x="423" width="1" height="13" fill="#730073"/><rect x="424" width="1" height="13" fill="#370037"/><rect x="425" width="2" height="13" fill="#050005"/><rect x="427" width="2" height="13" fill="#230023"/><rect x="429" width="1" height="13" fill="#460046"/><rect x="430" width="1" height="13" fill="#644619"/><rect x="431" width="1" height="13" fill="#461e28"/><rect x="432" width="2" height="13" fill="#000000"/><rect x="434" width="2" height="13" fill="#5a005a"/><rect x="436" width="1" height="13" fill="#3c003c"/><rect x="437" width="1" height="13" fill="#050005"/><rect x="438" width="2" height="13" fill="#732d4b"/><rect x="440" width="1" height="13" fill="#370037"/><rect x="441" width="2" height="13" fill="#3c003c"/><rect x="443" width="2" height="13" fill="#5f3c28"/><rect x="445" width="1" height="13" fill="#414100"/><rect x="446" width="2" height="13" fill="#5f5f00"/><rect x="448" width="2" height="13" fill="#5f005f"/><rect x="450" width="2" height="13" fill="#190019"/><rect x="452" width="1" height="13" fill="#370037"/><rect x="453" width="2" height="13" fill="#2d002d"/><rect x="455" width="2" height="13" fill="#5f005f"/><rect x="457" width="2" height="13" fill="#410041"/><rect x="459" width="1" height="13" fill="#412d14"/><rect x="460" width="1" height="13" fill="#370037"/><rect x="461" width="1" height="13" fill="#64372d"/><rect x="462" width="2" height="13" fill="#505000"/><rect x="464" width="1" height="13" fill="#5a3723"/><rect x="465" width="1" height="13" fill="#410041"/><rect x="466" width="1" height="13" fill="#5f3c28"/><rect x="467" width="1" height="13" fill="#a5a500"/><rect x="468" width="2" height="13" fill="#4b004b"/><rect x="470" width="1" height="13" fill="#140014"/><rect x="471" width="1" height="13" fill="#5a2832"/><rect x="472" width="1" height="13" fill="#1e001e"/><rect x="473" width="2" height="13" fill="#372814"/><rect x="475" width="1" height="13" fill="#460046"/><rect x="476" width="1" height="13" fill="#1e001e"/><rect x="477" width="1" height="13" fill="#5a2d2d"/><rect x="478" width="2" height="13" fill="#410041"/><rect x="480" width="1" height="13" fill="#643c23"/><rect x="481" width="4" height="13" fill="#1e001e"/><rect x="485" width="1" height="13" fill="#550055"/><rect x="486" width="1" height="13" fill="#690069"/><rect x="487" width="1" height="13" fill="#410a3c"/><rect x="488" width="1" height="13" fill="#642d37"/><rect x="489" width="1" height="13" fill="#140014"/><rect x="490" width="1" height="13" fill="#1e001e"/><rect x="491" width="1" height="13" fill="#2d002d"/><rect x="492" width="2" height="13" fill="#461e2d"/><rect x="494" width="2" height="13" fill="#640064"/><rect x="496" width="1" height="13" fill="#828200"/><rect x="497" width="1" height="13" fill="#780078"/><rect x="498" width="2" height="13" fill="#919100"/></g><g transform="translate(0 63)"><rect x="316" width="1" height="13" fill="#2d1e0f"/><rect x="317" width="1" height="13" fill="#323200"/><rect x="318" width="1" height="13" fill="#373700"/><rect x="319" width="2" height="13" fill="#412323"/><rect x="321" width="1" height="13" fill="#3c1928"/><rect x="322" width="2" height="13" fill="#370037"/><rect x="324" width="2" height="13" fill="#4b4b00"/><rect x="326" width="2" height="13" fill="#321e14"/><rect x="328" width="2" height="13" fill="#410041"/><rect x="330" width="1" height="13" fill="#460046"/><rect x="331" width="1" height="13" fill="#5f5f00"/><rect x="332" width="2" height="13" fill="#232300"/><rect x="334" width="1" height="13" fill="#3c2319"/><rect x="335" width="1" height="13" fill="#414100"/><rect x="336" width="1" height="13" fill="#552332"/><rect x="337" width="2" height="13" fill="#5f5f00"/><rect x="339" width="2" height="13" fill="#37280f"/><rect x="341" width="2" height="13" fill="#505000"/><rect x="343" width="2" height="13" fill="#646400"/><rect x="345" width="1" height="13" fill="#1e0f0f"/><rect x="346" width="1" height="13" fill="#2d2d00"/><rect x="347" width="1" height="13" fill="#373700"/><rect x="348" width="1" height="13" fill="#460046"/><rect x="349" width="1" height="13" fill="#878700"/><rect x="350" width="2" height="13" fill="#37191e"/><rect x="352" width="2" height="13" fill="#321e14"/><rect x="354" width="2" height="13" fill="#5f5f00"/><rect x="356" width="1" height="13" fill="#4b4b00"/><rect x="357" width="2" height="13" fill="#320032"/><rect x="359" width="2" height="13" fill="#464600"/><rect x="361" width="2" height="13" fill="#321919"/><rect x="363" width="1" height="13" fill="#554114"/><rect x="364" width="1" height="13" fill="#4b3219"/><rect x="365" width="1" height="13" fill="#1e0f0f"/><rect x="366" width="2" height="13" fill="#4b004b"/><rect x="368" width="1" height="13" fill="#505000"/><rect x="369" width="2" height="13" fill="#280f19"/><rect x="371" width="2" height="13" fill="#3c2814"/><rect x="373" width="2" height="13" fill="#414100"/><rect x="375" width="2" height="13" fill="#555500"/><rect x="377" width="1" height="13" fill="#410041"/><rect x="378" width="2" height="13" fill="#412d14"/><rect x="380" width="1" height="13" fill="#280028"/><rect x="381" width="2" height="13" fill="#2d1419"/><rect x="383" width="2" height="13" fill="#280028"/><rect x="385" width="2" height="13" fill="#414100"/><rect x="387" width="1" height="13" fill="#696900"/><rect x="388" width="2" height="13" fill="#191405"/><rect x="390" width="1" height="13" fill="#323200"/><rect x="391" width="2" height="13" fill="#463714"/><rect x="393" width="1" height="13" fill="#5f5f00"/><rect x="394" width="2" height="13" fill="#280028"/><rect x="396" width="2" height="13" fill="#232300"/><rect x="398" width="1" height="13" fill="#372d0a"/><rect x="399" width="1" height="13" fill="#4b4b00"/><rect x="400" width="2" height="13" fill="#3c2319"/><rect x="402" width="1" height="13" fill="#7d7d00"/><rect x="403" width="1" height="13" fill="#46370f"/><rect x="404" width="1" height="13" fill="#555500"/><rect x="405" width="1" height="13" fill="#787800"/><rect x="406" width="1" height="13" fill="#000000"/><rect x="407" width="1" height="13" fill="#555500"/><rect x="408" width="2" height="13" fill="#370037"/><rect x="410" width="2" height="13" fill="#4b004b"/><rect x="412" width="2" height="13" fill="#3c1e1e"/><rect x="414" width="1" height="13" fill="#73640f"/><rect x="415" width="1" height="13" fill="#2d1419"/><rect x="416" width="1" height="13" fill="#0a000a"/><rect x="417" width="1" height="13" fill="#464600"/><rect x="418" width="2" height="13" fill="#000000"/><rect x="420" width="1" height="13" fill="#555500"/><rect x="421" width="1" height="13" fill="#140014"/><rect x="422" width="2" height="13" fill="#96286e"/><rect x="424" width="1" height="13" fill="#960096"/><rect x="425" width="1" height="13" fill="#aa00aa"/><rect x="426" width="1" height="13" fill="#9b009b"/><rect x="427" width="1" height="13" fill="#af00af"/><rect x="428" width="2" height="13" fill="#a000a0"/><rect x="430" width="2" height="13" fill="#aa00aa"/><rect x="432" width="2" height="13" fill="#8c008c"/><rect x="434" width="2" height="13" fill="#be00be"/><rect x="436" width="1" height="13" fill="#b900b9"/><rect x="437" width="1" height="13" fill="#aa00aa"/><rect x="438" width="1" height="13" fill="#a500a5"/><rect x="439" width="1" height="13" fill="#aa00aa"/><rect x="440" width="1" height="13" fill="#b900b9"/><rect x="441" width="1" height="13" fill="#a500a5"/><rect x="442" width="1" height="13" fill="#aa00aa"/><rect x="443" width="2" height="13" fill="#b900b9"/><rect x="445" width="2" height="13" fill="#a000a0"/><rect x="447" width="1" height="13" fill="#c800c8"/><rect x="448" width="2" height="13" fill="#aa00aa"/><rect x="450" width="1" height="13" fill="#af00af"/><rect x="451" width="1" height="13" fill="#a500a5"/><rect x="452" width="1" height="13" fill="#a000a0"/><rect x="453" width="1" height="13" fill="#960096"/><rect x="454" width="1" height="13" fill="#aa00aa"/><rect x="455" width="1" height="13" fill="#b900b9"/><rect x="456" width="1" height="13" fill="#7d2d50"/><rect x="457" width="1" height="13" fill="#9b009b"/><rect x="458" width="1" height="13" fill="#a500a5"/><rect x="459" width="1" height="13" fill="#870087"/><rect x="460" width="1" height="13" fill="#8c008c"/><rect x="461" width="1" height="13" fill="#4b004b"/><rect x="462" width="1" height="13" fill="#55193c"/><rect x="463" width="1" height="13" fill="#5a005a"/><rect x="464" width="2" height="13" fill="#3c3c00"/><rect x="466" width="2" height="13" fill="#640064"/><rect x="468" width="1" height="13" fill="#5a3228"/><rect x="469" width="1" height="13" fill="#a500a5"/><rect x="470" width="1" height="13" fill="#550055"/><rect x="471" width="1" height="13" fill="#5f005f"/><rect x="472" width="2" height="13" fill="#690069"/><rect x="474" width="1" height="13" fill="#960096"/><rect x="475" width="2" height="13" fill="#5f005f"/><rect x="477" width="1" height="13" fill="#9b6e2d"/><rect x="478" width="2" height="13" fill="#500050"/><rect x="480" width="1" height="13" fill="#370037"/><rect x="481" width="1" height="13" fill="#5a2337"/><rect x="482" width="2" height="13" fill="#5f005f"/><rect x="484" width="1" height="13" fill="#460046"/><rect x="485" width="1" height="13" fill="#4b004b"/><rect x="486" width="1" height="13" fill="#2d002d"/><rect x="487" width="1" height="13" fill="#461432"/><rect x="488" width="1" height="13" fill="#6e006e"/><rect x="489" width="1" height="13" fill="#5f3c23"/><rect x="490" width="1" height="13" fill="#5a2832"/><rect x="491" width="1" height="13" fill="#5f005f"/><rect x="492" width="1" height="13" fill="#505000"/><rect x="493" width="2" height="13" fill="#41142d"/><rect x="495" width="1" height="13" fill="#4b3219"/><rect x="496" width="1" height="13" fill="#321914"/><rect x="497" width="1" height="13" fill="#2d002d"/><rect x="498" width="1" height="13" fill="#370037"/><rect x="499" width="1" height="13" fill="#967d19"/></g><g transform="translate(0 76)"><rect x="316" width="1" height="13" fill="#5f322d"/><rect x="317" width="1" height="13" fill="#6e2841"/><rect x="318" width="1" height="13" fill="#553719"/><rect x="319" width="1" height="13" fill="#410041"/><rect x="320" width="1" height="13" fill="#550055"/><rect x="321" width="2" height="13" fill="#500050"/><rect x="323" width="1" height="13" fill="#4b004b"/><rect x="324" width="2" height="13" fill="#a5a500"/><rect x="326" width="1" height="13" fill="#500050"/><rect x="327" width="1" height="13" fill="#695019"/><rect x="328" width="1" height="13" fill="#7d5a28"/><rect x="329" width="1" height="13" fill="#4b004b"/><rect x="330" width="1" height="13" fill="#410041"/><rect x="331" width="1" height="13" fill="#9b9b00"/><rect x="332" width="1" height="13" fill="#735023"/><rect x="333" width="1" height="13" fill="#787800"/><rect x="334" width="1" height="13" fill="#876423"/><rect x="335" width="2" height="13" fill="#5a005a"/><rect x="337" width="1" height="13" fill="#733241"/><rect x="338" width="2" height="13" fill="#3c003c"/><rect x="340" width="1" height="13" fill="#410041"/><rect x="341" width="5" height="13" fill="#550055"/><rect x="346" width="2" height="13" fill="#5a005a"/><rect x="348" width="1" height="13" fill="#7d502d"/><rect x="349" width="2" height="13" fill="#a08219"/><rect x="351" width="2" height="13" fill="#460046"/><rect x="353" width="1" height="13" fill="#502d23"/><rect x="354" width="1" height="13" fill="#5a005a"/><rect x="355" width="1" height="13" fill="#784b2d"/><rect x="356" width="3" height="13" fill="#550055"/><rect x="359" width="1" height="13" fill="#4b004b"/><rect x="360" width="2" height="13" fill="#734132"/><rect x="362" width="1" height="13" fill="#5f005f"/><rect x="363" width="2" height="13" fill="#410041"/><rect x="365" width="1" height="13" fill="#3c003c"/><rect x="366" width="1" height="13" fill="#551e37"/><rect x="367" width="2" height="13" fill="#5f005f"/><rect x="369" width="2" height="13" fill="#645019"/><rect x="371" width="1" height="13" fill="#410041"/><rect x="372" width="2" height="13" fill="#7d5f1e"/><rect x="374" width="1" height="13" fill="#875f28"/><rect x="375" width="1" height="13" fill="#877314"/><rect x="376" width="1" height="13" fill="#410041"/><rect x="377" width="2" height="13" fill="#500050"/><rect x="379" width="1" height="13" fill="#646400"/><rect x="380" width="1" height="13" fill="#460046"/><rect x="381" width="1" height="13" fill="#7d502d"/><rect x="382" width="1" height="13" fill="#73373c"/><rect x="383" width="2" height="13" fill="#696900"/><rect x="385" width="1" height="13" fill="#5f005f"/><rect x="386" width="1" height="13" fill="#735a19"/><rect x="387" width="2" height="13" fill="#825a23"/><rect x="389" width="1" height="13" fill="#690069"/><rect x="390" width="1" height="13" fill="#370037"/><rect x="391" width="2" height="13" fill="#3c003c"/><rect x="393" width="1" height="13" fill="#554119"/><rect x="394" width="1" height="13" fill="#694128"/><rect x="395" width="2" height="13" fill="#6e412d"/><rect x="397" width="1" height="13" fill="#9b6932"/><rect x="398" width="1" height="13" fill="#460046"/><rect x="399" width="1" height="13" fill="#644b19"/><rect x="400" width="1" height="13" fill="#550055"/><rect x="401" width="1" height="13" fill="#500050"/><rect x="402" width="1" height="13" fill="#5f5f00"/><rect x="403" width="1" height="13" fill="#5a005a"/><rect x="404" width="2" height="13" fill="#640064"/><rect x="406" width="1" height="13" fill="#5a005a"/><rect x="407" width="1" height="13" fill="#5a3728"/><rect x="408" width="1" height="13" fill="#640064"/><rect x="409" width="4" height="13" fill="#500050"/><rect x="413" width="1" height="13" fill="#64372d"/><rect x="414" width="2" height="13" fill="#640064"/><rect x="416" width="1" height="13" fill="#73551e"/><rect x="417" width="4" height="13" fill="#919100"/><rect x="421" width="1" height="13" fill="#ebeb00"/><rect x="422" width="1" height="13" fill="#460046"/><rect x="423" width="1" height="13" fill="#3c003c"/><rect x="424" width="1" height="13" fill="#460046"/><rect x="425" width="1" height="13" fill="#500050"/><rect x="426" width="2" height="13" fill="#460046"/><rect x="428" width="1" height="13" fill="#550055"/><rect x="429" width="1" height="13" fill="#4b004b"/><rect x="430" width="1" height="13" fill="#460046"/><rect x="431" width="1" height="13" fill="#410041"/><rect x="432" width="1" height="13" fill="#5f005f"/><rect x="433" width="1" height="13" fill="#410041"/><rect x="434" width="1" height="13" fill="#500050"/><rect x="435" width="4" height="13" fill="#410041"/><rect x="439" width="1" height="13" fill="#6e5514"/><rect x="440" width="2" height="13" fill="#410041"/><rect x="442" width="2" height="13" fill="#460046"/><rect x="444" width="2" height="13" fill="#4b004b"/><rect x="446" width="1" height="13" fill="#410041"/><rect x="447" width="3" height="13" fill="#500050"/><rect x="450" width="2" height="13" fill="#550055"/><rect x="452" width="1" height="13" fill="#3c003c"/><rect x="453" width="3" height="13" fill="#550055"/><rect x="456" width="1" height="13" fill="#500050"/><rect x="457" width="2" height="13" fill="#5a3228"/><rect x="459" width="2" height="13" fill="#4b004b"/><rect x="461" width="1" height="13" fill="#737300"/><rect x="462" width="1" height="13" fill="#966432"/><rect x="463" width="1" height="13" fill="#7d7d00"/><rect x="464" width="2" height="13" fill="#828200"/><rect x="466" width="2" height="13" fill="#a5a500"/><rect x="468" width="1" height="13" fill="#735f19"/><rect x="469" width="1" height="13" fill="#784b28"/><rect x="470" width="2" height="13" fill="#878700"/><rect x="472" width="2" height="13" fill="#737300"/><rect x="474" width="1" height="13" fill="#919100"/><rect x="475" width="1" height="13" fill="#b9b900"/><rect x="476" width="1" height="13" fill="#877314"/><rect x="477" width="2" height="13" fill="#9b9b00"/><rect x="479" width="2" height="13" fill="#460046"/><rect x="481" width="2" height="13" fill="#7d7d00"/><rect x="483" width="1" height="13" fill="#9b9b00"/><rect x="484" width="1" height="13" fill="#828200"/><rect x="485" width="1" height="13" fill="#645014"/><rect x="486" width="1" height="13" fill="#c8c800"/><rect x="487" width="2" height="13" fill="#370037"/><rect x="489" width="1" height="13" fill="#afaf00"/><rect x="490" width="2" height="13" fill="#b4b400"/><rect x="492" width="2" height="13" fill="#410041"/><rect x="494" width="2" height="13" fill="#550055"/><rect x="496" width="1" height="13" fill="#410041"/><rect x="497" width="2" height="13" fill="#5f005f"/><rect x="499" width="1" height="13" fill="#460046"/></g><g transform="translate(0 89)"><rect x="316" width="1" height="13" fill="#5a3728"/><rect x="317" width="1" height="13" fill="#322d05"/><rect x="318" width="1" height="13" fill="#696900"/><rect x="319" width="1" height="13" fill="#372814"/><rect x="320" width="2" height="13" fill="#640064"/><rect x="322" width="1" height="13" fill="#2d002d"/><rect x="323" width="1" height="13" fill="#4b0f41"/><rect x="324" width="2" height="13" fill="#4b2328"/><rect x="326" width="1" height="13" fill="#503719"/><rect x="327" width="2" height="13" fill="#2d2d00"/><rect x="329" width="1" height="13" fill="#321e14"/><rect x="330" width="2" height="13" fill="#2d2d00"/><rect x="332" width="1" height="13" fill="#552d23"/><rect x="333" width="1" height="13" fill="#500050"/><rect x="334" width="1" height="13" fill="#553223"/><rect x="335" width="1" height="13" fill="#502828"/><rect x="336" width="2" height="13" fill="#828200"/><rect x="338" width="1" height="13" fill="#555500"/><rect x="339" width="1" height="13" fill="#690069"/><rect x="340" width="2" height="13" fill="#2d002d"/><rect x="342" width="2" height="13" fill="#50232d"/><rect x="344" width="1" height="13" fill="#692d41"/><rect x="345" width="1" height="13" fill="#323200"/><rect x="346" width="1" height="13" fill="#4b1937"/><rect x="347" width="1" height="13" fill="#5a005a"/><rect x="348" width="2" height="13" fill="#696900"/><rect x="350" width="1" height="13" fill="#64283c"/><rect x="351" width="2" height="13" fill="#780078"/><rect x="353" width="1" height="13" fill="#460046"/><rect x="354" width="1" height="13" fill="#320032"/><rect x="355" width="2" height="13" fill="#370f28"/><rect x="357" width="1" height="13" fill="#55371e"/><rect x="358" width="2" height="13" fill="#64411e"/><rect x="360" width="1" height="13" fill="#5a005a"/><rect x="361" width="1" height="13" fill="#230023"/><rect x="362" width="1" height="13" fill="#787800"/><rect x="363" width="3" height="13" fill="#4b004b"/><rect x="366" width="1" height="13" fill="#640064"/><rect x="367" width="1" height="13" fill="#555500"/><rect x="368" width="2" height="13" fill="#969600"/><rect x="370" width="1" height="13" fill="#5a2337"/><rect x="371" width="1" height="13" fill="#463214"/><rect x="372" width="1" height="13" fill="#460046"/><rect x="373" width="2" height="13" fill="#783c41"/><rect x="375" width="2" height="13" fill="#5f5f00"/><rect x="377" width="1" height="13" fill="#4b4605"/><rect x="378" width="2" height="13" fill="#5f4b19"/><rect x="380" width="1" height="13" fill="#640064"/><rect x="381" width="1" height="13" fill="#503c19"/><rect x="382" width="2" height="13" fill="#6e3c32"/><rect x="384" width="1" height="13" fill="#69283c"/><rect x="385" width="1" height="13" fill="#694b1e"/><rect x="386" width="2" height="13" fill="#5a2832"/><rect x="388" width="1" height="13" fill="#5f5f00"/><rect x="389" width="1" height="13" fill="#6e6e00"/><rect x="390" width="1" height="13" fill="#555500"/><rect x="391" width="1" height="13" fill="#46370f"/><rect x="392" width="2" height="13" fill="#737300"/><rect x="394" width="1" height="13" fill="#1e0f0f"/><rect x="395" width="1" height="13" fill="#695514"/><rect x="396" width="2" height="13" fill="#555500"/><rect x="398" width="1" height="13" fill="#5a5a00"/><rect x="399" width="2" height="13" fill="#555500"/><rect x="401" width="1" height="13" fill="#692d41"/><rect x="402" width="1" height="13" fill="#5a3c1e"/><rect x="403" width="2" height="13" fill="#640064"/><rect x="405" width="1" height="13" fill="#4b1437"/><rect x="406" width="1" height="13" fill="#5a2837"/><rect x="407" width="1" height="13" fill="#370037"/><rect x="408" width="1" height="13" fill="#737300"/><rect x="409" width="1" height="13" fill="#5a5a00"/><rect x="410" width="1" height="13" fill="#4b004b"/><rect x="411" width="1" height="13" fill="#464600"/><rect x="412" width="2" height="13" fill="#5a3723"/><rect x="414" width="1" height="13" fill="#410041"/><rect x="415" width="1" height="13" fill="#414100"/><rect x="416" width="1" height="13" fill="#4b004b"/><rect x="417" width="2" height="13" fill="#3c3c00"/><rect x="419" width="1" height="13" fill="#553c1e"/><rect x="420" width="2" height="13" fill="#414100"/><rect x="422" width="1" height="13" fill="#9b009b"/><rect x="423" width="1" height="13" fill="#820082"/><rect x="424" width="1" height="13" fill="#960096"/><rect x="425" width="1" height="13" fill="#7d007d"/><rect x="426" width="1" height="13" fill="#730073"/><rect x="427" width="1" height="13" fill="#910091"/><rect x="428" width="1" height="13" fill="#820082"/><rect x="429" width="1" height="13" fill="#a500a5"/><rect x="430" width="2" height="13" fill="#8c008c"/><rect x="432" width="2" height="13" fill="#730073"/><rect x="434" width="3" height="13" fill="#820082"/><rect x="437" width="2" height="13" fill="#7d007d"/><rect x="439" width="1" height="13" fill="#a000a0"/><rect x="440" width="1" height="13" fill="#7d1964"/><rect x="441" width="1" height="13" fill="#690069"/><rect x="442" width="3" height="13" fill="#820082"/><rect x="445" width="1" height="13" fill="#870087"/><rect x="446" width="1" height="13" fill="#691e4b"/><rect x="447" width="2" height="13" fill="#960096"/><rect x="449" width="1" height="13" fill="#8c008c"/><rect x="450" width="1" height="13" fill="#820082"/><rect x="451" width="1" height="13" fill="#7d007d"/><rect x="452" width="2" height="13" fill="#910091"/><rect x="454" width="1" height="13" fill="#8c008c"/><rect x="455" width="2" height="13" fill="#6e006e"/><rect x="457" width="2" height="13" fill="#780078"/><rect x="459" width="1" height="13" fill="#7d007d"/><rect x="460" width="1" height="13" fill="#782850"/><rect x="461" width="1" height="13" fill="#7d7d00"/><rect x="462" width="1" height="13" fill="#737300"/><rect x="463" width="2" height="13" fill="#463219"/><rect x="465" width="1" height="13" fill="#4b004b"/><rect x="466" width="1" height="13" fill="#828200"/><rect x="467" width="2" height="13" fill="#69412d"/><rect x="469" width="1" height="13" fill="#644b19"/><rect x="470" width="1" height="13" fill="#a0a000"/><rect x="471" width="1" height="13" fill="#6e4b28"/><rect x="472" width="1" height="13" fill="#969600"/><rect x="473" width="1" height="13" fill="#5f5a0a"/><rect x="474" width="1" height="13" fill="#4b4b00"/><rect x="475" width="1" height="13" fill="#737300"/><rect x="476" width="1" height="13" fill="#aaaa00"/><rect x="477" width="1" height="13" fill="#b9b900"/><rect x="478" width="1" height="13" fill="#8c8705"/><rect x="479" width="2" height="13" fill="#502828"/><rect x="481" width="1" height="13" fill="#463214"/><rect x="482" width="2" height="13" fill="#50460a"/><rect x="484" width="2" height="13" fill="#969600"/><rect x="486" width="2" height="13" fill="#7d7d00"/><rect x="488" width="1" height="13" fill="#6e5a14"/><rect x="489" width="1" height="13" fill="#5a4614"/><rect x="490" width="2" height="13" fill="#464600"/><rect x="492" width="1" height="13" fill="#64372d"/><rect x="493" width="2" height="13" fill="#5a2d2d"/><rect x="495" width="1" height="13" fill="#5a005a"/><rect x="496" width="1" height="13" fill="#695519"/><rect x="497" width="1" height="13" fill="#7d7d00"/><rect x="498" width="2" height="13" fill="#b9b900"/></g><g transform="translate(0 102)"><rect x="316" width="1" height="14" fill="#690069"/><rect x="317" width="1" height="14" fill="#5f005f"/><rect x="318" width="2" height="14" fill="#7d4b2d"/><rect x="320" width="1" height="14" fill="#462d19"/><rect x="321" width="2" height="14" fill="#82552d"/><rect x="323" width="1" height="14" fill="#915a37"/><rect x="324" width="2" height="14" fill="#5a5a00"/><rect x="326" width="1" height="14" fill="#919100"/><rect x="327" width="2" height="14" fill="#787800"/><rect x="329" width="1" height="14" fill="#500050"/><rect x="330" width="2" height="14" fill="#5f5f00"/><rect x="332" width="1" height="14" fill="#5f2832"/><rect x="333" width="1" height="14" fill="#8c8c00"/><rect x="334" width="1" height="14" fill="#5f005f"/><rect x="335" width="2" height="14" fill="#412819"/><rect x="337" width="1" height="14" fill="#500050"/><rect x="338" width="1" height="14" fill="#693232"/><rect x="339" width="1" height="14" fill="#553c19"/><rect x="340" width="2" height="14" fill="#78462d"/><rect x="342" width="1" height="14" fill="#370037"/><rect x="343" width="1" height="14" fill="#d2d200"/><rect x="344" width="1" height="14" fill="#7d5f1e"/><rect x="345" width="2" height="14" fill="#500050"/><rect x="347" width="1" height="14" fill="#460046"/><rect x="348" width="1" height="14" fill="#7d5f1e"/><rect x="349" width="1" height="14" fill="#6e3c32"/><rect x="350" width="1" height="14" fill="#5a005a"/><rect x="351" width="1" height="14" fill="#553223"/><rect x="352" width="2" height="14" fill="#a0a000"/><rect x="354" width="2" height="14" fill="#784632"/><rect x="356" width="2" height="14" fill="#641e46"/><rect x="358" width="1" height="14" fill="#640064"/><rect x="359" width="1" height="14" fill="#878700"/><rect x="360" width="1" height="14" fill="#646400"/><rect x="361" width="2" height="14" fill="#87691e"/><rect x="363" width="1" height="14" fill="#a0a000"/><rect x="364" width="1" height="14" fill="#5a005a"/><rect x="365" width="1" height="14" fill="#640064"/><rect x="366" width="1" height="14" fill="#787800"/><rect x="367" width="1" height="14" fill="#505000"/><rect x="368" width="1" height="14" fill="#915a37"/><rect x="369" width="2" height="14" fill="#640064"/><rect x="371" width="2" height="14" fill="#644123"/><rect x="373" width="1" height="14" fill="#878700"/><rect x="374" width="1" height="14" fill="#500050"/><rect x="375" width="2" height="14" fill="#787800"/><rect x="377" width="2" height="14" fill="#500050"/><rect x="379" width="1" height="14" fill="#460046"/><rect x="380" width="2" height="14" fill="#875037"/><rect x="382" width="2" height="14" fill="#8c8c00"/><rect x="384" width="1" height="14" fill="#787800"/><rect x="385" width="1" height="14" fill="#7d7d00"/><rect x="386" width="1" height="14" fill="#550055"/><rect x="387" width="2" height="14" fill="#5a005a"/><rect x="389" width="1" height="14" fill="#6e3237"/><rect x="390" width="1" height="14" fill="#5f2837"/><rect x="391" width="1" height="14" fill="#bebe00"/><rect x="392" width="2" height="14" fill="#787800"/><rect x="394" width="1" height="14" fill="#5f005f"/><rect x="395" width="2" height="14" fill="#3c003c"/><rect x="397" width="1" height="14" fill="#550055"/><rect x="398" width="1" height="14" fill="#690069"/><rect x="399" width="1" height="14" fill="#696900"/><rect x="400" width="2" height="14" fill="#8c503c"/><rect x="402" width="1" height="14" fill="#6e4628"/><rect x="403" width="2" height="14" fill="#410041"/><rect x="405" width="1" height="14" fill="#3c003c"/><rect x="406" width="2" height="14" fill="#5a2832"/><rect x="408" width="2" height="14" fill="#5a005a"/><rect x="410" width="1" height="14" fill="#694623"/><rect x="411" width="1" height="14" fill="#8c8c00"/><rect x="412" width="1" height="14" fill="#640064"/><rect x="413" width="1" height="14" fill="#4b004b"/><rect x="414" width="1" height="14" fill="#8c8c00"/><rect x="415" width="1" height="14" fill="#4b004b"/><rect x="416" width="1" height="14" fill="#732d46"/><rect x="417" width="2" height="14" fill="#828200"/><rect x="419" width="1" height="14" fill="#5f322d"/><rect x="420" width="1" height="14" fill="#4b004b"/><rect x="421" width="1" height="14" fill="#5a1e3c"/><rect x="422" width="2" height="14" fill="#460046"/><rect x="424" width="1" height="14" fill="#5f005f"/><rect x="425" width="1" height="14" fill="#553723"/><rect x="426" width="2" height="14" fill="#5a005a"/><rect x="428" width="2" height="14" fill="#4b004b"/><rect x="430" width="1" height="14" fill="#460046"/><rect x="431" width="1" height="14" fill="#5a005a"/><rect x="432" width="1" height="14" fill="#410041"/><rect x="433" width="3" height="14" fill="#4b004b"/><rect x="436" width="1" height="14" fill="#410041"/><rect x="437" width="1" height="14" fill="#4b004b"/><rect x="438" width="2" height="14" fill="#500050"/><rect x="440" width="1" height="14" fill="#7d5028"/><rect x="441" width="1" height="14" fill="#500050"/><rect x="442" width="1" height="14" fill="#3c003c"/><rect x="443" width="1" height="14" fill="#500050"/><rect x="444" width="2" height="14" fill="#4b004b"/><rect x="446" width="1" height="14" fill="#410041"/><rect x="447" width="2" height="14" fill="#3c003c"/><rect x="449" width="1" height="14" fill="#4b004b"/><rect x="450" width="1" height="14" fill="#550055"/><rect x="451" width="2" height="14" fill="#4b004b"/><rect x="453" width="1" height="14" fill="#500050"/><rect x="454" width="1" height="14" fill="#4b004b"/><rect x="455" width="1" height="14" fill="#460046"/><rect x="456" width="2" height="14" fill="#500050"/><rect x="458" width="1" height="14" fill="#5f005f"/><rect x="459" width="2" height="14" fill="#500050"/><rect x="461" width="1" height="14" fill="#5f2837"/><rect x="462" width="2" height="14" fill="#320032"/><rect x="464" width="2" height="14" fill="#503719"/><rect x="466" width="1" height="14" fill="#460046"/><rect x="467" width="1" height="14" fill="#7d7d00"/><rect x="468" width="1" height="14" fill="#502328"/><rect x="469" width="2" height="14" fill="#5f5f00"/><rect x="471" width="1" height="14" fill="#2d002d"/><rect x="472" width="1" height="14" fill="#4b3219"/><rect x="473" width="1" height="14" fill="#370037"/><rect x="474" width="1" height="14" fill="#460046"/><rect x="475" width="2" height="14" fill="#280028"/><rect x="477" width="1" height="14" fill="#696900"/><rect x="478" width="1" height="14" fill="#464600"/><rect x="479" width="1" height="14" fill="#553c19"/><rect x="480" width="2" height="14" fill="#afaf00"/><rect x="482" width="1" height="14" fill="#737300"/><rect x="483" width="1" height="14" fill="#461432"/><rect x="484" width="2" height="14" fill="#b9b900"/><rect x="486" width="1" height="14" fill="#371e14"/><rect x="487" width="1" height="14" fill="#7d7d00"/><rect x="488" width="1" height="14" fill="#6e6e00"/><rect x="489" width="1" height="14" fill="#3c003c"/><rect x="490" width="1" height="14" fill="#460046"/><rect x="491" width="1" height="14" fill="#3c2814"/><rect x="492" width="1" height="14" fill="#646400"/><rect x="493" width="2" height="14" fill="#232300"/><rect x="495" width="1" height="14" fill="#730073"/><rect x="496" width="1" height="14" fill="#7d3c41"/><rect x="497" width="1" height="14" fill="#41320f"/><rect x="498" width="1" height="14" fill="#6e501e"/><rect x="499" width="1" height="14" fill="#4b004b"/></g><g transform="translate(0 116)"><rect x="316" width="1" height="13" fill="#5f5a05"/><rect x="317" width="1" height="13" fill="#500050"/><rect x="318" width="1" height="13" fill="#644123"/><rect x="319" width="2" height="13" fill="#696900"/><rect x="321" width="1" height="13" fill="#320032"/><rect x="322" width="2" height="13" fill="#878700"/><rect x="324" width="1" height="13" fill="#6e6e00"/><rect x="325" width="1" height="13" fill="#828200"/><rect x="326" width="1" height="13" fill="#825a28"/><rect x="327" width="2" height="13" fill="#91642d"/><rect x="329" width="2" height="13" fill="#a0a000"/><rect x="331" width="1" height="13" fill="#503719"/><rect x="332" width="1" height="13" fill="#646400"/><rect x="333" width="2" height="13" fill="#e1e100"/><rect x="335" width="1" height="13" fill="#78690f"/><rect x="336" width="1" height="13" fill="#5a005a"/><rect x="337" width="2" height="13" fill="#410041"/><rect x="339" width="2" height="13" fill="#784137"/><rect x="341" width="1" height="13" fill="#552332"/><rect x="342" width="1" height="13" fill="#280028"/><rect x="343" width="1" height="13" fill="#5f005f"/><rect x="344" width="1" height="13" fill="#5f4119"/><rect x="345" width="2" height="13" fill="#4b2328"/><rect x="347" width="2" height="13" fill="#5a3c1e"/><rect x="349" width="1" height="13" fill="#785523"/><rect x="350" width="2" height="13" fill="#696900"/><rect x="352" width="1" height="13" fill="#5a3c1e"/><rect x="353" width="2" height="13" fill="#5a4119"/><rect x="355" width="1" height="13" fill="#7d4637"/><rect x="356" width="2" height="13" fill="#8c5a32"/><rect x="358" width="2" height="13" fill="#460046"/><rect x="360" width="2" height="13" fill="#696900"/><rect x="362" width="1" height="13" fill="#875037"/><rect x="363" width="2" height="13" fill="#a5a500"/><rect x="365" width="1" height="13" fill="#aaaa00"/><rect x="366" width="1" height="13" fill="#878700"/><rect x="367" width="2" height="13" fill="#7d502d"/><rect x="369" width="2" height="13" fill="#786914"/><rect x="371" width="2" height="13" fill="#737300"/><rect x="373" width="2" height="13" fill="#46370f"/><rect x="375" width="1" height="13" fill="#696900"/><rect x="376" width="1" height="13" fill="#5a4119"/><rect x="377" width="2" height="13" fill="#8c6923"/><rect x="379" width="2" height="13" fill="#55371e"/><rect x="381" width="1" height="13" fill="#690069"/><rect x="382" width="1" height="13" fill="#733c37"/><rect x="383" width="1" height="13" fill="#552d2d"/><rect x="384" width="1" height="13" fill="#734b28"/><rect x="385" width="1" height="13" fill="#787800"/><rect x="386" width="1" height="13" fill="#82552d"/><rect x="387" width="1" height="13" fill="#5a5a00"/><rect x="388" width="1" height="13" fill="#410041"/><rect x="389" width="1" height="13" fill="#969600"/><rect x="390" width="1" height="13" fill="#875a2d"/><rect x="391" width="1" height="13" fill="#693732"/><rect x="392" width="2" height="13" fill="#693232"/><rect x="394" width="1" height="13" fill="#6e3737"/><rect x="395" width="1" height="13" fill="#787800"/><rect x="396" width="1" height="13" fill="#5a005a"/><rect x="397" width="2" height="13" fill="#2d002d"/><rect x="399" width="2" height="13" fill="#7d502d"/><rect x="401" width="1" height="13" fill="#4b004b"/><rect x="402" width="1" height="13" fill="#64194b"/><rect x="403" width="1" height="13" fill="#502332"/><rect x="404" width="2" height="13" fill="#785523"/><rect x="406" width="2" height="13" fill="#5f005f"/><rect x="408" width="1" height="13" fill="#5a3723"/><rect x="409" width="1" height="13" fill="#919100"/><rect x="410" width="1" height="13" fill="#4b004b"/><rect x="411" width="2" height="13" fill="#a5a500"/><rect x="413" width="2" height="13" fill="#693237"/><rect x="415" width="1" height="13" fill="#bebe00"/><rect x="416" width="2" height="13" fill="#4b4b00"/><rect x="418" width="1" height="13" fill="#9b9b00"/><rect x="419" width="1" height="13" fill="#732846"/><rect x="420" width="1" height="13" fill="#91731e"/><rect x="421" width="1" height="13" fill="#910091"/><rect x="422" width="1" height="13" fill="#87691e"/><rect x="423" width="2" height="13" fill="#915a37"/><rect x="425" width="1" height="13" fill="#140014"/><rect x="426" width="2" height="13" fill="#55282d"/><rect x="428" width="2" height="13" fill="#460046"/><rect x="430" width="2" height="13" fill="#3c003c"/><rect x="432" width="1" height="13" fill="#460046"/><rect x="433" width="1" height="13" fill="#2d002d"/><rect x="434" width="1" height="13" fill="#413c0a"/><rect x="435" width="2" height="13" fill="#4b004b"/><rect x="437" width="2" height="13" fill="#2d190f"/><rect x="439" width="1" height="13" fill="#64550f"/><rect x="440" width="1" height="13" fill="#878700"/><rect x="441" width="1" height="13" fill="#645f05"/><rect x="442" width="1" height="13" fill="#695a0a"/><rect x="443" width="1" height="13" fill="#8c8c00"/><rect x="444" width="1" height="13" fill="#7d7d00"/><rect x="445" width="1" height="13" fill="#550055"/><rect x="446" width="2" height="13" fill="#190019"/><rect x="448" width="1" height="13" fill="#320032"/><rect x="449" width="2" height="13" fill="#554114"/><rect x="451" width="1" height="13" fill="#553719"/><rect x="452" width="1" height="13" fill="#5a5a00"/><rect x="453" width="1" height="13" fill="#5a4614"/><rect x="454" width="1" height="13" fill="#785a1e"/><rect x="455" width="1" height="13" fill="#9b8c0f"/><rect x="456" width="1" height="13" fill="#8c6e23"/><rect x="457" width="2" height="13" fill="#694b1e"/><rect x="459" width="2" height="13" fill="#695f05"/><rect x="461" width="1" height="13" fill="#4b004b"/><rect x="462" width="2" height="13" fill="#690069"/><rect x="464" width="1" height="13" fill="#919100"/><rect x="465" width="1" height="13" fill="#5a005a"/><rect x="466" width="1" height="13" fill="#732d46"/><rect x="467" width="2" height="13" fill="#820082"/><rect x="469" width="1" height="13" fill="#5f005f"/><rect x="470" width="2" height="13" fill="#690069"/><rect x="472" width="3" height="13" fill="#4b004b"/><rect x="475" width="1" height="13" fill="#550055"/><rect x="476" width="1" height="13" fill="#5f005f"/><rect x="477" width="1" height="13" fill="#640064"/><rect x="478" width="1" height="13" fill="#550055"/><rect x="479" width="2" height="13" fill="#5a005a"/><rect x="481" width="2" height="13" fill="#6e006e"/><rect x="483" width="1" height="13" fill="#5f005f"/><rect x="484" width="1" height="13" fill="#6e006e"/><rect x="485" width="1" height="13" fill="#780078"/><rect x="486" width="1" height="13" fill="#550055"/><rect x="487" width="1" height="13" fill="#910091"/><rect x="488" width="2" height="13" fill="#5f005f"/><rect x="490" width="2" height="13" fill="#9b009b"/><rect x="492" width="1" height="13" fill="#500050"/><rect x="493" width="1" height="13" fill="#6e006e"/><rect x="494" width="2" height="13" fill="#550055"/><rect x="496" width="1" height="13" fill="#5f3728"/><rect x="497" width="2" height="13" fill="#6e5023"/><rect x="499" width="1" height="13" fill="#730073"/></g><g transform="translate(0 129)"><rect x="316" width="1" height="13" fill="#4b2d23"/><rect x="317" width="1" height="13" fill="#371e19"/><rect x="318" width="2" height="13" fill="#828200"/><rect x="320" width="2" height="13" fill="#6e412d"/><rect x="322" width="1" height="13" fill="#733241"/><rect x="323" width="2" height="13" fill="#824141"/><rect x="325" width="2" height="13" fill="#7d2d50"/><rect x="327" width="2" height="13" fill="#5f5f00"/><rect x="329" width="2" height="13" fill="#5f372d"/><rect x="331" width="2" height="13" fill="#505000"/><rect x="333" width="1" height="13" fill="#822d55"/><rect x="334" width="1" height="13" fill="#7d7d00"/><rect x="335" width="1" height="13" fill="#9b7823"/><rect x="336" width="2" height="13" fill="#551441"/><rect x="338" width="1" height="13" fill="#505000"/><rect x="339" width="1" height="13" fill="#6e551e"/><rect x="340" width="2" height="13" fill="#6e3737"/><rect x="342" width="2" height="13" fill="#500050"/><rect x="344" width="1" height="13" fill="#820082"/><rect x="345" width="2" height="13" fill="#414100"/><rect x="347" width="1" height="13" fill="#7d007d"/><rect x="348" width="1" height="13" fill="#646400"/><rect x="349" width="1" height="13" fill="#555500"/><rect x="350" width="1" height="13" fill="#6e6e00"/><rect x="351" width="1" height="13" fill="#787800"/><rect x="352" width="1" height="13" fill="#a0a000"/><rect x="353" width="1" height="13" fill="#783741"/><rect x="354" width="2" height="13" fill="#878700"/><rect x="356" width="1" height="13" fill="#7d7d00"/><rect x="357" width="1" height="13" fill="#191900"/><rect x="358" width="1" height="13" fill="#64372d"/><rect x="359" width="2" height="13" fill="#1e1e00"/><rect x="361" width="1" height="13" fill="#7d3c41"/><rect x="362" width="1" height="13" fill="#696900"/><rect x="363" width="1" height="13" fill="#413c05"/><rect x="364" width="2" height="13" fill="#643c28"/><rect x="366" width="1" height="13" fill="#5a005a"/><rect x="367" width="2" height="13" fill="#5a2d32"/><rect x="369" width="1" height="13" fill="#6e2846"/><rect x="370" width="2" height="13" fill="#642d37"/><rect x="372" width="1" height="13" fill="#644623"/><rect x="373" width="2" height="13" fill="#5f5f00"/><rect x="375" width="1" height="13" fill="#870087"/><rect x="376" width="1" height="13" fill="#4b0a41"/><rect x="377" width="1" height="13" fill="#7d7d00"/><rect x="378" width="1" height="13" fill="#23190a"/><rect x="379" width="1" height="13" fill="#820082"/><rect x="380" width="3" height="13" fill="#646400"/><rect x="383" width="2" height="13" fill="#5f5f00"/><rect x="385" width="1" height="13" fill="#6e006e"/><rect x="386" width="1" height="13" fill="#a0a000"/><rect x="387" width="1" height="13" fill="#828200"/><rect x="388" width="2" height="13" fill="#734628"/><rect x="390" width="1" height="13" fill="#9b9b00"/><rect x="391" width="2" height="13" fill="#462d19"/><rect x="393" width="2" height="13" fill="#823c46"/><rect x="395" width="1" height="13" fill="#824b37"/><rect x="396" width="2" height="13" fill="#646400"/><rect x="398" width="1" height="13" fill="#5a005a"/><rect x="399" width="2" height="13" fill="#7d7d00"/><rect x="401" width="1" height="13" fill="#aaaa00"/><rect x="402" width="1" height="13" fill="#7d4637"/><rect x="403" width="2" height="13" fill="#874146"/><rect x="405" width="1" height="13" fill="#7d2355"/><rect x="406" width="1" height="13" fill="#6e006e"/><rect x="407" width="1" height="13" fill="#6e2d41"/><rect x="408" width="1" height="13" fill="#b900b9"/><rect x="409" width="2" height="13" fill="#5a3c1e"/><rect x="411" width="1" height="13" fill="#737300"/><rect x="412" width="1" height="13" fill="#3c320a"/><rect x="413" width="1" height="13" fill="#646400"/><rect x="414" width="1" height="13" fill="#873755"/><rect x="415" width="2" height="13" fill="#373700"/><rect x="417" width="1" height="13" fill="#784637"/><rect x="418" width="1" height="13" fill="#6e3237"/><rect x="419" width="2" height="13" fill="#b4b400"/><rect x="421" width="1" height="13" fill="#5a3723"/><rect x="422" width="1" height="13" fill="#460046"/><rect x="423" width="1" height="13" fill="#2d002d"/><rect x="424" width="2" height="13" fill="#4b004b"/><rect x="426" width="1" height="13" fill="#370037"/><rect x="427" width="1" height="13" fill="#410041"/><rect x="428" width="1" height="13" fill="#4b2328"/><rect x="429" width="1" height="13" fill="#410041"/><rect x="430" width="5" height="13" fill="#3c003c"/><rect x="435" width="1" height="13" fill="#7d7d00"/><rect x="436" width="1" height="13" fill="#460046"/><rect x="437" width="2" height="13" fill="#370037"/><rect x="439" width="1" height="13" fill="#410041"/><rect x="440" width="1" height="13" fill="#320032"/><rect x="441" width="2" height="13" fill="#460046"/><rect x="443" width="2" height="13" fill="#320032"/><rect x="445" width="2" height="13" fill="#3c003c"/><rect x="447" width="2" height="13" fill="#410041"/><rect x="449" width="1" height="13" fill="#460046"/><rect x="450" width="2" height="13" fill="#410041"/><rect x="452" width="1" height="13" fill="#370037"/><rect x="453" width="1" height="13" fill="#3c003c"/><rect x="454" width="2" height="13" fill="#2d002d"/><rect x="456" width="2" height="13" fill="#320032"/><rect x="458" width="1" height="13" fill="#410041"/><rect x="459" width="1" height="13" fill="#3c003c"/><rect x="460" width="1" height="13" fill="#410041"/><rect x="461" width="1" height="13" fill="#7d7d00"/><rect x="462" width="1" height="13" fill="#a5a500"/><rect x="463" width="1" height="13" fill="#694b1e"/><rect x="464" width="1" height="13" fill="#828200"/><rect x="465" width="1" height="13" fill="#82780a"/><rect x="466" width="3" height="13" fill="#878700"/><rect x="469" width="1" height="13" fill="#5f5f00"/><rect x="470" width="1" height="13" fill="#2d002d"/><rect x="471" width="1" height="13" fill="#8c7319"/><rect x="472" width="1" height="13" fill="#5f4119"/><rect x="473" width="1" height="13" fill="#410041"/><rect x="474" width="1" height="13" fill="#8c8c00"/><rect x="475" width="1" height="13" fill="#9b9b00"/><rect x="476" width="1" height="13" fill="#878700"/><rect x="477" width="1" height="13" fill="#7d7d00"/><rect x="478" width="1" height="13" fill="#6e6e00"/><rect x="479" width="2" height="13" fill="#828200"/><rect x="481" width="1" height="13" fill="#6e6e00"/><rect x="482" width="1" height="13" fill="#a5a500"/><rect x="483" width="1" height="13" fill="#555500"/><rect x="484" width="1" height="13" fill="#9b7823"/><rect x="485" width="1" height="13" fill="#694b1e"/><rect x="486" width="1" height="13" fill="#7d7d00"/><rect x="487" width="1" height="13" fill="#8c8c00"/><rect x="488" width="1" height="13" fill="#505000"/><rect x="489" width="2" height="13" fill="#828200"/><rect x="491" width="1" height="13" fill="#5a4b0a"/><rect x="492" width="1" height="13" fill="#411e23"/><rect x="493" width="1" height="13" fill="#280028"/><rect x="494" width="1" height="13" fill="#4b2828"/><rect x="495" width="2" height="13" fill="#643c28"/><rect x="497" width="2" height="13" fill="#695019"/><rect x="499" width="1" height="13" fill="#a0a000"/></g><g transform="translate(0 142)"><rect x="316" width="1" height="13" fill="#73373c"/><rect x="317" width="1" height="13" fill="#73551e"/><rect x="318" width="2" height="13" fill="#7d7d00"/><rect x="320" width="1" height="13" fill="#5f2d32"/><rect x="321" width="1" height="13" fill="#7d7d00"/><rect x="322" width="1" height="13" fill="#4b004b"/><rect x="323" width="1" height="13" fill="#7d2d50"/><rect x="324" width="2" height="13" fill="#463214"/><rect x="326" width="1" height="13" fill="#693237"/><rect x="327" width="1" height="13" fill="#3c320a"/><rect x="328" width="1" height="13" fill="#784b2d"/><rect x="329" width="1" height="13" fill="#5f5f00"/><rect x="330" width="1" height="13" fill="#7d3c41"/><rect x="331" width="1" height="13" fill="#8c6e1e"/><rect x="332" width="2" height="13" fill="#373700"/><rect x="334" width="1" height="13" fill="#503c14"/><rect x="335" width="1" height="13" fill="#730073"/><rect x="336" width="1" height="13" fill="#828200"/><rect x="337" width="1" height="13" fill="#5a5a00"/><rect x="338" width="2" height="13" fill="#87285f"/><rect x="340" width="1" height="13" fill="#5a3c1e"/><rect x="341" width="1" height="13" fill="#5a5a00"/><rect x="342" width="1" height="13" fill="#7d4b32"/><rect x="343" width="2" height="13" fill="#500050"/><rect x="345" width="1" height="13" fill="#5a5a00"/><rect x="346" width="1" height="13" fill="#730073"/><rect x="347" width="1" height="13" fill="#6e006e"/><rect x="348" width="1" height="13" fill="#735f19"/><rect x="349" width="1" height="13" fill="#872864"/><rect x="350" width="1" height="13" fill="#644123"/><rect x="351" width="2" height="13" fill="#870087"/><rect x="353" width="1" height="13" fill="#823250"/><rect x="354" width="1" height="13" fill="#5f005f"/><rect x="355" width="1" height="13" fill="#5f2832"/><rect x="356" width="2" height="13" fill="#691455"/><rect x="358" width="2" height="13" fill="#78195f"/><rect x="360" width="2" height="13" fill="#5f2837"/><rect x="362" width="1" height="13" fill="#aa00aa"/><rect x="363" width="1" height="13" fill="#5a2832"/><rect x="364" width="1" height="13" fill="#461e23"/><rect x="365" width="1" height="13" fill="#370037"/><rect x="366" width="2" height="13" fill="#5f5f00"/><rect x="368" width="2" height="13" fill="#692d41"/><rect x="370" width="1" height="13" fill="#646400"/><rect x="371" width="2" height="13" fill="#692841"/><rect x="373" width="2" height="13" fill="#8c3c50"/><rect x="375" width="2" height="13" fill="#370037"/><rect x="377" width="1" height="13" fill="#503223"/><rect x="378" width="1" height="13" fill="#c300c3"/><rect x="379" width="2" height="13" fill="#6e3237"/><rect x="381" width="2" height="13" fill="#500050"/><rect x="383" width="1" height="13" fill="#9b4b55"/><rect x="384" width="1" height="13" fill="#414100"/><rect x="385" width="2" height="13" fill="#783c3c"/><rect x="387" width="2" height="13" fill="#6e4b23"/><rect x="389" width="1" height="13" fill="#916e1e"/><rect x="390" width="2" height="13" fill="#8c008c"/><rect x="392" width="1" height="13" fill="#500f41"/><rect x="393" width="2" height="13" fill="#5f005f"/><rect x="395" width="1" height="13" fill="#824141"/><rect x="396" width="1" height="13" fill="#640064"/><rect x="397" width="1" height="13" fill="#823250"/><rect x="398" width="1" height="13" fill="#5f372d"/><rect x="399" width="1" height="13" fill="#64372d"/><rect x="400" width="1" height="13" fill="#6e2d41"/><rect x="401" width="1" height="13" fill="#690069"/><rect x="402" width="2" height="13" fill="#7d007d"/><rect x="404" width="1" height="13" fill="#820082"/><rect x="405" width="1" height="13" fill="#696900"/><rect x="406" width="2" height="13" fill="#6e006e"/><rect x="408" width="2" height="13" fill="#8c008c"/><rect x="410" width="2" height="13" fill="#6e2846"/><rect x="412" width="1" height="13" fill="#5f5f00"/><rect x="413" width="2" height="13" fill="#69412d"/><rect x="415" width="1" height="13" fill="#690069"/><rect x="416" width="2" height="13" fill="#7d7d00"/><rect x="418" width="2" height="13" fill="#6e2846"/><rect x="420" width="1" height="13" fill="#6e6e00"/><rect x="421" width="1" height="13" fill="#464600"/><rect x="422" width="1" height="13" fill="#2d002d"/><rect x="423" width="2" height="13" fill="#4b004b"/><rect x="425" width="2" height="13" fill="#0f000f"/><rect x="427" width="1" height="13" fill="#320032"/><rect x="428" width="2" height="13" fill="#3c003c"/><rect x="430" width="1" height="13" fill="#500050"/><rect x="431" width="1" height="13" fill="#280028"/><rect x="432" width="2" height="13" fill="#3c003c"/><rect x="434" width="1" height="13" fill="#4b004b"/><rect x="435" width="1" height="13" fill="#460046"/><rect x="436" width="1" height="13" fill="#320032"/><rect x="437" width="1" height="13" fill="#4b004b"/><rect x="438" width="1" height="13" fill="#642341"/><rect x="439" width="1" height="13" fill="#191900"/><rect x="440" width="1" height="13" fill="#370037"/><rect x="441" width="1" height="13" fill="#230023"/><rect x="442" width="2" height="13" fill="#2d002d"/><rect x="444" width="1" height="13" fill="#280028"/><rect x="445" width="1" height="13" fill="#5f233c"/><rect x="446" width="2" height="13" fill="#460046"/><rect x="448" width="2" height="13" fill="#878700"/><rect x="450" width="1" height="13" fill="#4b004b"/><rect x="451" width="2" height="13" fill="#320032"/><rect x="453" width="1" height="13" fill="#190019"/><rect x="454" width="1" height="13" fill="#413c05"/><rect x="455" width="1" height="13" fill="#2d002d"/><rect x="456" width="1" height="13" fill="#000000"/><rect x="457" width="1" height="13" fill="#5f005f"/><rect x="458" width="1" height="13" fill="#6e006e"/><rect x="459" width="1" height="13" fill="#5a5a00"/><rect x="460" width="1" height="13" fill="#410041"/><rect x="461" width="1" height="13" fill="#2d1914"/><rect x="462" width="2" height="13" fill="#413c05"/><rect x="464" width="1" height="13" fill="#694b19"/><rect x="465" width="1" height="13" fill="#2d002d"/><rect x="466" width="1" height="13" fill="#230023"/><rect x="467" width="1" height="13" fill="#414100"/><rect x="468" width="2" height="13" fill="#190019"/><rect x="470" width="2" height="13" fill="#5f500f"/><rect x="472" width="1" height="13" fill="#876e14"/><rect x="473" width="1" height="13" fill="#a0a000"/><rect x="474" width="1" height="13" fill="#6e6e00"/><rect x="475" width="1" height="13" fill="#230023"/><rect x="476" width="1" height="13" fill="#6e6e00"/><rect x="477" width="1" height="13" fill="#2d0a1e"/><rect x="478" width="1" height="13" fill="#737300"/><rect x="479" width="1" height="13" fill="#2d002d"/><rect x="480" width="1" height="13" fill="#6e6e00"/><rect x="481" width="2" height="13" fill="#320032"/><rect x="483" width="1" height="13" fill="#646400"/><rect x="484" width="2" height="13" fill="#0f000f"/><rect x="486" width="1" height="13" fill="#553223"/><rect x="487" width="2" height="13" fill="#7d7d00"/><rect x="489" width="1" height="13" fill="#555500"/><rect x="490" width="1" height="13" fill="#230023"/><rect x="491" width="1" height="13" fill="#696900"/><rect x="492" width="1" height="13" fill="#828200"/><rect x="493" width="1" height="13" fill="#969600"/><rect x="494" width="1" height="13" fill="#644619"/><rect x="495" width="1" height="13" fill="#737300"/><rect x="496" width="1" height="13" fill="#786e0a"/><rect x="497" width="2" height="13" fill="#3c003c"/><rect x="499" width="1" height="13" fill="#644123"/></g><g transform="translate(0 155)"><rect x="316" width="2" height="13" fill="#230023"/><rect x="318" width="2" height="13" fill="#2d002d"/><rect x="320" width="1" height="13" fill="#370037"/><rect x="321" width="1" height="13" fill="#410041"/><rect x="322" width="1" height="13" fill="#5a3723"/><rect x="323" width="1" height="13" fill="#5a3c23"/><rect x="324" width="1" height="13" fill="#644123"/><rect x="325" width="1" height="13" fill="#4b004b"/><rect x="326" width="2" height="13" fill="#3c003c"/><rect x="328" width="1" height="13" fill="#460046"/><rect x="329" width="1" height="13" fill="#5a4b0a"/><rect x="330" width="1" height="13" fill="#4b2823"/><rect x="331" width="2" height="13" fill="#3c003c"/><rect x="333" width="1" height="13" fill="#370037"/><rect x="334" width="1" height="13" fill="#2d002d"/><rect x="335" width="1" height="13" fill="#5f3c1e"/><rect x="336" width="1" height="13" fill="#320032"/><rect x="337" width="2" height="13" fill="#410041"/><rect x="339" width="2" height="13" fill="#96642d"/><rect x="341" width="1" height="13" fill="#50321e"/><rect x="342" width="1" height="13" fill="#5f4619"/><rect x="343" width="1" height="13" fill="#411e23"/><rect x="344" width="2" height="13" fill="#370037"/><rect x="346" width="1" height="13" fill="#371423"/><rect x="347" width="1" height="13" fill="#6e5019"/><rect x="348" width="1" height="13" fill="#553223"/><rect x="349" width="3" height="13" fill="#3c003c"/><rect x="352" width="2" height="13" fill="#410041"/><rect x="354" width="2" height="13" fill="#695019"/><rect x="356" width="1" height="13" fill="#2d002d"/><rect x="357" width="1" height="13" fill="#644b19"/><rect x="358" width="1" height="13" fill="#502828"/><rect x="359" width="2" height="13" fill="#5a3c19"/><rect x="361" width="2" height="13" fill="#460046"/><rect x="363" width="2" height="13" fill="#6e5519"/><rect x="365" width="2" height="13" fill="#1e140a"/><rect x="367" width="2" height="13" fill="#2d002d"/><rect x="369" width="2" height="13" fill="#4b004b"/><rect x="371" width="1" height="13" fill="#370037"/><rect x="372" width="2" height="13" fill="#410041"/><rect x="374" width="1" height="13" fill="#2d002d"/><rect x="375" width="1" height="13" fill="#412819"/><rect x="376" width="1" height="13" fill="#645014"/><rect x="377" width="2" height="13" fill="#3c003c"/><rect x="379" width="1" height="13" fill="#785f19"/><rect x="380" width="1" height="13" fill="#410041"/><rect x="381" width="1" height="13" fill="#826e14"/><rect x="382" width="1" height="13" fill="#5f4619"/><rect x="383" width="2" height="13" fill="#3c1928"/><rect x="385" width="1" height="13" fill="#7d7d00"/><rect x="386" width="2" height="13" fill="#735523"/><rect x="388" width="1" height="13" fill="#230023"/><rect x="389" width="2" height="13" fill="#a0a000"/><rect x="391" width="1" height="13" fill="#3c003c"/><rect x="392" width="1" height="13" fill="#502d23"/><rect x="393" width="1" height="13" fill="#cdcd00"/><rect x="394" width="2" height="13" fill="#55371e"/><rect x="396" width="2" height="13" fill="#786414"/><rect x="398" width="2" height="13" fill="#694b1e"/><rect x="400" width="1" height="13" fill="#370037"/><rect x="401" width="1" height="13" fill="#46281e"/><rect x="402" width="1" height="13" fill="#410041"/><rect x="403" width="1" height="13" fill="#320032"/><rect x="404" width="2" height="13" fill="#919100"/><rect x="406" width="2" height="13" fill="#370037"/><rect x="408" width="2" height="13" fill="#503719"/><rect x="410" width="1" height="13" fill="#4b2d1e"/><rect x="411" width="2" height="13" fill="#919100"/><rect x="413" width="2" height="13" fill="#694623"/><rect x="415" width="2" height="13" fill="#370037"/><rect x="417" width="1" height="13" fill="#785a1e"/><rect x="418" width="2" height="13" fill="#320032"/><rect x="420" width="2" height="13" fill="#3c003c"/><rect x="422" width="1" height="13" fill="#737300"/><rect x="423" width="1" height="13" fill="#8c7319"/><rect x="424" width="1" height="13" fill="#2d002d"/><rect x="425" width="1" height="13" fill="#695a0f"/><rect x="426" width="1" height="13" fill="#3c3c05"/><rect x="427" width="2" height="13" fill="#370037"/><rect x="429" width="1" height="13" fill="#5a5505"/><rect x="430" width="1" height="13" fill="#919100"/><rect x="431" width="1" height="13" fill="#b9b900"/><rect x="432" width="1" height="13" fill="#969600"/><rect x="433" width="1" height="13" fill="#91820f"/><rect x="434" width="1" height="13" fill="#370037"/><rect x="435" width="1" height="13" fill="#6e4b23"/><rect x="436" width="1" height="13" fill="#695a0f"/><rect x="437" width="1" height="13" fill="#785a1e"/><rect x="438" width="1" height="13" fill="#a5a500"/><rect x="439" width="1" height="13" fill="#b9b900"/><rect x="440" width="2" height="13" fill="#b4b400"/><rect x="442" width="2" height="13" fill="#7d7d00"/><rect x="444" width="2" height="13" fill="#5a4614"/><rect x="446" width="1" height="13" fill="#919100"/><rect x="447" width="1" height="13" fill="#73551e"/><rect x="448" width="1" height="13" fill="#2d002d"/><rect x="449" width="1" height="13" fill="#370037"/><rect x="450" width="2" height="13" fill="#5f411e"/><rect x="452" width="1" height="13" fill="#8c8c00"/><rect x="453" width="2" height="13" fill="#787800"/><rect x="455" width="2" height="13" fill="#696900"/><rect x="457" width="1" height="13" fill="#5f411e"/><rect x="458" width="1" height="13" fill="#8c8c00"/><rect x="459" width="1" height="13" fill="#410041"/><rect x="460" width="2" height="13" fill="#370037"/><rect x="462" width="2" height="13" fill="#320032"/><rect x="464" width="1" height="13" fill="#410041"/><rect x="465" width="1" height="13" fill="#370037"/><rect x="466" width="1" height="13" fill="#3c003c"/><rect x="467" width="1" height="13" fill="#320032"/><rect x="468" width="1" height="13" fill="#460046"/><rect x="469" width="1" height="13" fill="#5a3228"/><rect x="470" width="1" height="13" fill="#410041"/><rect x="471" width="1" height="13" fill="#230023"/><rect x="472" width="2" height="13" fill="#6e6e00"/><rect x="474" width="1" height="13" fill="#3c003c"/><rect x="475" width="1" height="13" fill="#4b281e"/><rect x="476" width="1" height="13" fill="#463214"/><rect x="477" width="1" height="13" fill="#370037"/><rect x="478" width="1" height="13" fill="#3c003c"/><rect x="479" width="1" height="13" fill="#4b2823"/><rect x="480" width="1" height="13" fill="#694b1e"/><rect x="481" width="1" height="13" fill="#50321e"/><rect x="482" width="1" height="13" fill="#7d7d00"/><rect x="483" width="1" height="13" fill="#6e6e00"/><rect x="484" width="1" height="13" fill="#2d0f23"/><rect x="485" width="2" height="13" fill="#41231e"/><rect x="487" width="2" height="13" fill="#3c2314"/><rect x="489" width="1" height="13" fill="#280f1e"/><rect x="490" width="1" height="13" fill="#4b004b"/><rect x="491" width="1" height="13" fill="#370037"/><rect x="492" width="1" height="13" fill="#5f411e"/><rect x="493" width="1" height="13" fill="#370037"/><rect x="494" width="1" height="13" fill="#191900"/><rect x="495" width="1" height="13" fill="#230f14"/><rect x="496" width="1" height="13" fill="#2d002d"/><rect x="497" width="2" height="13" fill="#460046"/><rect x="499" width="1" height="13" fill="#50321e"/></g><g transform="translate(0 168)"><rect x="316" width="1" height="13" fill="#280028"/><rect x="317" width="1" height="13" fill="#8c7314"/><rect x="318" width="1" height="13" fill="#2d002d"/><rect x="319" width="2" height="13" fill="#280028"/><rect x="321" width="1" height="13" fill="#230023"/><rect x="322" width="1" height="13" fill="#826919"/><rect x="323" width="2" height="13" fill="#230023"/><rect x="325" width="1" height="13" fill="#2d002d"/><rect x="326" width="1" height="13" fill="#280028"/><rect x="327" width="2" height="13" fill="#2d002d"/><rect x="329" width="2" height="13" fill="#5f4619"/><rect x="331" width="2" height="13" fill="#230023"/><rect x="333" width="2" height="13" fill="#462819"/><rect x="335" width="2" height="13" fill="#280028"/><rect x="337" width="1" height="13" fill="#64550f"/><rect x="338" width="1" height="13" fill="#280028"/><rect x="339" width="1" height="13" fill="#230023"/><rect x="340" width="2" height="13" fill="#37191e"/><rect x="342" width="1" height="13" fill="#2d002d"/><rect x="343" width="1" height="13" fill="#230023"/><rect x="344" width="1" height="13" fill="#2d002d"/><rect x="345" width="2" height="13" fill="#230023"/><rect x="347" width="1" height="13" fill="#919100"/><rect x="348" width="1" height="13" fill="#230023"/><rect x="349" width="1" height="13" fill="#5f461e"/><rect x="350" width="1" height="13" fill="#55371e"/><rect x="351" width="2" height="13" fill="#230023"/><rect x="353" width="2" height="13" fill="#2d002d"/><rect x="355" width="2" height="13" fill="#645019"/><rect x="357" width="1" height="13" fill="#7d6e0f"/><rect x="358" width="2" height="13" fill="#2d002d"/><rect x="360" width="1" height="13" fill="#6e640f"/><rect x="361" width="1" height="13" fill="#280028"/><rect x="362" width="1" height="13" fill="#230023"/><rect x="363" width="1" height="13" fill="#5f4619"/><rect x="364" width="1" height="13" fill="#4b3c0f"/><rect x="365" width="1" height="13" fill="#1e001e"/><rect x="366" width="1" height="13" fill="#230023"/><rect x="367" width="1" height="13" fill="#280028"/><rect x="368" width="2" height="13" fill="#1e001e"/><rect x="370" width="1" height="13" fill="#2d002d"/><rect x="371" width="3" height="13" fill="#230023"/><rect x="374" width="1" height="13" fill="#46370f"/><rect x="375" width="2" height="13" fill="#280028"/><rect x="377" width="2" height="13" fill="#230023"/><rect x="379" width="1" height="13" fill="#503719"/><rect x="380" width="2" height="13" fill="#2d002d"/><rect x="382" width="2" height="13" fill="#785f19"/><rect x="384" width="2" height="13" fill="#1e001e"/><rect x="386" width="1" height="13" fill="#230023"/><rect x="387" width="1" height="13" fill="#5f4b14"/><rect x="388" width="1" height="13" fill="#320032"/><rect x="389" width="2" height="13" fill="#280028"/><rect x="391" width="3" height="13" fill="#1e001e"/><rect x="394" width="1" height="13" fill="#280028"/><rect x="395" width="1" height="13" fill="#230023"/><rect x="396" width="1" height="13" fill="#280028"/><rect x="397" width="1" height="13" fill="#32280f"/><rect x="398" width="2" height="13" fill="#370037"/><rect x="400" width="1" height="13" fill="#320032"/><rect x="401" width="2" height="13" fill="#230023"/><rect x="403" width="1" height="13" fill="#280028"/><rect x="404" width="1" height="13" fill="#2d002d"/><rect x="405" width="2" height="13" fill="#230023"/><rect x="407" width="1" height="13" fill="#320032"/><rect x="408" width="2" height="13" fill="#5a4b0f"/><rect x="410" width="1" height="13" fill="#230023"/><rect x="411" width="1" height="13" fill="#694b1e"/><rect x="412" width="1" height="13" fill="#645014"/><rect x="413" width="1" height="13" fill="#5a4119"/><rect x="414" width="1" height="13" fill="#503c14"/><rect x="415" width="2" height="13" fill="#230023"/><rect x="417" width="1" height="13" fill="#1e001e"/><rect x="418" width="1" height="13" fill="#280028"/><rect x="419" width="1" height="13" fill="#230023"/><rect x="420" width="1" height="13" fill="#280028"/><rect x="421" width="1" height="13" fill="#1e001e"/><rect x="422" width="3" height="13" fill="#280028"/><rect x="425" width="1" height="13" fill="#2d002d"/><rect x="426" width="1" height="13" fill="#320032"/><rect x="427" width="1" height="13" fill="#1e001e"/><rect x="428" width="1" height="13" fill="#8c8c00"/><rect x="429" width="1" height="13" fill="#5a4114"/><rect x="430" width="2" height="13" fill="#0a000a"/><rect x="432" width="1" height="13" fill="#5a4b14"/><rect x="433" width="2" height="13" fill="#2d002d"/><rect x="435" width="2" height="13" fill="#a0a000"/><rect x="437" width="2" height="13" fill="#5a3c1e"/><rect x="439" width="1" height="13" fill="#5f5f00"/><rect x="440" width="2" height="13" fill="#230023"/><rect x="442" width="2" height="13" fill="#370037"/><rect x="444" width="2" height="13" fill="#9b9b00"/><rect x="446" width="2" height="13" fill="#785f19"/><rect x="448" width="1" height="13" fill="#320032"/><rect x="449" width="2" height="13" fill="#370037"/><rect x="451" width="1" height="13" fill="#55460f"/><rect x="452" width="2" height="13" fill="#280028"/><rect x="454" width="1" height="13" fill="#46370f"/><rect x="455" width="2" height="13" fill="#50460f"/><rect x="457" width="2" height="13" fill="#320032"/><rect x="459" width="2" height="13" fill="#a0a000"/><rect x="461" width="2" height="13" fill="#370037"/><rect x="463" width="1" height="13" fill="#230023"/><rect x="464" width="1" height="13" fill="#370037"/><rect x="465" width="1" height="13" fill="#320032"/><rect x="466" width="2" height="13" fill="#280028"/><rect x="468" width="1" height="13" fill="#412d14"/><rect x="469" width="2" height="13" fill="#2d002d"/><rect x="471" width="2" height="13" fill="#140014"/><rect x="473" width="2" height="13" fill="#2d002d"/><rect x="475" width="2" height="13" fill="#502823"/><rect x="477" width="3" height="13" fill="#2d002d"/><rect x="480" width="2" height="13" fill="#320032"/><rect x="482" width="1" height="13" fill="#695014"/><rect x="483" width="2" height="13" fill="#370037"/><rect x="485" width="1" height="13" fill="#4b3714"/><rect x="486" width="1" height="13" fill="#320032"/><rect x="487" width="2" height="13" fill="#280028"/><rect x="489" width="2" height="13" fill="#230023"/><rect x="491" width="1" height="13" fill="#2d002d"/><rect x="492" width="1" height="13" fill="#787800"/><rect x="493" width="1" height="13" fill="#320032"/><rect x="494" width="1" height="13" fill="#503719"/><rect x="495" width="2" height="13" fill="#1e001e"/><rect x="497" width="1" height="13" fill="#3c231e"/><rect x="498" width="2" height="13" fill="#280028"/></g><g transform="translate(0 181)"><rect x="316" width="1" height="13" fill="#230023"/><rect x="317" width="1" height="13" fill="#1e001e"/><rect x="318" width="1" height="13" fill="#2d002d"/><rect x="319" width="2" height="13" fill="#8c8c00"/><rect x="321" width="1" height="13" fill="#2d002d"/><rect x="322" width="2" height="13" fill="#8c8c00"/><rect x="324" width="1" height="13" fill="#320032"/><rect x="325" width="1" height="13" fill="#280028"/><rect x="326" width="2" height="13" fill="#230023"/><rect x="328" width="2" height="13" fill="#280028"/><rect x="330" width="2" height="13" fill="#230023"/><rect x="332" width="2" height="13" fill="#280028"/><rect x="334" width="1" height="13" fill="#2d002d"/><rect x="335" width="2" height="13" fill="#695014"/><rect x="337" width="2" height="13" fill="#280028"/><rect x="339" width="1" height="13" fill="#463214"/><rect x="340" width="1" height="13" fill="#1e001e"/><rect x="341" width="1" height="13" fill="#78690f"/><rect x="342" width="1" height="13" fill="#5f4b14"/><rect x="343" width="1" height="13" fill="#5a4614"/><rect x="344" width="2" height="13" fill="#280028"/><rect x="346" width="1" height="13" fill="#230023"/><rect x="347" width="1" height="13" fill="#695f0a"/><rect x="348" width="3" height="13" fill="#280028"/><rect x="351" width="1" height="13" fill="#2d002d"/><rect x="352" width="1" height="13" fill="#320032"/><rect x="353" width="1" height="13" fill="#462d19"/><rect x="354" width="1" height="13" fill="#503c14"/><rect x="355" width="1" height="13" fill="#2d002d"/><rect x="356" width="1" height="13" fill="#230023"/><rect x="357" width="1" height="13" fill="#280028"/><rect x="358" width="2" height="13" fill="#1e001e"/><rect x="360" width="2" height="13" fill="#503c14"/><rect x="362" width="1" height="13" fill="#372314"/><rect x="363" width="1" height="13" fill="#230023"/><rect x="364" width="1" height="13" fill="#280028"/><rect x="365" width="1" height="13" fill="#5a4614"/><rect x="366" width="2" height="13" fill="#230023"/><rect x="368" width="2" height="13" fill="#190019"/><rect x="370" width="2" height="13" fill="#280028"/><rect x="372" width="2" height="13" fill="#230023"/><rect x="374" width="3" height="13" fill="#280028"/><rect x="377" width="1" height="13" fill="#2d002d"/><rect x="378" width="5" height="13" fill="#1e001e"/><rect x="383" width="1" height="13" fill="#2d002d"/><rect x="384" width="1" height="13" fill="#280028"/><rect x="385" width="1" height="13" fill="#230023"/><rect x="386" width="1" height="13" fill="#320032"/><rect x="387" width="2" height="13" fill="#1e001e"/><rect x="389" width="3" height="13" fill="#280028"/><rect x="392" width="1" height="13" fill="#230023"/><rect x="393" width="2" height="13" fill="#1e001e"/><rect x="395" width="1" height="13" fill="#280028"/><rect x="396" width="2" height="13" fill="#969600"/><rect x="398" width="2" height="13" fill="#280028"/><rect x="400" width="1" height="13" fill="#a5a500"/><rect x="401" width="1" height="13" fill="#280028"/><rect x="402" width="1" height="13" fill="#462d19"/><rect x="403" width="2" height="13" fill="#280028"/><rect x="405" width="2" height="13" fill="#8c7814"/><rect x="407" width="2" height="13" fill="#230023"/><rect x="409" width="2" height="13" fill="#280028"/><rect x="411" width="2" height="13" fill="#1e001e"/><rect x="413" width="5" height="13" fill="#280028"/><rect x="418" width="1" height="13" fill="#5f4b14"/><rect x="419" width="2" height="13" fill="#190019"/><rect x="421" width="1" height="13" fill="#503c14"/><rect x="422" width="2" height="13" fill="#64550f"/><rect x="424" width="2" height="13" fill="#2d002d"/><rect x="426" width="2" height="13" fill="#320032"/><rect x="428" width="1" height="13" fill="#2d002d"/><rect x="429" width="2" height="13" fill="#370037"/><rect x="431" width="1" height="13" fill="#280028"/><rect x="432" width="1" height="13" fill="#878700"/><rect x="433" width="2" height="13" fill="#2d002d"/><rect x="435" width="1" height="13" fill="#230023"/><rect x="436" width="1" height="13" fill="#320032"/><rect x="437" width="2" height="13" fill="#787800"/><rect x="439" width="1" height="13" fill="#3c003c"/><rect x="440" width="1" height="13" fill="#503714"/><rect x="441" width="2" height="13" fill="#320032"/><rect x="443" width="2" height="13" fill="#280028"/><rect x="445" width="1" height="13" fill="#370037"/><rect x="446" width="2" height="13" fill="#280028"/><rect x="448" width="1" height="13" fill="#370037"/><rect x="449" width="1" height="13" fill="#2d002d"/><rect x="450" width="2" height="13" fill="#50410f"/><rect x="452" width="1" height="13" fill="#320032"/><rect x="453" width="3" height="13" fill="#2d002d"/><rect x="456" width="2" height="13" fill="#230023"/><rect x="458" width="3" height="13" fill="#2d002d"/><rect x="461" width="2" height="13" fill="#78690f"/><rect x="463" width="1" height="13" fill="#69550f"/><rect x="464" width="2" height="13" fill="#230023"/><rect x="466" width="1" height="13" fill="#bebe00"/><rect x="467" width="2" height="13" fill="#320032"/><rect x="469" width="1" height="13" fill="#554114"/><rect x="470" width="2" height="13" fill="#afaf00"/><rect x="472" width="2" height="13" fill="#280028"/><rect x="474" width="2" height="13" fill="#554b0a"/><rect x="476" width="1" height="13" fill="#554114"/><rect x="477" width="1" height="13" fill="#55460f"/><rect x="478" width="1" height="13" fill="#280028"/><rect x="479" width="1" height="13" fill="#696900"/><rect x="480" width="1" height="13" fill="#503219"/><rect x="481" width="1" height="13" fill="#230023"/><rect x="482" width="1" height="13" fill="#644619"/><rect x="483" width="1" height="13" fill="#c3c300"/><rect x="484" width="1" height="13" fill="#371e19"/><rect x="485" width="2" height="13" fill="#4b3219"/><rect x="487" width="1" height="13" fill="#463219"/><rect x="488" width="1" height="13" fill="#1e001e"/><rect x="489" width="2" height="13" fill="#280028"/><rect x="491" width="1" height="13" fill="#1e001e"/><rect x="492" width="2" height="13" fill="#280028"/><rect x="494" width="2" height="13" fill="#230023"/><rect x="496" width="1" height="13" fill="#462d19"/><rect x="497" width="2" height="13" fill="#2d002d"/><rect x="499" width="1" height="13" fill="#230023"/></g><g transform="translate(0 194)"><rect x="316" width="7" height="13" fill="#050005"/><rect x="323" width="1" height="13" fill="#282800"/><rect x="324" width="2" height="13" fill="#050005"/><rect x="326" width="3" height="13" fill="#000000"/><rect x="329" width="14" height="13" fill="#050005"/><rect x="343" width="3" height="13" fill="#000000"/><rect x="346" width="1" height="13" fill="#050005"/><rect x="347" width="1" height="13" fill="#0a000a"/><rect x="348" width="3" height="13" fill="#050005"/><rect x="351" width="2" height="13" fill="#000000"/><rect x="353" width="3" height="13" fill="#050005"/><rect x="356" width="1" height="13" fill="#000000"/><rect x="357" width="1" height="13" fill="#050005"/><rect x="358" width="1" height="13" fill="#000000"/><rect x="359" width="3" height="13" fill="#050005"/><rect x="362" width="1" height="13" fill="#000000"/><rect x="363" width="3" height="13" fill="#050005"/><rect x="366" width="1" height="13" fill="#000000"/><rect x="367" width="2" height="13" fill="#050005"/><rect x="369" width="2" height="13" fill="#000000"/><rect x="371" width="9" height="13" fill="#050005"/><rect x="380" width="2" height="13" fill="#000000"/><rect x="382" width="1" height="13" fill="#0a000a"/><rect x="383" width="1" height="13" fill="#000000"/><rect x="384" width="11" height="13" fill="#050005"/><rect x="395" width="2" height="13" fill="#000000"/><rect x="397" width="4" height="13" fill="#050005"/><rect x="401" width="2" height="13" fill="#000000"/><rect x="403" width="1" height="13" fill="#050005"/><rect x="404" width="3" height="13" fill="#000000"/><rect x="407" width="2" height="13" fill="#050005"/><rect x="409" width="1" height="13" fill="#000000"/><rect x="410" width="1" height="13" fill="#3c3c00"/><rect x="411" width="4" height="13" fill="#050005"/><rect x="415" width="1" height="13" fill="#000000"/><rect x="416" width="1" height="13" fill="#322d05"/><rect x="417" width="3" height="13" fill="#050005"/><rect x="420" width="2" height="13" fill="#000000"/><rect x="422" width="1" height="13" fill="#050005"/><rect x="423" width="2" height="13" fill="#000000"/><rect x="425" width="8" height="13" fill="#050005"/><rect x="433" width="1" height="13" fill="#000000"/><rect x="434" width="6" height="13" fill="#050005"/><rect x="440" width="2" height="13" fill="#282300"/><rect x="442" width="1" height="13" fill="#000000"/><rect x="443" width="1" height="13" fill="#141400"/><rect x="444" width="2" height="13" fill="#050005"/><rect x="446" width="1" height="13" fill="#000000"/><rect x="447" width="3" height="13" fill="#050005"/><rect x="450" width="1" height="13" fill="#000000"/><rect x="451" width="1" height="13" fill="#050005"/><rect x="452" width="1" height="13" fill="#373700"/><rect x="453" width="8" height="13" fill="#050005"/><rect x="461" width="2" height="13" fill="#000000"/><rect x="463" width="2" height="13" fill="#050005"/><rect x="465" width="1" height="13" fill="#6e6905"/><rect x="466" width="4" height="13" fill="#050005"/><rect x="470" width="1" height="13" fill="#646400"/><rect x="471" width="2" height="13" fill="#050005"/><rect x="473" width="1" height="13" fill="#464605"/><rect x="474" width="1" height="13" fill="#0a000a"/><rect x="475" width="1" height="13" fill="#c8c800"/><rect x="476" width="1" height="13" fill="#000000"/><rect x="477" width="2" height="13" fill="#050005"/><rect x="479" width="1" height="13" fill="#2d2d00"/><rect x="480" width="3" height="13" fill="#050005"/><rect x="483" width="1" height="13" fill="#0a000a"/><rect x="484" width="2" height="13" fill="#000000"/><rect x="486" width="4" height="13" fill="#050005"/><rect x="490" width="1" height="13" fill="#000000"/><rect x="491" width="1" height="13" fill="#050005"/><rect x="492" width="1" height="13" fill="#000000"/><rect x="493" width="3" height="13" fill="#050005"/><rect x="496" width="1" height="13" fill="#000000"/><rect x="497" width="3" height="13" fill="#050005"/></g><g transform="translate(0 207)"><rect x="316" width="2" height="13" fill="#4b281e"/><rect x="318" width="3" height="13" fill="#370037"/><rect x="321" width="2" height="13" fill="#280028"/><rect x="323" width="1" height="13" fill="#320032"/><rect x="324" width="1" height="13" fill="#2d002d"/><rect x="325" width="1" height="13" fill="#644623"/><rect x="326" width="1" height="13" fill="#55371e"/><rect x="327" width="1" height="13" fill="#2d1419"/><rect x="328" width="1" height="13" fill="#4b2d1e"/><rect x="329" width="2" height="13" fill="#281e0f"/><rect x="331" width="1" height="13" fill="#5f4619"/><rect x="332" width="1" height="13" fill="#280028"/><rect x="333" width="1" height="13" fill="#5a371e"/><rect x="334" width="2" height="13" fill="#645014"/><rect x="336" width="2" height="13" fill="#2d002d"/><rect x="338" width="1" height="13" fill="#5a3723"/><rect x="339" width="1" height="13" fill="#553c19"/><rect x="340" width="2" height="13" fill="#280028"/><rect x="342" width="1" height="13" fill="#876e19"/><rect x="343" width="1" height="13" fill="#370037"/><rect x="344" width="1" height="13" fill="#2d002d"/><rect x="345" width="1" height="13" fill="#320032"/><rect x="346" width="1" height="13" fill="#503719"/><rect x="347" width="1" height="13" fill="#505000"/><rect x="348" width="2" height="13" fill="#2d002d"/><rect x="350" width="1" height="13" fill="#230023"/><rect x="351" width="2" height="13" fill="#2d002d"/><rect x="353" width="1" height="13" fill="#55371e"/><rect x="354" width="1" height="13" fill="#2d002d"/><rect x="355" width="2" height="13" fill="#46281e"/><rect x="357" width="1" height="13" fill="#3c2314"/><rect x="358" width="3" height="13" fill="#2d002d"/><rect x="361" width="1" height="13" fill="#553223"/><rect x="362" width="1" height="13" fill="#280028"/><rect x="363" width="1" height="13" fill="#320032"/><rect x="364" width="1" height="13" fill="#2d002d"/><rect x="365" width="2" height="13" fill="#1e001e"/><rect x="367" width="2" height="13" fill="#280028"/><rect x="369" width="2" height="13" fill="#230023"/><rect x="371" width="2" height="13" fill="#320032"/><rect x="373" width="2" height="13" fill="#2d002d"/><rect x="375" width="1" height="13" fill="#46281e"/><rect x="376" width="1" height="13" fill="#280028"/><rect x="377" width="2" height="13" fill="#5f5f00"/><rect x="379" width="1" height="13" fill="#280028"/><rect x="380" width="2" height="13" fill="#50410f"/><rect x="382" width="1" height="13" fill="#280028"/><rect x="383" width="2" height="13" fill="#2d002d"/><rect x="385" width="1" height="13" fill="#50321e"/><rect x="386" width="2" height="13" fill="#280028"/><rect x="388" width="1" height="13" fill="#5a4119"/><rect x="389" width="6" height="13" fill="#320032"/><rect x="395" width="2" height="13" fill="#6e6e00"/><rect x="397" width="1" height="13" fill="#2d002d"/><rect x="398" width="1" height="13" fill="#280028"/><rect x="399" width="1" height="13" fill="#6e5f0a"/><rect x="400" width="1" height="13" fill="#230023"/><rect x="401" width="2" height="13" fill="#412d0f"/><rect x="403" width="1" height="13" fill="#553223"/><rect x="404" width="1" height="13" fill="#6e6e00"/><rect x="405" width="1" height="13" fill="#230023"/><rect x="406" width="2" height="13" fill="#3c2319"/><rect x="408" width="2" height="13" fill="#2d002d"/><rect x="410" width="1" height="13" fill="#6e5f0f"/><rect x="411" width="1" height="13" fill="#785f19"/><rect x="412" width="2" height="13" fill="#553c19"/><rect x="414" width="1" height="13" fill="#695a14"/><rect x="415" width="1" height="13" fill="#280028"/><rect x="416" width="1" height="13" fill="#321919"/><rect x="417" width="2" height="13" fill="#2d002d"/><rect x="419" width="1" height="13" fill="#553c19"/><rect x="420" width="2" height="13" fill="#2d002d"/><rect x="422" width="2" height="13" fill="#3c003c"/><rect x="424" width="1" height="13" fill="#320032"/><rect x="425" width="2" height="13" fill="#3c003c"/><rect x="427" width="2" height="13" fill="#320032"/><rect x="429" width="1" height="13" fill="#2d002d"/><rect x="430" width="2" height="13" fill="#320032"/><rect x="432" width="3" height="13" fill="#370037"/><rect x="435" width="2" height="13" fill="#280028"/><rect x="437" width="1" height="13" fill="#370037"/><rect x="438" width="1" height="13" fill="#463219"/><rect x="439" width="1" height="13" fill="#320032"/><rect x="440" width="1" height="13" fill="#2d002d"/><rect x="441" width="1" height="13" fill="#5a3723"/><rect x="442" width="1" height="13" fill="#370037"/><rect x="443" width="2" height="13" fill="#320032"/><rect x="445" width="2" height="13" fill="#370037"/><rect x="447" width="2" height="13" fill="#320032"/><rect x="449" width="2" height="13" fill="#370037"/><rect x="451" width="2" height="13" fill="#3c003c"/><rect x="453" width="2" height="13" fill="#320032"/><rect x="455" width="2" height="13" fill="#370037"/><rect x="457" width="2" height="13" fill="#3c1e1e"/><rect x="459" width="1" height="13" fill="#370037"/><rect x="460" width="1" height="13" fill="#320032"/><rect x="461" width="2" height="13" fill="#b4b400"/><rect x="463" width="2" height="13" fill="#370037"/><rect x="465" width="1" height="13" fill="#737300"/><rect x="466" width="1" height="13" fill="#695a0f"/><rect x="467" width="2" height="13" fill="#320032"/><rect x="469" width="1" height="13" fill="#6e6e00"/><rect x="470" width="1" height="13" fill="#9b9b00"/><rect x="471" width="1" height="13" fill="#aaaa00"/><rect x="472" width="1" height="13" fill="#9b9b00"/><rect x="473" width="1" height="13" fill="#737300"/><rect x="474" width="1" height="13" fill="#b4b400"/><rect x="475" width="2" height="13" fill="#afaf00"/><rect x="477" width="2" height="13" fill="#737300"/><rect x="479" width="2" height="13" fill="#aaaa00"/><rect x="481" width="2" height="13" fill="#5f4b14"/><rect x="483" width="2" height="13" fill="#7d7d00"/><rect x="485" width="1" height="13" fill="#9b9b00"/><rect x="486" width="1" height="13" fill="#50410f"/><rect x="487" width="1" height="13" fill="#78690f"/><rect x="488" width="1" height="13" fill="#5a5a00"/><rect x="489" width="1" height="13" fill="#5f500f"/><rect x="490" width="1" height="13" fill="#9b9b00"/><rect x="491" width="1" height="13" fill="#695f0a"/><rect x="492" width="1" height="13" fill="#878700"/><rect x="493" width="1" height="13" fill="#1e001e"/><rect x="494" width="2" height="13" fill="#878700"/><rect x="496" width="1" height="13" fill="#7d7d00"/><rect x="497" width="2" height="13" fill="#969600"/><rect x="499" width="1" height="13" fill="#462d14"/></g><g transform="translate(0 220)"><rect x="316" width="1" height="13" fill="#964155"/><rect x="317" width="1" height="13" fill="#737300"/><rect x="318" width="1" height="13" fill="#919100"/><rect x="319" width="2" height="13" fill="#878700"/><rect x="321" width="2" height="13" fill="#7d413c"/><rect x="323" width="2" height="13" fill="#910091"/><rect x="325" width="2" height="13" fill="#460046"/><rect x="327" width="2" height="13" fill="#690069"/><rect x="329" width="1" height="13" fill="#644b19"/><rect x="330" width="1" height="13" fill="#a0a000"/><rect x="331" width="2" height="13" fill="#784132"/><rect x="333" width="1" height="13" fill="#823c46"/><rect x="334" width="1" height="13" fill="#730073"/><rect x="335" width="1" height="13" fill="#964155"/><rect x="336" width="1" height="13" fill="#735023"/><rect x="337" width="1" height="13" fill="#555005"/><rect x="338" width="2" height="13" fill="#a0465a"/><rect x="340" width="1" height="13" fill="#873250"/><rect x="341" width="1" height="13" fill="#7d007d"/><rect x="342" width="2" height="13" fill="#6e006e"/><rect x="344" width="1" height="13" fill="#b900b9"/><rect x="345" width="1" height="13" fill="#871e69"/><rect x="346" width="1" height="13" fill="#7d007d"/><rect x="347" width="1" height="13" fill="#6e234b"/><rect x="348" width="1" height="13" fill="#695514"/><rect x="349" width="1" height="13" fill="#3c3c00"/><rect x="350" width="2" height="13" fill="#64283c"/><rect x="352" width="2" height="13" fill="#969600"/><rect x="354" width="2" height="13" fill="#870087"/><rect x="356" width="1" height="13" fill="#4b1437"/><rect x="357" width="1" height="13" fill="#b4b400"/><rect x="358" width="1" height="13" fill="#aa00aa"/><rect x="359" width="1" height="13" fill="#aaaa00"/><rect x="360" width="1" height="13" fill="#7d4637"/><rect x="361" width="1" height="13" fill="#787800"/><rect x="362" width="1" height="13" fill="#8c008c"/><rect x="363" width="1" height="13" fill="#5f3c28"/><rect x="364" width="2" height="13" fill="#6e006e"/><rect x="366" width="1" height="13" fill="#a000a0"/><rect x="367" width="2" height="13" fill="#820082"/><rect x="369" width="1" height="13" fill="#910091"/><rect x="370" width="2" height="13" fill="#919100"/><rect x="372" width="1" height="13" fill="#d200d2"/><rect x="373" width="1" height="13" fill="#5a0f4b"/><rect x="374" width="1" height="13" fill="#5f5f00"/><rect x="375" width="2" height="13" fill="#919100"/><rect x="377" width="1" height="13" fill="#6e006e"/><rect x="378" width="1" height="13" fill="#965f37"/><rect x="379" width="1" height="13" fill="#960096"/><rect x="380" width="1" height="13" fill="#910091"/><rect x="381" width="1" height="13" fill="#5a411e"/><rect x="382" width="1" height="13" fill="#820082"/><rect x="383" width="2" height="13" fill="#7d641e"/><rect x="385" width="1" height="13" fill="#960096"/><rect x="386" width="1" height="13" fill="#878700"/><rect x="387" width="2" height="13" fill="#824b32"/><rect x="389" width="2" height="13" fill="#a0237d"/><rect x="391" width="1" height="13" fill="#6e6e00"/><rect x="392" width="2" height="13" fill="#6e2846"/><rect x="394" width="1" height="13" fill="#825032"/><rect x="395" width="2" height="13" fill="#73551e"/><rect x="397" width="1" height="13" fill="#787800"/><rect x="398" width="2" height="13" fill="#730073"/><rect x="400" width="1" height="13" fill="#7d7d00"/><rect x="401" width="2" height="13" fill="#960096"/><rect x="403" width="1" height="13" fill="#500050"/><rect x="404" width="2" height="13" fill="#9b009b"/><rect x="406" width="1" height="13" fill="#82285a"/><rect x="407" width="1" height="13" fill="#828200"/><rect x="408" width="2" height="13" fill="#5a4614"/><rect x="410" width="1" height="13" fill="#640064"/><rect x="411" width="2" height="13" fill="#732d46"/><rect x="413" width="2" height="13" fill="#6e006e"/><rect x="415" width="2" height="13" fill="#aa3773"/><rect x="417" width="1" height="13" fill="#960096"/><rect x="418" width="2" height="13" fill="#737300"/><rect x="420" width="2" height="13" fill="#505000"/><rect x="422" width="1" height="13" fill="#191405"/><rect x="423" width="1" height="13" fill="#32280a"/><rect x="424" width="1" height="13" fill="#554114"/><rect x="425" width="1" height="13" fill="#280028"/><rect x="426" width="1" height="13" fill="#3c2814"/><rect x="427" width="1" height="13" fill="#645a0a"/><rect x="428" width="1" height="13" fill="#41370a"/><rect x="429" width="2" height="13" fill="#5a3c1e"/><rect x="431" width="1" height="13" fill="#190019"/><rect x="432" width="2" height="13" fill="#372d0a"/><rect x="434" width="1" height="13" fill="#504b05"/><rect x="435" width="1" height="13" fill="#321e14"/><rect x="436" width="2" height="13" fill="#32280a"/><rect x="438" width="2" height="13" fill="#32230f"/><rect x="440" width="1" height="13" fill="#1e001e"/><rect x="441" width="2" height="13" fill="#321914"/><rect x="443" width="1" height="13" fill="#232300"/><rect x="444" width="1" height="13" fill="#5f4b14"/><rect x="445" width="2" height="13" fill="#c8c800"/><rect x="447" width="1" height="13" fill="#7d7d00"/><rect x="448" width="2" height="13" fill="#646400"/><rect x="450" width="2" height="13" fill="#3c2d0f"/><rect x="452" width="1" height="13" fill="#4b4b00"/><rect x="453" width="1" height="13" fill="#afaf00"/><rect x="454" width="1" height="13" fill="#5f5f00"/><rect x="455" width="1" height="13" fill="#7d7d00"/><rect x="456" width="1" height="13" fill="#464600"/><rect x="457" width="1" height="13" fill="#371e19"/><rect x="458" width="1" height="13" fill="#50460a"/><rect x="459" width="1" height="13" fill="#696400"/><rect x="460" width="1" height="13" fill="#373705"/><rect x="461" width="1" height="13" fill="#555500"/><rect x="462" width="2" height="13" fill="#696900"/><rect x="464" width="1" height="13" fill="#555500"/><rect x="465" width="1" height="13" fill="#4b4b00"/><rect x="466" width="2" height="13" fill="#5a5a00"/><rect x="468" width="2" height="13" fill="#555500"/><rect x="470" width="1" height="13" fill="#414100"/><rect x="471" width="1" height="13" fill="#6e6e00"/><rect x="472" width="2" height="13" fill="#7d7d00"/><rect x="474" width="1" height="13" fill="#505000"/><rect x="475" width="2" height="13" fill="#646400"/><rect x="477" width="1" height="13" fill="#820082"/><rect x="478" width="3" height="13" fill="#9b009b"/><rect x="481" width="1" height="13" fill="#7d007d"/><rect x="482" width="2" height="13" fill="#874b37"/><rect x="484" width="1" height="13" fill="#a000a0"/><rect x="485" width="1" height="13" fill="#960096"/><rect x="486" width="2" height="13" fill="#870087"/><rect x="488" width="1" height="13" fill="#a000a0"/><rect x="489" width="2" height="13" fill="#910091"/><rect x="491" width="1" height="13" fill="#9b009b"/><rect x="492" width="1" height="13" fill="#463219"/><rect x="493" width="2" height="13" fill="#32230f"/><rect x="495" width="1" height="13" fill="#878700"/><rect x="496" width="1" height="13" fill="#696900"/><rect x="497" width="1" height="13" fill="#5f5f00"/><rect x="498" width="2" height="13" fill="#553c19"/></g><g transform="translate(0 233)"><rect x="316" width="1" height="13" fill="#230023"/><rect x="317" width="1" height="13" fill="#1e001e"/><rect x="318" width="4" height="13" fill="#230023"/><rect x="322" width="2" height="13" fill="#1e001e"/><rect x="324" width="2" height="13" fill="#230023"/><rect x="326" width="2" height="13" fill="#280028"/><rect x="328" width="2" height="13" fill="#230023"/><rect x="330" width="3" height="13" fill="#1e001e"/><rect x="333" width="2" height="13" fill="#230023"/><rect x="335" width="2" height="13" fill="#1e001e"/><rect x="337" width="1" height="13" fill="#230023"/><rect x="338" width="1" height="13" fill="#5a500a"/><rect x="339" width="2" height="13" fill="#230023"/><rect x="341" width="2" height="13" fill="#1e001e"/><rect x="343" width="7" height="13" fill="#230023"/><rect x="350" width="1" height="13" fill="#1e001e"/><rect x="351" width="5" height="13" fill="#230023"/><rect x="356" width="1" height="13" fill="#1e001e"/><rect x="357" width="1" height="13" fill="#280028"/><rect x="358" width="2" height="13" fill="#1e001e"/><rect x="360" width="2" height="13" fill="#463214"/><rect x="362" width="1" height="13" fill="#1e001e"/><rect x="363" width="1" height="13" fill="#230023"/><rect x="364" width="1" height="13" fill="#190019"/><rect x="365" width="2" height="13" fill="#1e001e"/><rect x="367" width="1" height="13" fill="#280028"/><rect x="368" width="1" height="13" fill="#1e001e"/><rect x="369" width="1" height="13" fill="#190019"/><rect x="370" width="2" height="13" fill="#230023"/><rect x="372" width="1" height="13" fill="#1e001e"/><rect x="373" width="1" height="13" fill="#230023"/><rect x="374" width="3" height="13" fill="#1e001e"/><rect x="377" width="1" height="13" fill="#230023"/><rect x="378" width="1" height="13" fill="#2d002d"/><rect x="379" width="1" height="13" fill="#230023"/><rect x="380" width="2" height="13" fill="#190019"/><rect x="382" width="1" height="13" fill="#1e001e"/><rect x="383" width="1" height="13" fill="#230023"/><rect x="384" width="2" height="13" fill="#1e001e"/><rect x="386" width="1" height="13" fill="#190019"/><rect x="387" width="4" height="13" fill="#230023"/><rect x="391" width="1" height="13" fill="#280028"/><rect x="392" width="8" height="13" fill="#230023"/><rect x="400" width="2" height="13" fill="#1e001e"/><rect x="402" width="1" height="13" fill="#230023"/><rect x="403" width="2" height="13" fill="#1e001e"/><rect x="405" width="1" height="13" fill="#230023"/><rect x="406" width="1" height="13" fill="#503c14"/><rect x="407" width="1" height="13" fill="#230023"/><rect x="408" width="1" height="13" fill="#280028"/><rect x="409" width="1" height="13" fill="#1e001e"/><rect x="410" width="2" height="13" fill="#230023"/><rect x="412" width="1" height="13" fill="#1e001e"/><rect x="413" width="4" height="13" fill="#230023"/><rect x="417" width="1" height="13" fill="#190019"/><rect x="418" width="3" height="13" fill="#1e001e"/><rect x="421" width="1" height="13" fill="#37230f"/><rect x="422" width="1" height="13" fill="#230023"/><rect x="423" width="1" height="13" fill="#1e001e"/><rect x="424" width="1" height="13" fill="#230023"/><rect x="425" width="1" height="13" fill="#1e001e"/><rect x="426" width="2" height="13" fill="#230023"/><rect x="428" width="1" height="13" fill="#1e001e"/><rect x="429" width="1" height="13" fill="#280028"/><rect x="430" width="6" height="13" fill="#1e001e"/><rect x="436" width="2" height="13" fill="#230023"/><rect x="438" width="2" height="13" fill="#190019"/><rect x="440" width="1" height="13" fill="#230023"/><rect x="441" width="2" height="13" fill="#1e001e"/><rect x="443" width="1" height="13" fill="#140014"/><rect x="444" width="2" height="13" fill="#230023"/><rect x="446" width="1" height="13" fill="#1e001e"/><rect x="447" width="1" height="13" fill="#230023"/><rect x="448" width="1" height="13" fill="#5a4b0f"/><rect x="449" width="2" height="13" fill="#190019"/><rect x="451" width="2" height="13" fill="#1e001e"/><rect x="453" width="2" height="13" fill="#230023"/><rect x="455" width="1" height="13" fill="#412d14"/><rect x="456" width="1" height="13" fill="#1e001e"/><rect x="457" width="1" height="13" fill="#230023"/><rect x="458" width="2" height="13" fill="#1e001e"/><rect x="460" width="1" height="13" fill="#230023"/><rect x="461" width="1" height="13" fill="#1e001e"/><rect x="462" width="2" height="13" fill="#9b9b00"/><rect x="464" width="1" height="13" fill="#1e001e"/><rect x="465" width="2" height="13" fill="#4b3c0a"/><rect x="467" width="2" height="13" fill="#4b3714"/><rect x="469" width="1" height="13" fill="#7d730a"/><rect x="470" width="2" height="13" fill="#695514"/><rect x="472" width="1" height="13" fill="#9b9b00"/><rect x="473" width="2" height="13" fill="#190019"/><rect x="475" width="1" height="13" fill="#230023"/><rect x="476" width="1" height="13" fill="#554114"/><rect x="477" width="3" height="13" fill="#230023"/><rect x="480" width="2" height="13" fill="#1e001e"/><rect x="482" width="1" height="13" fill="#280028"/><rect x="483" width="2" height="13" fill="#190019"/><rect x="485" width="1" height="13" fill="#553c19"/><rect x="486" width="1" height="13" fill="#1e001e"/><rect x="487" width="2" height="13" fill="#230023"/><rect x="489" width="1" height="13" fill="#1e001e"/><rect x="490" width="1" height="13" fill="#230023"/><rect x="491" width="1" height="13" fill="#787800"/><rect x="492" width="1" height="13" fill="#230023"/><rect x="493" width="1" height="13" fill="#190019"/><rect x="494" width="2" height="13" fill="#1e001e"/><rect x="496" width="1" height="13" fill="#a0a000"/><rect x="497" width="2" height="13" fill="#555005"/><rect x="499" width="1" height="13" fill="#280028"/></g></g></g>
<line x1="422" y1="37" x2="422" y2="246" stroke="#fff" stroke-opacity="0.35" stroke-width="0.8"/>
<line x1="461" y1="37" x2="461" y2="246" stroke="#fff" stroke-opacity="0.35" stroke-width="0.8"/>
<line x1="477" y1="37" x2="477" y2="246" stroke="#fff" stroke-opacity="0.35" stroke-width="0.8"/>
<line x1="492" y1="37" x2="492" y2="246" stroke="#fff" stroke-opacity="0.35" stroke-width="0.8"/>
<text x="372.8" y="25.2" font-size="10.4" fill="#F8766D" stroke="#F8766D" stroke-width="0.1" text-anchor="middle" >0</text>
<text x="441.2" y="25.2" font-size="10.4" fill="#B79F00" stroke="#B79F00" stroke-width="0.1" text-anchor="middle" >1</text>
<text x="471.0" y="25.2" font-size="10.4" fill="#00BA38" stroke="#00BA38" stroke-width="0.1" text-anchor="middle" >2</text>
<text x="485.5" y="25.2" font-size="10.4" fill="#00BFC4" stroke="#00BFC4" stroke-width="0.1" text-anchor="middle" >3</text>
<text x="494.6" y="25.2" font-size="10.4" fill="#619CFF" stroke="#619CFF" stroke-width="0.1" text-anchor="middle" >4</text>
<text x="501.3" y="25.2" font-size="10.4" fill="#F564E3" stroke="#F564E3" stroke-width="0.1" text-anchor="middle" >5</text>
<line x1="461.0" y1="13.5" x2="503.7" y2="13.5" stroke="#4472C4" stroke-width="1.1"/>
<text x="421.9" y="8.3" font-size="10.4" fill="#000" stroke="#000" stroke-width="0.1" text-anchor="start" >Oligodendrocyte lineage cells</text>
<line x1="502.5" y1="182.0" x2="502.5" y2="243.7" stroke="#4472C4" stroke-width="1.1"/>
<text x="507.2" y="210.2" font-size="10.4" fill="#000" stroke="#000" stroke-width="0.1" text-anchor="start" >Oligodendrocyte</text>
<text x="507.2" y="222.2" font-size="10.4" fill="#000" stroke="#000" stroke-width="0.1" text-anchor="start" >lineage cell markers</text>
<defs><linearGradient id="gexp" x1="0" y1="0" x2="0" y2="1"><stop offset="0" stop-color="#ffff00"/><stop offset="0.5" stop-color="#000"/><stop offset="1" stop-color="#ff00ff"/></linearGradient></defs>
<text x="509.4" y="36.0" font-size="10.4" fill="#000" stroke="#000" stroke-width="0.1" text-anchor="start" >Expression</text>
<rect x="512.20" y="43.00" width="7.20" height="34.00" fill="url(#gexp)" />
<text x="521.4" y="50.1" font-size="10.4" fill="#000" stroke="#000" stroke-width="0.1" text-anchor="start" >2</text>
<text x="521.4" y="63.2" font-size="10.4" fill="#000" stroke="#000" stroke-width="0.1" text-anchor="start" >0</text>
<text x="521.4" y="77.3" font-size="10.4" fill="#000" stroke="#000" stroke-width="0.1" text-anchor="start" >-2</text>
<path d="M120.4 326.0h0M111.9 331.7h0M121.8 315.5h0M114.3 336.3h0M115.1 313.1h0M122.8 325.3h0M125.6 331.1h0M115.5 330.3h0M108.0 327.0h0M117.3 330.9h0M117.2 338.4h0M119.1 321.2h0M120.3 322.0h0M116.9 329.5h0M120.4 314.3h0M120.0 334.3h0M123.0 325.8h0M115.1 322.2h0M118.3 313.5h0M118.4 310.0h0M106.3 329.8h0M122.7 326.0h0M110.2 332.9h0M118.4 316.3h0M114.8 348.6h0M117.0 309.2h0M114.9 335.4h0M115.5 317.5h0M116.2 348.3h0M118.8 339.8h0M120.8 332.3h0M116.1 325.4h0M118.2 314.2h0M111.2 320.9h0M115.4 338.2h0M104.0 316.0h0M117.8 338.4h0M112.5 309.8h0M116.4 309.1h0M113.2 338.4h0M116.8 326.4h0M119.7 338.3h0M110.9 304.4h0M116.5 341.4h0M107.3 309.9h0M122.8 337.2h0M112.6 304.9h0M111.0 331.0h0M112.5 344.5h0M105.2 321.7h0M104.5 323.8h0M112.5 319.6h0M124.7 320.5h0M108.8 316.3h0M105.4 317.5h0M103.6 314.9h0M114.3 334.7h0M112.2 331.3h0M114.0 339.3h0M116.5 336.3h0M119.9 318.5h0M117.1 325.4h0M117.1 343.3h0M115.6 348.5h0M117.1 323.6h0M104.8 329.4h0M112.8 327.6h0M116.9 309.0h0M118.5 339.3h0M118.7 340.3h0" stroke="#00BFC4" stroke-width="1.50" stroke-linecap="round" stroke-opacity="0.9"/>
<path d="M95.6 364.6h0M113.7 375.1h0M96.6 359.6h0M104.2 370.9h0M105.1 369.7h0M104.9 354.7h0M94.5 366.1h0M109.7 372.1h0M91.9 366.3h0M108.0 362.9h0M97.3 355.0h0M111.7 376.5h0M105.8 367.8h0M99.3 364.6h0M107.2 378.5h0M114.4 369.6h0M104.2 359.5h0M106.9 364.3h0M106.4 368.1h0M103.4 373.0h0M93.8 362.8h0M108.4 362.2h0M108.9 360.3h0M100.0 361.2h0M105.7 357.6h0M105.1 373.8h0M105.9 356.1h0M103.1 370.8h0M112.5 380.5h0M93.4 361.8h0M110.3 360.9h0M108.0 364.0h0M102.8 357.5h0M112.0 378.8h0M106.3 375.2h0M103.1 369.4h0M108.4 376.9h0M99.3 365.7h0M106.2 355.3h0M100.8 366.3h0" stroke="#7CAE00" stroke-width="1.50" stroke-linecap="round" stroke-opacity="0.9"/>
<path d="M108.7 401.7h0M112.5 397.4h0M108.8 399.1h0M112.4 396.6h0M110.3 402.2h0M111.9 404.9h0M114.2 402.9h0M107.1 400.7h0M107.1 394.1h0M109.8 403.8h0M109.4 399.2h0M112.8 404.4h0M106.7 402.2h0M106.9 395.7h0" stroke="#7CAE00" stroke-width="1.50" stroke-linecap="round" stroke-opacity="0.9"/>
<path d="M78.4 384.4h0M75.8 372.5h0M80.0 370.8h0M75.9 389.8h0M75.6 386.1h0M72.7 377.9h0M75.8 379.9h0M88.9 362.7h0M87.9 363.5h0M82.7 370.8h0M73.2 369.5h0M77.4 384.6h0M79.3 365.9h0M72.8 388.1h0M90.8 363.5h0M88.5 377.2h0M83.4 365.1h0M90.9 375.0h0M70.1 380.6h0M80.2 370.4h0M94.0 370.1h0M89.1 364.8h0M70.8 382.0h0M88.6 371.3h0M90.3 368.9h0M83.9 380.9h0M81.2 374.4h0M85.2 364.8h0M91.6 365.9h0M92.5 370.1h0M70.8 375.7h0M90.4 365.6h0M74.1 389.6h0M72.9 393.2h0M91.7 374.0h0M77.8 379.9h0M82.1 377.2h0M79.6 386.1h0M77.9 375.0h0M94.6 369.6h0M94.4 364.5h0M70.1 376.6h0M72.7 395.9h0M80.5 381.5h0M80.1 383.4h0M73.8 378.9h0M84.7 370.5h0M79.7 373.3h0M76.3 384.4h0M69.5 382.1h0" stroke="#C77CFF" stroke-width="1.50" stroke-linecap="round" stroke-opacity="0.9"/>
<path d="M46.2 388.5h0M57.3 380.3h0M57.9 415.8h0M51.3 381.0h0M55.5 387.9h0M46.0 402.7h0M57.4 413.0h0M61.3 390.9h0M57.1 416.3h0M66.1 402.9h0M60.3 410.0h0M69.3 399.6h0M60.4 394.2h0M68.5 411.5h0M46.4 396.6h0M46.9 398.3h0M69.4 397.3h0M44.8 391.9h0M47.8 385.0h0M54.5 411.2h0M51.6 396.8h0M68.8 410.5h0M53.6 412.7h0M58.7 397.6h0M49.0 382.4h0M57.7 401.7h0M49.4 407.1h0M57.0 408.0h0M50.1 403.7h0M54.3 397.1h0M61.1 377.5h0M50.6 390.1h0M57.8 415.4h0M62.4 387.5h0M45.7 394.8h0M68.2 396.8h0M66.7 401.6h0M47.3 403.8h0M54.4 384.7h0M60.0 401.1h0M58.6 387.0h0M60.5 411.4h0M57.2 407.2h0M45.7 392.9h0M68.3 404.3h0M49.4 408.4h0M55.5 416.0h0M65.8 394.9h0M57.9 400.9h0M59.8 391.0h0M65.0 417.7h0M64.4 396.2h0M65.2 400.4h0M69.8 386.3h0M59.8 394.5h0M59.3 393.4h0M65.3 385.5h0M59.2 407.5h0M48.4 404.4h0M48.2 399.9h0M54.7 392.0h0M68.4 392.7h0M48.8 393.2h0M56.6 419.5h0M50.3 399.7h0M49.6 406.5h0M66.0 378.8h0M45.2 390.1h0M62.5 410.6h0M49.9 399.3h0M59.2 407.3h0M59.5 416.2h0M60.7 403.9h0M63.0 402.7h0M52.1 410.2h0M60.4 375.7h0M53.9 395.1h0M66.3 391.8h0M60.1 376.2h0M47.1 390.0h0M56.1 377.2h0M59.6 377.3h0M58.4 379.7h0M54.3 413.0h0M67.9 413.5h0M57.4 403.8h0M48.3 382.5h0M65.6 399.8h0M45.2 395.8h0M60.0 409.3h0M50.9 386.4h0M59.5 383.5h0M44.8 389.4h0M65.0 387.9h0M54.8 396.0h0M66.2 382.5h0M65.6 387.5h0M54.6 396.7h0M64.8 378.1h0M59.0 381.0h0M63.2 413.2h0M53.6 401.5h0M51.3 389.7h0M67.1 404.4h0M58.8 382.9h0M66.1 393.7h0M51.8 379.4h0M65.8 383.5h0M56.9 414.9h0M47.2 399.3h0M62.1 394.5h0M51.2 381.3h0M46.1 394.5h0M68.6 382.9h0M57.4 418.3h0M49.5 403.7h0M47.8 403.2h0M60.2 405.8h0M51.5 390.3h0M64.1 408.6h0M56.7 393.8h0M53.3 387.6h0M62.6 414.6h0M69.1 402.1h0M55.4 412.1h0M49.1 387.0h0M62.1 394.7h0M54.2 397.2h0M61.3 376.5h0M54.6 381.6h0M68.6 385.6h0M50.2 401.7h0M45.2 399.3h0M54.5 383.9h0M45.8 394.2h0M67.8 405.5h0M50.3 379.3h0M57.8 380.5h0M59.0 388.6h0M56.3 399.0h0M55.4 379.9h0M51.4 390.3h0M58.2 412.7h0M48.5 403.5h0M68.7 399.8h0M68.8 407.7h0M58.6 410.9h0M57.4 412.6h0M51.6 401.8h0M68.4 393.6h0M62.5 398.6h0M65.7 393.9h0M64.0 388.4h0M57.3 406.6h0M48.6 399.1h0M47.6 383.5h0M57.2 418.0h0M70.7 392.4h0M59.2 417.1h0M58.1 404.4h0M67.0 398.2h0M63.0 392.8h0M66.6 396.3h0M55.5 377.7h0M48.1 397.2h0M55.4 383.7h0M61.2 380.7h0M51.0 392.5h0M59.6 383.9h0M46.7 383.6h0M49.6 401.9h0M57.9 399.1h0M61.3 392.9h0M52.7 385.5h0M53.0 384.3h0M63.4 375.8h0M52.3 405.9h0M59.3 401.4h0M61.6 406.1h0M49.4 390.5h0M70.9 386.8h0M55.1 377.6h0M57.7 389.0h0M45.3 395.2h0M47.1 400.4h0M60.0 398.8h0M57.2 416.2h0M69.4 397.8h0M56.0 382.9h0M59.9 386.4h0" stroke="#F8766D" stroke-width="1.50" stroke-linecap="round" stroke-opacity="0.9"/>
<path d="M58.8 411.7h0M55.3 412.9h0M54.6 404.9h0M58.3 414.2h0M55.9 410.0h0M54.2 404.4h0M58.4 402.5h0M53.4 408.7h0M65.2 404.6h0M56.9 416.6h0M56.1 413.2h0M53.7 405.8h0M60.5 406.0h0M56.1 405.9h0M59.5 407.2h0M58.1 411.1h0M54.3 408.9h0M59.2 407.7h0M53.4 406.9h0M54.2 403.3h0M62.6 407.9h0M52.9 409.8h0M55.2 412.6h0M59.6 403.0h0M54.2 408.9h0M55.1 409.2h0M60.3 408.4h0M61.6 408.0h0M54.5 413.1h0M60.1 407.7h0M63.2 408.6h0M64.5 409.4h0M56.0 413.3h0M57.2 411.9h0M57.6 406.5h0M64.5 411.5h0M57.8 414.5h0M59.1 414.1h0M56.2 403.2h0M58.9 411.9h0M64.9 411.8h0M55.8 407.5h0M61.0 415.4h0M59.9 410.3h0M58.3 405.0h0M60.7 412.3h0M59.8 409.0h0M63.8 413.0h0M65.7 412.5h0M58.6 408.8h0M60.0 417.4h0M54.7 406.3h0M56.4 413.4h0M63.4 402.1h0M58.1 414.0h0M59.8 410.2h0M54.9 413.3h0M54.9 411.7h0M54.4 404.5h0M53.8 402.6h0" stroke="#F8766D" stroke-width="1.50" stroke-linecap="round" stroke-opacity="0.9"/>
<path d="M58.4 420.7h0M56.5 420.8h0M58.8 422.5h0M57.4 420.7h0M57.2 423.2h0M56.6 419.6h0" stroke="#F8766D" stroke-width="1.50" stroke-linecap="round" stroke-opacity="0.9"/>
<path d="M42.4 386.7V427.8H83.6" fill="none" stroke="#000" stroke-width="1.3"/>
<path d="M40.199999999999996 387.7L42.4 383.7L44.6 387.7Z" fill="#000"/>
<path d="M82.6 425.6L86.6 427.8L82.6 430.0Z" fill="#000"/>
<text x="47.2" y="441.8" font-size="10.4" fill="#000" stroke="#000" stroke-width="0.1" text-anchor="start" >UMAP1</text>
<text x="40.0" y="427.0" font-size="10.4" fill="#000" stroke="#000" stroke-width="0.1" text-anchor="start" transform="rotate(-90 40 427)">UMAP2</text>
<text x="79.6" y="295.4" font-size="10.4" fill="#000" stroke="#000" stroke-width="0.1" text-anchor="start" >LZCM</text>
<path d="M223.8 329.4h0M223.8 332.6h0M219.1 322.3h0M228.4 334.0h0M212.0 321.5h0M228.0 335.8h0M220.9 331.0h0M215.8 335.9h0M211.3 315.8h0M216.0 332.3h0M211.2 331.5h0M220.8 313.3h0M215.8 314.8h0M222.4 313.9h0M222.3 331.7h0M230.6 322.7h0M211.1 325.2h0M224.3 330.7h0M215.4 309.5h0M225.6 314.6h0M228.4 320.0h0M221.6 323.2h0M220.2 347.4h0M223.8 321.7h0M214.6 341.8h0M232.9 326.9h0M209.6 327.3h0M215.4 341.6h0M216.8 343.9h0M226.2 325.1h0M213.2 321.2h0M227.6 319.7h0M230.0 319.3h0M211.2 330.9h0M214.7 343.8h0M217.6 343.2h0M227.7 326.3h0M230.0 324.8h0M222.4 340.4h0M223.7 336.6h0M214.9 320.1h0M223.2 345.6h0M228.1 329.0h0M216.8 328.4h0M222.7 314.1h0M215.0 340.7h0M230.1 320.3h0M222.9 322.9h0M218.6 314.7h0M210.7 318.2h0M219.3 340.6h0M220.7 310.6h0M210.5 324.6h0M222.8 343.3h0M216.7 315.6h0M218.8 339.4h0M231.5 334.8h0M223.4 344.6h0M216.2 313.1h0M215.1 312.7h0M217.3 328.1h0M218.6 312.2h0M213.1 330.5h0M214.6 342.3h0M213.7 329.1h0M225.5 324.9h0M216.0 317.3h0M217.9 324.9h0M231.2 323.7h0M217.3 316.6h0M222.0 320.1h0M220.7 336.7h0M219.6 330.8h0M224.6 345.7h0M220.0 316.1h0M226.1 327.1h0M228.4 330.0h0M227.3 318.4h0M227.0 323.7h0M220.5 326.5h0M214.1 331.2h0M229.3 323.9h0M227.0 328.4h0M211.4 335.4h0M220.6 324.3h0M212.0 326.0h0M224.1 329.8h0M228.8 336.0h0M219.2 341.1h0M211.2 320.2h0M218.1 345.0h0M221.0 320.9h0M215.3 327.1h0M214.5 311.8h0M224.9 335.8h0M219.9 334.3h0M217.2 346.3h0M229.9 324.7h0M230.0 319.4h0M214.4 308.5h0M221.3 319.0h0M217.4 314.6h0M228.1 336.7h0M218.4 332.3h0M221.5 332.7h0M212.9 328.1h0M226.6 318.2h0M227.1 318.6h0M217.5 316.8h0M217.9 327.4h0M222.5 326.9h0M230.2 333.5h0M214.9 309.4h0M231.3 320.2h0M230.1 323.1h0M228.7 334.9h0M220.8 310.8h0M227.5 339.7h0M225.4 325.3h0M211.0 324.5h0M229.5 336.0h0M216.9 330.6h0M215.3 341.3h0M217.2 325.8h0M215.0 318.4h0M218.0 344.7h0M214.9 339.4h0M230.6 338.3h0M220.2 310.8h0M226.1 327.2h0M224.6 334.5h0M217.8 338.8h0M213.6 334.7h0M213.8 342.9h0M218.9 314.9h0M210.5 325.7h0M218.3 333.2h0M214.0 327.4h0M212.7 328.3h0M212.9 328.1h0M218.7 336.0h0M222.7 317.3h0M221.3 344.6h0M225.0 323.6h0M211.4 335.5h0M215.6 328.4h0M211.3 340.3h0M229.1 325.0h0M232.8 329.7h0M220.8 339.1h0M213.9 315.7h0M220.8 315.3h0M221.6 345.5h0M221.7 329.3h0M222.9 311.4h0M219.5 335.7h0M211.1 336.8h0M218.2 313.4h0M231.3 330.5h0M221.9 321.7h0M220.5 344.3h0M215.8 316.9h0M228.5 339.6h0M212.2 336.0h0M213.9 314.2h0M225.4 317.8h0M210.2 333.0h0M220.4 308.4h0M218.5 336.8h0M216.1 312.6h0M213.4 319.6h0M213.6 319.1h0M217.9 330.7h0M225.5 337.7h0M215.8 339.4h0M220.9 332.4h0M213.4 311.9h0M224.2 331.9h0M209.9 327.1h0M229.8 335.1h0M213.6 326.8h0M223.0 309.8h0M216.5 323.0h0M224.7 342.4h0M223.1 317.0h0M217.8 313.7h0M224.3 320.8h0M216.0 317.9h0M216.1 304.3h0M230.2 337.9h0M219.7 312.7h0M219.3 342.9h0M214.8 327.7h0M212.8 341.6h0M210.1 334.9h0M215.9 311.6h0M211.6 316.3h0M211.4 337.7h0M218.8 325.7h0M212.0 319.8h0M210.4 331.7h0M218.0 332.6h0M218.0 339.4h0M224.3 336.2h0M224.2 340.1h0M215.6 317.7h0M225.9 318.8h0M212.6 332.7h0M227.8 325.2h0M211.6 323.1h0" stroke="#00BFC4" stroke-width="1.50" stroke-linecap="round" stroke-opacity="0.9"/>
<path d="M219.1 341.3h0M216.0 339.6h0M219.9 340.6h0M218.8 343.3h0M218.6 342.8h0M214.1 342.2h0M220.4 342.3h0M218.7 342.8h0M219.0 345.5h0M214.4 338.5h0M218.6 341.2h0M217.8 340.8h0M215.9 341.7h0M220.7 338.5h0M218.8 338.4h0M213.1 339.0h0M215.9 337.4h0M214.9 338.7h0M216.9 344.4h0M218.7 342.0h0M219.7 346.5h0M218.1 346.7h0M222.0 344.2h0M222.1 342.7h0M217.5 342.0h0M216.9 341.5h0M217.3 344.7h0M216.9 346.5h0M219.2 344.5h0M213.2 337.7h0M220.5 345.5h0M220.4 346.8h0M220.1 337.4h0M219.8 346.3h0M215.1 339.8h0M215.2 342.2h0M219.1 339.0h0M221.3 339.1h0M214.0 342.4h0M218.1 341.5h0" stroke="#00BFC4" stroke-width="1.50" stroke-linecap="round" stroke-opacity="0.9"/>
<path d="M205.6 354.6h0M204.1 357.0h0M211.7 362.1h0M210.7 354.5h0M209.1 366.5h0M208.1 359.1h0M206.6 362.6h0M206.6 370.9h0M204.2 369.9h0M207.8 350.5h0M217.2 356.5h0M214.6 370.7h0M208.4 364.0h0M202.0 354.0h0M207.0 367.9h0M207.7 365.5h0M216.1 369.4h0M206.8 351.8h0M212.7 352.5h0M209.8 375.7h0M214.1 360.8h0M218.8 363.6h0M214.8 360.2h0M202.2 365.9h0M210.1 372.7h0M203.5 366.0h0M219.1 356.4h0M210.3 356.0h0M201.6 364.6h0M200.0 353.4h0M213.8 373.4h0M214.5 359.5h0M209.7 352.4h0M205.0 358.9h0M215.1 359.2h0M208.7 372.2h0M200.4 366.4h0M211.3 375.4h0M213.9 369.4h0M204.1 364.2h0M205.2 358.2h0M219.7 363.8h0M205.0 357.8h0M199.9 351.6h0M201.6 353.0h0M213.8 352.5h0M213.2 363.6h0M201.1 365.9h0M206.2 364.1h0M204.0 351.9h0M211.5 353.8h0M212.4 372.8h0M212.9 366.4h0M211.3 375.4h0M214.2 371.0h0M206.5 357.7h0M201.3 366.8h0M208.7 375.4h0M201.9 352.0h0M209.6 369.8h0M207.7 371.4h0M211.7 359.8h0M202.7 362.3h0M202.3 363.3h0M206.6 372.8h0M205.1 373.4h0M214.6 362.8h0M214.1 376.2h0M211.2 360.7h0M202.9 352.5h0M206.5 357.6h0M215.0 368.5h0M205.6 367.7h0M202.0 360.1h0M215.1 360.0h0M211.1 356.0h0M202.4 368.7h0M202.3 363.4h0M208.2 371.2h0M206.9 350.2h0M218.1 358.2h0M204.5 372.2h0M206.9 369.2h0M217.8 365.2h0M212.1 365.8h0M211.5 374.7h0M200.2 362.7h0M215.5 356.7h0M201.9 356.4h0M200.6 362.2h0M201.5 372.3h0M218.1 363.2h0M200.2 362.5h0M205.8 361.1h0M211.4 359.4h0M205.9 356.8h0M207.5 374.0h0M205.2 350.6h0M214.0 371.0h0M200.0 359.3h0M219.2 359.7h0M211.8 371.1h0M209.0 364.1h0M207.4 355.2h0M217.5 363.9h0M208.0 370.0h0M211.6 354.8h0M217.5 354.9h0M200.3 366.0h0M215.5 352.1h0M207.6 369.3h0M215.3 367.8h0M217.4 370.5h0M201.6 358.7h0M201.6 350.8h0M214.3 371.5h0M210.0 371.5h0M209.5 361.5h0M203.4 353.8h0M209.3 361.7h0M207.4 372.7h0M200.6 363.5h0M206.9 364.7h0M216.3 359.4h0M206.5 359.1h0M215.5 374.9h0M206.3 371.1h0M202.1 368.9h0M204.1 368.8h0M214.7 376.4h0M217.1 368.6h0M199.7 360.3h0M213.9 366.3h0M217.3 375.0h0M211.3 361.4h0M215.6 357.4h0M211.0 373.6h0M208.6 367.3h0M204.1 351.7h0M212.4 363.5h0M210.1 366.2h0M204.2 355.9h0M202.4 356.9h0M206.4 367.3h0M205.5 354.5h0M201.3 355.7h0M210.9 361.5h0M212.2 363.2h0M205.7 363.9h0M217.2 358.0h0" stroke="#7CAE00" stroke-width="1.50" stroke-linecap="round" stroke-opacity="0.9"/>
<path d="M217.3 399.9h0M217.9 373.8h0M216.5 379.3h0M215.2 376.4h0M213.8 378.3h0M215.8 382.7h0M220.6 378.8h0M213.5 396.4h0M217.2 403.6h0M219.3 403.5h0M216.6 398.8h0M216.0 376.7h0M216.7 376.7h0M218.7 394.5h0M219.1 401.5h0M220.2 377.8h0M214.8 394.1h0M214.6 407.2h0M217.7 382.1h0M218.3 395.5h0M215.4 402.8h0M214.3 405.6h0M215.3 378.8h0M219.5 387.3h0M219.0 392.3h0M215.4 396.7h0M216.0 379.7h0M217.7 395.4h0M216.6 389.2h0M220.3 385.0h0M218.1 390.2h0M214.4 383.1h0M216.3 393.8h0M218.3 387.0h0M215.0 377.6h0M216.3 398.9h0M220.7 396.0h0M221.2 386.4h0M217.0 398.8h0M218.1 401.0h0M214.7 403.3h0M219.1 391.8h0M218.0 380.3h0M216.6 396.9h0M221.1 388.4h0M217.3 406.9h0M213.2 383.5h0M216.4 379.4h0M219.6 391.0h0M217.7 402.3h0M215.1 386.5h0M218.5 379.4h0M218.0 402.6h0M219.4 386.3h0M217.8 393.5h0M218.0 404.7h0M214.6 398.6h0M216.6 406.0h0M217.8 380.0h0M213.2 387.1h0" stroke="#7CAE00" stroke-width="1.50" stroke-linecap="round" stroke-opacity="0.9"/>
<path d="M205.6 348.9h0M207.8 341.2h0M206.3 344.7h0M209.3 346.2h0M205.8 349.5h0M208.4 341.5h0M207.8 342.9h0M210.0 345.8h0M209.1 344.8h0M209.2 345.5h0" stroke="#7CAE00" stroke-width="1.50" stroke-linecap="round" stroke-opacity="0.9"/>
<path d="M182.1 380.7h0M194.0 362.0h0M196.6 360.7h0M185.6 375.2h0M183.2 384.7h0M197.0 375.9h0M181.1 380.5h0M182.6 387.4h0M194.2 368.3h0M192.8 363.9h0M180.5 381.1h0M191.0 368.3h0M188.9 363.7h0M189.1 363.1h0M197.9 370.5h0M201.1 359.9h0M194.0 361.4h0M189.1 380.4h0M181.8 391.9h0M180.7 392.3h0M185.0 381.6h0M190.7 368.9h0M185.1 373.8h0M196.8 370.3h0M189.0 369.1h0M177.7 400.9h0M183.5 381.3h0M190.0 365.7h0M180.8 397.0h0M184.7 388.1h0M180.3 384.8h0M180.0 387.9h0M185.6 387.6h0M193.0 371.9h0M186.2 386.0h0M188.7 372.9h0M183.3 385.0h0M189.8 368.1h0M190.9 378.8h0M190.2 365.2h0M195.6 376.9h0M184.3 379.0h0M180.7 384.5h0M177.9 391.0h0M187.9 366.5h0M185.0 391.4h0M195.0 373.7h0M180.9 386.1h0M184.8 387.3h0M183.3 388.1h0M189.5 368.0h0M179.7 384.4h0M189.8 364.7h0M182.9 390.8h0M190.4 364.9h0M189.4 381.4h0M195.0 371.9h0M184.5 391.0h0M180.9 394.2h0M183.0 375.7h0M192.6 360.6h0M182.3 393.7h0M179.8 398.9h0M184.7 382.8h0M189.2 375.2h0M193.8 373.7h0M193.4 366.9h0M186.4 372.2h0M182.6 388.7h0M188.2 367.0h0M192.2 366.3h0M185.4 397.0h0M192.6 377.0h0M196.6 364.7h0M187.4 369.0h0M183.0 386.0h0M200.8 366.6h0M200.8 365.6h0M183.7 379.3h0M194.6 368.7h0M198.0 362.4h0M178.1 390.1h0M192.5 359.1h0M192.1 381.6h0M185.2 390.5h0M180.7 384.5h0M191.6 379.6h0M180.6 395.0h0M186.6 370.1h0M184.9 394.4h0M190.3 384.3h0M194.0 368.8h0M191.7 371.4h0M180.1 398.2h0M184.4 384.9h0M197.5 363.7h0M185.3 369.1h0M191.9 363.0h0M186.2 374.9h0M178.6 389.0h0M181.7 391.4h0M191.7 378.4h0M200.4 370.9h0M193.4 367.5h0M199.9 372.6h0M198.7 368.3h0M201.1 371.6h0M196.5 373.1h0M182.0 398.0h0M185.7 371.8h0M198.8 367.8h0M193.7 370.9h0M182.4 377.2h0M194.7 370.5h0M190.5 366.4h0M188.5 366.9h0M184.1 393.0h0M192.7 371.5h0M178.9 399.0h0M190.2 376.8h0M186.0 389.6h0M186.8 383.9h0M194.0 376.3h0M185.4 385.2h0M182.1 389.7h0M180.3 386.2h0M180.9 395.4h0M194.5 369.0h0M195.1 369.2h0M190.4 363.6h0M185.5 385.5h0M183.2 394.1h0M185.1 382.4h0M201.8 357.2h0M190.2 380.6h0M182.7 396.3h0M185.8 389.0h0M181.6 385.8h0M187.7 386.1h0M186.0 382.6h0M195.5 373.8h0M185.6 390.1h0M190.5 369.3h0M201.0 369.5h0M191.8 372.2h0M195.8 360.1h0M180.0 393.6h0M198.4 370.3h0M185.1 371.8h0M180.8 383.9h0M196.5 369.0h0M177.7 390.5h0M182.1 378.3h0M185.9 379.8h0M190.2 377.1h0M193.0 375.9h0M184.4 388.2h0M182.7 386.1h0M177.7 397.6h0M184.6 374.4h0" stroke="#C77CFF" stroke-width="1.50" stroke-linecap="round" stroke-opacity="0.9"/>
<path d="M178.9 397.4h0M181.9 395.2h0M174.1 397.3h0M178.3 389.4h0M180.9 389.9h0M175.4 395.5h0M180.4 387.6h0M175.3 388.9h0M177.9 393.0h0M178.0 398.0h0M177.5 398.8h0M180.3 398.3h0M176.0 385.5h0M179.9 391.7h0M176.6 398.7h0M181.9 391.7h0M179.6 398.0h0M176.6 397.0h0M182.4 396.1h0M178.2 402.6h0M178.7 387.8h0M180.8 401.3h0M179.8 388.4h0M178.5 392.2h0M177.0 398.2h0M179.3 400.3h0M181.1 384.0h0M177.8 389.2h0M182.0 394.3h0M180.4 396.5h0M175.2 401.9h0M178.8 385.4h0M179.0 403.0h0M177.2 384.0h0M180.9 383.7h0M180.7 395.4h0M181.9 392.3h0M177.1 402.1h0M180.4 394.1h0M176.5 389.7h0" stroke="#C77CFF" stroke-width="1.50" stroke-linecap="round" stroke-opacity="0.9"/>
<path d="M162.0 382.9h0M179.9 401.8h0M176.6 406.8h0M160.4 401.4h0M166.6 409.0h0M179.1 390.9h0M179.3 378.1h0M175.3 382.6h0M177.1 402.4h0M160.1 382.1h0M162.4 384.0h0M163.2 417.0h0M172.2 388.2h0M169.3 406.4h0M155.9 381.1h0M182.5 381.7h0M179.9 386.0h0M158.6 391.0h0M181.0 384.4h0M168.6 390.1h0M169.4 389.9h0M163.5 405.6h0M165.0 392.4h0M177.4 379.8h0M166.7 404.9h0M172.9 410.1h0M160.9 399.4h0M162.9 406.6h0M177.6 397.0h0M161.2 387.2h0M163.8 401.4h0M167.2 391.3h0M165.9 379.6h0M169.1 388.4h0M158.8 394.9h0M167.9 419.0h0M166.1 379.4h0M169.9 378.1h0M169.0 402.6h0M169.5 400.0h0M181.5 376.3h0M153.3 391.9h0M165.9 415.5h0M160.9 411.9h0M158.9 403.2h0M160.7 379.5h0M176.3 388.0h0M159.0 384.7h0M164.8 395.8h0M164.3 419.8h0M167.8 382.9h0M180.0 388.3h0M159.7 383.0h0M166.8 398.5h0M160.9 405.7h0M177.9 405.1h0M175.4 406.4h0M166.8 417.0h0M172.0 402.4h0M154.6 398.9h0M175.2 389.9h0M168.7 386.5h0M164.7 413.4h0M159.3 388.7h0M159.3 401.4h0M168.2 384.3h0M156.7 383.3h0M178.5 400.5h0M169.3 383.4h0M169.7 380.2h0M155.4 386.1h0M171.0 416.0h0M160.6 387.5h0M167.2 399.2h0M161.0 399.2h0M154.2 389.0h0M172.0 383.7h0M172.8 398.8h0M170.0 385.0h0M182.9 382.3h0M160.7 383.5h0M157.6 396.5h0M165.3 411.6h0M180.5 399.9h0M172.2 407.7h0M181.4 377.3h0M183.8 388.9h0M170.5 389.2h0M171.5 396.1h0M155.7 388.4h0M154.2 387.2h0M164.5 396.2h0M173.4 394.9h0M175.7 400.5h0M177.4 410.2h0M157.9 391.8h0M170.4 407.0h0M168.3 413.6h0M159.6 394.2h0M167.7 394.0h0M180.3 405.4h0M179.9 385.7h0M172.1 393.8h0M176.9 400.3h0M179.6 405.8h0M160.9 403.8h0M154.3 384.6h0M175.2 406.7h0M172.4 378.8h0M182.9 388.1h0M175.1 380.7h0M156.4 387.8h0M173.9 378.9h0M180.7 386.3h0M162.8 398.6h0M158.7 393.1h0M166.1 417.4h0M164.2 382.1h0M155.6 391.7h0M175.4 377.3h0M163.3 399.6h0M171.1 404.7h0M180.5 393.5h0M174.0 407.7h0M155.6 389.3h0M175.8 410.2h0M172.9 400.3h0M159.7 388.0h0M156.8 382.0h0M173.6 392.3h0M157.3 378.9h0M163.8 395.5h0M183.3 380.4h0M182.8 379.7h0M173.9 396.9h0M165.4 423.5h0M161.5 408.8h0M174.6 398.3h0M177.3 375.3h0M181.0 393.3h0M175.8 405.8h0M161.2 388.6h0M164.7 411.1h0M180.0 392.8h0M175.5 382.5h0M171.7 378.9h0M174.1 404.4h0M168.1 385.2h0M162.3 381.4h0M169.2 408.9h0M180.7 406.2h0M159.3 390.7h0M159.4 404.7h0M167.5 401.5h0M178.7 394.2h0M164.9 402.0h0M160.2 408.1h0M175.8 382.0h0M163.3 391.3h0M175.7 399.5h0M158.6 388.2h0M151.4 384.3h0M164.1 389.9h0M174.7 376.9h0M173.8 386.3h0M177.9 396.7h0M167.4 382.8h0M163.5 397.0h0M165.2 422.4h0M177.7 381.7h0M165.6 414.9h0M172.0 390.4h0M161.1 392.5h0M154.9 385.0h0M158.1 389.1h0M172.7 388.1h0M165.8 399.6h0M182.3 393.0h0M155.8 393.4h0M161.7 415.4h0M157.9 393.5h0M162.5 388.0h0M166.8 383.9h0M163.4 403.7h0M158.3 381.8h0M178.2 389.6h0M175.6 405.5h0M170.6 384.1h0M178.2 391.5h0M172.0 385.2h0M171.8 378.2h0M167.6 385.4h0M165.8 396.6h0M179.7 400.3h0M156.0 398.5h0M168.0 413.2h0M161.8 398.4h0M158.0 395.7h0M156.6 381.1h0M179.0 390.2h0M162.8 395.3h0M165.9 378.4h0M166.7 399.6h0M177.3 383.3h0M175.0 379.6h0M163.3 382.7h0M163.5 412.6h0M167.4 376.7h0M163.0 415.2h0M167.7 384.3h0M166.2 408.5h0M163.8 384.2h0M169.0 389.7h0M172.6 393.9h0M160.7 383.9h0M168.7 409.5h0M171.1 397.5h0M165.4 380.5h0M165.2 410.8h0M177.3 404.1h0M170.2 400.4h0M179.7 405.3h0M162.4 390.7h0M183.2 381.7h0M179.1 407.8h0M174.5 412.5h0M178.0 378.4h0M155.3 386.0h0M180.4 388.9h0M180.9 396.1h0M177.8 400.6h0M181.1 394.3h0M177.5 387.8h0M169.9 379.0h0M156.6 396.8h0M179.0 385.2h0M154.7 386.3h0M162.4 408.1h0M169.6 412.3h0M173.2 396.4h0M163.7 410.2h0M167.7 378.0h0M169.2 377.9h0M175.4 376.7h0M162.1 378.1h0M164.8 379.0h0M166.3 406.7h0M166.6 409.0h0M177.1 381.4h0M167.6 397.7h0M161.1 403.1h0M171.6 379.5h0M171.0 390.4h0M159.5 390.4h0M179.3 393.1h0M174.7 376.5h0M155.9 399.4h0M161.4 395.5h0M167.1 402.8h0M168.2 411.2h0M161.6 398.1h0M167.1 415.3h0M169.6 379.2h0M178.1 379.6h0M177.4 391.4h0M157.0 378.8h0M175.1 389.8h0M178.9 389.5h0M159.7 384.1h0M155.7 378.9h0M177.7 386.7h0M167.7 400.4h0M172.7 385.9h0M165.7 397.4h0M166.7 407.0h0M156.2 393.0h0M164.8 413.4h0M168.0 393.9h0M158.2 382.8h0M161.7 398.6h0M165.8 413.5h0M182.2 382.3h0M169.2 415.8h0M161.8 383.3h0M176.3 408.7h0M159.2 376.8h0M167.1 418.9h0M180.3 393.1h0M171.6 375.5h0M178.8 403.0h0M170.3 415.3h0M178.1 398.1h0M173.3 375.1h0M167.5 401.1h0M164.6 421.5h0M160.7 388.4h0M165.9 392.1h0M163.2 378.5h0M160.0 383.7h0M165.5 406.5h0M155.3 377.4h0M165.9 377.4h0M173.2 395.1h0M169.7 412.9h0M178.7 385.7h0M169.0 401.0h0M158.2 406.3h0M164.3 379.6h0M171.2 380.3h0M164.3 404.1h0M180.0 388.1h0M163.0 403.6h0M153.9 382.8h0M169.4 407.5h0M174.9 401.6h0M165.2 413.5h0M171.3 387.7h0M159.2 378.5h0M180.2 382.0h0M159.2 395.4h0M170.4 399.6h0M158.4 404.4h0M160.8 399.4h0M166.0 401.8h0M178.9 400.6h0M166.4 386.8h0M166.8 411.0h0M168.9 383.5h0M168.9 394.0h0M153.3 397.1h0M170.6 390.5h0M162.7 389.2h0M167.9 409.5h0M171.4 399.5h0M175.9 403.1h0M167.2 384.1h0M183.8 386.9h0M167.3 382.5h0M154.8 398.0h0M175.9 390.7h0M157.6 390.9h0M176.4 392.9h0M172.5 384.9h0M165.8 389.8h0M181.6 394.1h0M169.9 399.6h0M168.2 416.0h0M177.3 392.1h0M177.1 385.3h0M178.3 391.9h0M154.0 392.0h0M156.0 386.7h0M163.5 419.0h0M179.4 375.2h0M157.6 386.3h0M166.0 397.7h0M160.7 403.3h0M159.1 382.2h0M180.3 392.1h0M154.6 394.9h0M162.8 383.2h0M170.9 390.9h0M181.1 394.7h0M165.6 389.9h0M153.9 393.2h0M170.2 386.7h0M177.7 396.6h0M175.6 377.5h0M169.8 391.0h0M161.3 396.3h0" stroke="#F8766D" stroke-width="1.50" stroke-linecap="round" stroke-opacity="0.9"/>
<path d="M163.4 423.6h0M165.6 421.9h0M166.8 421.0h0M164.7 420.6h0M164.9 423.1h0M163.6 422.7h0" stroke="#F8766D" stroke-width="1.50" stroke-linecap="round" stroke-opacity="0.9"/>
<path d="M148 388.4V429.7H189.2" fill="none" stroke="#000" stroke-width="1.3"/>
<path d="M145.8 389.4L148 385.4L150.2 389.4Z" fill="#000"/>
<path d="M188.2 427.5L192.2 429.7L188.2 431.9Z" fill="#000"/>
<text x="152.8" y="442.7" font-size="10.4" fill="#000" stroke="#000" stroke-width="0.1" text-anchor="start" >UMAP1</text>
<text x="146.0" y="428.0" font-size="10.4" fill="#000" stroke="#000" stroke-width="0.1" text-anchor="start" transform="rotate(-90 146 428)">UMAP2</text>
<text x="186.0" y="294.9" font-size="10.4" fill="#000" stroke="#000" stroke-width="0.1" text-anchor="start" >αSCM</text>
<circle cx="251.9" cy="301.7" r="3.10" fill="#F8766D" />
<text x="260.1" y="304.8" font-size="10.4" fill="#F8766D" stroke="#F8766D" stroke-width="0.1" text-anchor="start" >Mature OL</text>
<circle cx="251.9" cy="314.6" r="3.10" fill="#7CAE00" />
<text x="260.1" y="318.6" font-size="10.4" fill="#7CAE00" stroke="#7CAE00" stroke-width="0.1" text-anchor="start" >OPC</text>
<circle cx="251.9" cy="327.6" r="3.10" fill="#00BFC4" />
<text x="260.1" y="332.2" font-size="10.4" fill="#00BFC4" stroke="#00BFC4" stroke-width="0.1" text-anchor="start" >Proliferating OPC</text>
<circle cx="251.9" cy="340.5" r="3.10" fill="#C77CFF" />
<text x="260.1" y="345.0" font-size="10.4" fill="#C77CFF" stroke="#C77CFF" stroke-width="0.1" text-anchor="start" >Immature OL</text>
<line x1="427.8" y1="283.0" x2="427.8" y2="428.1" stroke="#000" stroke-width="1.3"/>
<line x1="427.2" y1="427.9" x2="500.5" y2="427.9" stroke="#000" stroke-width="1.3"/>
<line x1="424.1" y1="427.6" x2="427.8" y2="427.6" stroke="#000" stroke-width="1.2"/>
<text x="422.3" y="431.3" font-size="10.4" fill="#000" stroke="#000" stroke-width="0.1" text-anchor="end" >0</text>
<line x1="424.1" y1="391.7" x2="427.8" y2="391.7" stroke="#000" stroke-width="1.2"/>
<text x="422.3" y="395.4" font-size="10.4" fill="#000" stroke="#000" stroke-width="0.1" text-anchor="end" >25</text>
<line x1="424.1" y1="355.8" x2="427.8" y2="355.8" stroke="#000" stroke-width="1.2"/>
<text x="422.3" y="359.4" font-size="10.4" fill="#000" stroke="#000" stroke-width="0.1" text-anchor="end" >50</text>
<line x1="424.1" y1="319.8" x2="427.8" y2="319.8" stroke="#000" stroke-width="1.2"/>
<text x="422.3" y="323.5" font-size="10.4" fill="#000" stroke="#000" stroke-width="0.1" text-anchor="end" >75</text>
<line x1="424.1" y1="283.9" x2="427.8" y2="283.9" stroke="#000" stroke-width="1.2"/>
<text x="422.3" y="287.6" font-size="10.4" fill="#000" stroke="#000" stroke-width="0.1" text-anchor="end" >100</text>
<text x="407.2" y="351.5" font-size="10.4" fill="#000" stroke="#000" stroke-width="0.1" text-anchor="middle" transform="rotate(-90 407.2 351.5)">% of cell</text>
<rect x="439.7" y="349.00" width="19.5" height="78.60" fill="#F8766D" stroke="#000" stroke-width="1.1"/>
<rect x="439.7" y="327.44" width="19.5" height="21.56" fill="#7CAE00" stroke="#000" stroke-width="1.1"/>
<rect x="439.7" y="299.99" width="19.5" height="27.45" fill="#00BFC4" stroke="#000" stroke-width="1.1"/>
<rect x="439.7" y="283.90" width="19.5" height="16.09" fill="#C77CFF" stroke="#000" stroke-width="1.1"/>
<rect x="470.7" y="371.84" width="19.5" height="55.76" fill="#F8766D" stroke="#000" stroke-width="1.1"/>
<rect x="470.7" y="339.37" width="19.5" height="32.48" fill="#7CAE00" stroke="#000" stroke-width="1.1"/>
<rect x="470.7" y="309.91" width="19.5" height="29.46" fill="#00BFC4" stroke="#000" stroke-width="1.1"/>
<rect x="470.7" y="283.90" width="19.5" height="26.01" fill="#C77CFF" stroke="#000" stroke-width="1.1"/>
<text x="447.6" y="387.3" font-size="10.4" fill="#000" stroke="#000" stroke-width="0.1" text-anchor="middle" >54.7</text>
<text x="449.4" y="343.3" font-size="10.4" fill="#000" stroke="#000" stroke-width="0.1" text-anchor="middle" >15</text>
<text x="448.2" y="320.6" font-size="10.4" fill="#000" stroke="#000" stroke-width="0.1" text-anchor="middle" >19.1</text>
<text x="448.6" y="296.9" font-size="10.4" fill="#000" stroke="#000" stroke-width="0.1" text-anchor="middle" >11.2</text>
<text x="480.7" y="406.7" font-size="10.4" fill="#000" stroke="#000" stroke-width="0.1" text-anchor="middle" >38.8</text>
<text x="480.4" y="359.5" font-size="10.4" fill="#000" stroke="#000" stroke-width="0.1" text-anchor="middle" >22.6</text>
<text x="480.4" y="328.5" font-size="10.4" fill="#000" stroke="#000" stroke-width="0.1" text-anchor="middle" >20.5</text>
<text x="480.4" y="302.2" font-size="10.4" fill="#000" stroke="#000" stroke-width="0.1" text-anchor="middle" >18.1</text>
<line x1="449.4" y1="427.8" x2="449.4" y2="431.3" stroke="#000" stroke-width="1.2"/>
<line x1="480.4" y1="427.8" x2="480.4" y2="431.3" stroke="#000" stroke-width="1.2"/>
<text x="435.2" y="443.4" font-size="10.4" fill="#000" stroke="#000" stroke-width="0.1" text-anchor="start" >LZCM</text>
<text x="465.8" y="443.4" font-size="10.4" fill="#000" stroke="#000" stroke-width="0.1" text-anchor="start" >αSCM</text>
<line x1="453.2" y1="367.2" x2="472.5" y2="388" stroke="#C00000" stroke-width="1.4"/>
<path d="M477 393 L467.5 389.3 L474.2 382.8 Z" fill="#C00000"/>
<text x="501.8" y="292.1" font-size="10.4" fill="#C77CFF" stroke="#C77CFF" stroke-width="0.1" text-anchor="start" >Immature OL</text>
<text x="501.8" y="305.8" font-size="10.4" fill="#00BFC4" stroke="#00BFC4" stroke-width="0.1" text-anchor="start" >Proliferating OPC</text>
<text x="501.8" y="319.5" font-size="10.4" fill="#7CAE00" stroke="#7CAE00" stroke-width="0.1" text-anchor="start" >OPC</text>
<text x="501.8" y="333.2" font-size="10.4" fill="#F8766D" stroke="#F8766D" stroke-width="0.1" text-anchor="start" >Mature OL</text>
<path d="M31.6 528.0h0M30.8 512.3h0M33.9 516.2h0M35.4 506.6h0M34.8 507.7h0M32.1 529.2h0M31.8 508.6h0M34.0 502.8h0M34.5 498.5h0M35.6 513.5h0M31.0 526.8h0M31.9 500.4h0M32.3 500.8h0M31.8 515.1h0M34.7 506.2h0M32.6 501.1h0M31.4 525.7h0M35.2 505.1h0M32.1 526.2h0M33.6 528.0h0M33.4 496.8h0M32.2 497.4h0M32.4 517.4h0M30.4 509.6h0M32.6 502.9h0M30.6 509.2h0M33.8 500.6h0M34.1 500.7h0M31.7 507.3h0M32.3 514.0h0M34.2 508.3h0M31.7 511.7h0M29.4 522.3h0M35.8 499.4h0M31.7 516.5h0M32.2 514.2h0M32.3 510.5h0M36.9 497.3h0M33.7 503.0h0M35.3 501.7h0M32.2 521.8h0M34.7 508.5h0M29.1 520.9h0M28.2 526.8h0M32.6 512.9h0M30.9 507.5h0M29.7 505.0h0M30.9 498.8h0M33.5 506.3h0M32.1 507.8h0M30.2 516.2h0M29.7 522.1h0M28.6 524.4h0M33.7 519.3h0M33.7 498.6h0M28.7 525.8h0M33.0 509.7h0M36.3 504.6h0M32.8 497.7h0M34.1 499.7h0M32.0 512.1h0M33.4 499.9h0M30.1 519.9h0M33.1 500.2h0M35.2 496.6h0M31.0 505.1h0M34.8 497.2h0M36.0 504.6h0M32.6 518.3h0M32.6 501.0h0M35.8 498.0h0M33.3 514.9h0M29.8 516.7h0M34.2 514.6h0M35.7 504.7h0M29.3 530.1h0M33.6 511.1h0M31.0 506.9h0M28.9 520.9h0M29.4 515.9h0M32.4 527.9h0M28.8 525.9h0M32.7 506.0h0M33.0 503.5h0M34.2 508.9h0M31.0 527.6h0M31.4 522.7h0M30.7 520.7h0M31.0 523.0h0M32.5 509.4h0" stroke="#00BFC4" stroke-width="1.10" stroke-linecap="round" stroke-opacity="0.85"/>
<path d="M23.6 511.8h0M28.0 509.7h0M21.8 512.0h0M29.2 508.9h0M28.5 510.2h0M29.7 512.1h0M30.3 508.8h0M29.1 513.5h0M27.5 515.0h0M22.0 513.1h0M26.4 510.1h0M29.9 510.8h0M22.1 512.5h0M26.1 509.8h0M29.9 514.5h0M21.4 510.3h0M28.8 510.9h0M23.9 511.0h0M24.5 511.2h0M22.3 513.2h0M23.6 508.9h0M30.7 515.0h0M26.3 512.5h0M30.1 512.6h0M22.2 511.3h0" stroke="#00BFC4" stroke-width="1.10" stroke-linecap="round" stroke-opacity="0.85"/>
<path d="M122.6 498.6h0M117.9 564.1h0M131.2 533.0h0M137.6 507.4h0M130.6 587.2h0M109.1 562.2h0M105.6 566.9h0M137.0 510.4h0M126.2 511.5h0M117.9 589.7h0M139.7 548.7h0M123.2 582.6h0M112.0 511.3h0M133.5 568.4h0M123.4 547.8h0M141.1 547.1h0M114.8 558.6h0M103.0 569.0h0M127.8 552.9h0M104.4 568.6h0M121.0 547.1h0M107.5 569.6h0M111.5 513.9h0M101.1 580.6h0M133.6 534.0h0M134.7 571.0h0M126.9 577.2h0M101.5 570.8h0M126.6 548.8h0M117.3 550.6h0M134.7 568.0h0M136.1 521.2h0M130.8 555.1h0M132.3 535.1h0M113.2 545.4h0M120.2 545.9h0M100.2 581.0h0M117.4 562.8h0M102.6 582.3h0M128.5 577.7h0M109.8 566.3h0M127.6 565.5h0M120.3 563.6h0M132.6 562.3h0M137.4 579.5h0M112.9 565.0h0M99.1 575.3h0M127.6 499.1h0M119.8 578.7h0M123.0 561.2h0M126.5 514.8h0M117.6 543.0h0M115.4 530.0h0M138.2 565.3h0M116.3 556.9h0M131.4 528.6h0M129.2 575.5h0M114.1 573.0h0M121.2 575.0h0M117.5 510.5h0M121.8 591.1h0M142.7 530.5h0M110.6 566.4h0M143.6 545.3h0M131.2 539.4h0M128.7 553.5h0M114.0 552.4h0M133.3 512.5h0M128.7 525.2h0M125.1 576.4h0M137.8 562.7h0M105.0 550.3h0M111.6 590.4h0M102.8 566.6h0M122.6 552.7h0M136.1 545.0h0M108.2 562.2h0M128.3 533.3h0M107.9 568.0h0M141.1 535.0h0M114.9 585.1h0M119.7 547.9h0M132.6 525.6h0M123.0 579.8h0M136.9 541.4h0M124.8 565.6h0M121.0 505.8h0M110.3 586.2h0M131.1 511.6h0M127.2 526.4h0M108.4 588.5h0M118.3 570.9h0M135.6 535.6h0M120.3 541.8h0M100.4 582.8h0M123.3 551.5h0M101.1 567.0h0M109.3 516.3h0M137.8 528.1h0M105.7 545.9h0M118.0 521.2h0M107.5 529.1h0M134.8 559.4h0M130.5 588.6h0M121.1 535.9h0M120.3 551.0h0M132.9 553.8h0M115.8 552.0h0M134.7 561.0h0M124.1 574.0h0M110.7 573.9h0M136.3 516.9h0M125.9 572.3h0M113.9 590.7h0M140.9 551.2h0M135.4 553.8h0M135.7 540.0h0M104.6 556.3h0M114.8 581.9h0M109.9 528.7h0M123.7 538.4h0M104.6 542.7h0M140.0 545.2h0M120.2 545.3h0M127.9 528.4h0M134.9 575.1h0M109.4 533.5h0M126.2 589.8h0M124.7 570.6h0M104.7 579.5h0M130.2 564.4h0M114.2 543.6h0M110.3 532.1h0M106.8 556.5h0M126.4 522.7h0M133.0 553.7h0M110.0 546.5h0M111.3 558.2h0M124.8 550.2h0M101.5 573.0h0M137.1 535.9h0M134.1 540.8h0M126.9 506.6h0M106.2 587.8h0M100.5 569.3h0M136.1 506.1h0M141.2 535.7h0M109.9 521.5h0M126.8 531.8h0M126.9 559.8h0M137.9 538.0h0M123.6 505.5h0M124.1 529.0h0M111.8 560.3h0M136.8 553.9h0M143.1 552.6h0M124.5 502.7h0M140.9 569.9h0M119.1 574.9h0M123.1 558.8h0M108.0 588.8h0M103.6 550.6h0M128.4 558.9h0M106.7 553.2h0M114.0 568.9h0M121.5 531.2h0M122.5 510.2h0M124.0 575.8h0M123.7 544.3h0M139.0 518.8h0M130.2 550.1h0M118.3 540.2h0M114.2 540.1h0M112.7 545.4h0M117.4 564.3h0M125.7 534.2h0M120.7 521.5h0M122.2 569.2h0M128.4 551.0h0M110.7 537.0h0M119.0 529.4h0M123.3 583.2h0M127.3 576.2h0M126.7 587.4h0M124.7 546.9h0M119.9 522.0h0M125.6 505.9h0M106.3 582.2h0M99.2 560.1h0M124.7 543.3h0M126.5 556.5h0M115.7 515.4h0M126.8 512.0h0M115.3 533.0h0M125.1 577.1h0M99.5 564.1h0M128.8 500.8h0M110.5 524.1h0M112.8 588.0h0M125.4 515.5h0M127.2 570.3h0M116.2 509.8h0M138.3 542.4h0M127.7 508.1h0M126.6 509.1h0M137.2 530.8h0M127.1 587.8h0M135.1 561.2h0M128.1 513.5h0M129.6 533.1h0M117.0 557.0h0M130.5 531.4h0M135.5 518.9h0M107.6 522.1h0M120.1 536.1h0M106.6 538.1h0M109.9 590.6h0M136.0 536.2h0M115.9 511.9h0M111.3 544.7h0M116.2 526.3h0M123.5 589.7h0M134.1 542.2h0M109.4 576.5h0M140.2 562.7h0M137.3 551.8h0M109.7 546.5h0M141.2 546.2h0M106.9 534.8h0M130.6 541.1h0M113.8 563.8h0M117.1 505.1h0M124.6 533.7h0M114.1 584.5h0M112.8 521.4h0M111.6 531.6h0M115.0 551.2h0M142.4 523.6h0M108.7 550.5h0M138.2 562.8h0M112.4 588.6h0M132.1 563.8h0M129.8 501.6h0M129.1 578.6h0M136.5 512.2h0M112.2 561.4h0M121.3 590.4h0M122.2 505.3h0M126.1 561.7h0M119.6 522.9h0M133.3 555.2h0M101.1 567.7h0M115.5 522.5h0M103.5 558.8h0M110.6 585.6h0M125.9 592.2h0M132.5 526.4h0M125.0 504.1h0M140.5 526.6h0M108.9 536.4h0M125.0 522.4h0M115.2 518.4h0M120.9 581.2h0M130.8 588.5h0M109.8 563.8h0M117.8 515.0h0M135.0 540.3h0M105.8 543.4h0M126.3 558.4h0M115.5 556.0h0M113.0 542.9h0M122.5 514.1h0M109.0 590.4h0M129.0 560.9h0M121.9 544.5h0M122.1 579.1h0M109.6 564.4h0M126.6 540.2h0M141.3 563.8h0M109.8 527.8h0M126.4 540.6h0M105.7 578.8h0M117.2 574.0h0M107.1 572.9h0M123.2 503.7h0M132.3 502.4h0M127.8 523.5h0M130.5 529.2h0M106.3 553.8h0M143.6 553.2h0M131.2 534.5h0M133.4 514.8h0M112.8 562.2h0M132.1 575.1h0M121.2 513.2h0M130.8 521.5h0M111.7 544.4h0M128.6 517.9h0M109.8 558.9h0M121.3 566.8h0M100.7 580.7h0M114.3 551.7h0M115.0 539.5h0M133.0 536.4h0M127.9 568.4h0M105.0 547.2h0M105.0 535.4h0M100.4 560.5h0M110.2 581.8h0M126.3 569.7h0M121.8 503.3h0M112.7 559.9h0M123.3 567.1h0M117.6 580.7h0M136.6 567.1h0M108.1 578.6h0M118.8 553.4h0M114.7 581.4h0M111.1 563.5h0M108.1 531.8h0M130.0 558.8h0M116.2 587.4h0M115.1 510.7h0M126.1 591.7h0M108.1 558.6h0M117.3 513.6h0M121.0 529.8h0M120.9 500.5h0M109.0 525.3h0M115.6 520.1h0M108.8 558.1h0M126.7 544.9h0M111.9 528.9h0M126.1 582.9h0M120.9 517.7h0M122.4 587.6h0M137.7 564.4h0M117.7 584.0h0M110.1 518.0h0M129.3 552.2h0M108.2 522.8h0M126.9 517.6h0M138.3 567.1h0M141.1 552.3h0M97.5 572.6h0M120.1 513.7h0M130.4 576.7h0M121.1 507.1h0M141.8 524.3h0M116.0 567.8h0M114.3 568.3h0M137.5 542.7h0M121.8 554.7h0M127.6 500.3h0M113.5 533.6h0M115.0 572.5h0M135.9 535.6h0M104.1 548.4h0M134.5 536.6h0M115.6 588.3h0M142.1 571.0h0M117.4 588.1h0M113.3 546.2h0M118.7 509.0h0M137.3 530.5h0M117.1 509.4h0M112.4 586.4h0M118.3 536.8h0M132.4 575.9h0M123.1 566.4h0M103.6 563.9h0M125.4 593.3h0M125.0 574.4h0M139.2 536.9h0M139.3 549.9h0M119.6 568.8h0M127.9 571.3h0M128.9 524.3h0M142.6 545.1h0M114.1 585.4h0M120.1 587.8h0M101.7 559.2h0M135.0 560.2h0M129.4 541.8h0M113.6 589.7h0M106.9 564.4h0M120.8 556.3h0M140.0 542.7h0M122.9 569.8h0M107.6 571.3h0M132.8 516.3h0M117.0 500.4h0M113.2 550.5h0M110.6 517.9h0M106.7 527.6h0M136.2 567.2h0M122.7 589.6h0M125.9 552.5h0M122.2 511.1h0M118.4 501.9h0M124.3 543.0h0M106.2 539.1h0M107.0 560.3h0M122.1 509.8h0M136.4 582.8h0M136.8 572.8h0M103.2 568.0h0M105.3 536.8h0M112.2 548.8h0M123.9 565.2h0M128.6 502.0h0M113.6 571.2h0M127.8 535.6h0M129.4 521.5h0M112.6 592.1h0M132.8 582.2h0M141.2 551.3h0M125.4 537.1h0M132.8 531.1h0M110.4 512.8h0M126.0 561.2h0M125.3 509.5h0M125.6 561.3h0M107.5 528.8h0M108.7 570.1h0M106.3 553.5h0M111.3 515.9h0M125.3 535.0h0M133.9 548.0h0M119.9 589.1h0M123.4 522.7h0M129.9 543.4h0M139.5 572.2h0M108.9 558.3h0M119.5 544.0h0M125.2 553.2h0M123.9 504.9h0M126.3 585.8h0M137.2 547.8h0M113.4 529.5h0M130.4 505.9h0M130.7 566.5h0M135.6 558.4h0M110.9 516.3h0M123.3 576.9h0M135.3 582.4h0M130.7 501.8h0M120.6 577.0h0M136.6 546.5h0M121.8 504.8h0M111.5 541.1h0M132.4 526.7h0M104.5 565.0h0M102.4 565.8h0M127.8 583.1h0M119.3 501.6h0M140.4 537.9h0M106.4 571.8h0M110.2 516.8h0M127.0 592.8h0M117.6 506.6h0M113.6 519.8h0M125.8 504.3h0M121.9 534.2h0M129.3 565.2h0M115.5 545.3h0M130.5 507.9h0M120.7 498.1h0M127.1 502.3h0M128.1 498.3h0M108.5 546.3h0M101.4 571.2h0M124.3 533.4h0M121.5 564.9h0M121.2 555.0h0M141.0 537.2h0M129.5 558.8h0M135.3 566.8h0M128.7 498.7h0M123.5 544.3h0M116.3 582.2h0M134.4 555.5h0M127.2 586.0h0M125.9 554.3h0M128.0 557.2h0M111.1 548.8h0M124.8 528.0h0M119.1 540.7h0M124.9 537.3h0M136.8 540.6h0M118.4 533.1h0M113.6 546.3h0M118.8 544.7h0M112.2 540.2h0M135.5 506.5h0M125.3 545.3h0M112.4 525.6h0M129.2 553.5h0M104.9 556.6h0M142.2 534.7h0M116.4 529.2h0M132.7 526.6h0M109.8 569.2h0M113.2 540.9h0M141.7 546.5h0M104.0 579.2h0M110.2 552.8h0M123.2 545.6h0M102.3 582.8h0M132.8 513.8h0M124.5 585.8h0M101.3 564.3h0M138.3 564.5h0M104.6 534.9h0M106.4 567.5h0M128.1 554.7h0M119.4 569.8h0M134.0 510.1h0M116.2 574.9h0M110.4 542.7h0M142.9 552.7h0M132.7 577.0h0M122.6 537.6h0M130.5 589.7h0M121.8 521.8h0M129.4 582.3h0M122.9 551.3h0M129.8 570.5h0M122.8 537.0h0M102.9 553.0h0M135.7 547.1h0M112.2 562.7h0M111.8 569.9h0M112.0 541.9h0M113.3 549.0h0M123.4 579.8h0M124.6 542.3h0M142.9 536.6h0M111.0 547.6h0M107.3 535.8h0M119.9 573.6h0M112.1 591.0h0M132.2 543.0h0M108.5 569.9h0M137.7 530.4h0M110.3 527.0h0M125.4 526.5h0M130.1 565.5h0M121.9 540.4h0M130.8 523.3h0M119.8 515.9h0M133.2 563.9h0M123.0 534.8h0M106.4 559.1h0M138.0 554.6h0M137.5 577.7h0M131.0 569.8h0M138.8 545.6h0M127.2 526.5h0M132.8 534.0h0M127.0 534.8h0M131.8 530.3h0M133.2 529.8h0M137.4 532.0h0M116.5 569.3h0M133.2 564.6h0M118.4 520.9h0M125.5 540.8h0M111.0 517.7h0M104.2 564.3h0M111.2 542.3h0M135.1 525.2h0M127.1 538.8h0M120.4 547.1h0M128.6 554.2h0M116.4 552.1h0M114.0 511.3h0M109.7 565.9h0M118.1 540.9h0M123.4 502.1h0M116.9 529.6h0M117.5 572.9h0M125.8 503.8h0M124.3 537.3h0M110.4 547.4h0M129.7 582.0h0M133.2 502.5h0M112.8 573.2h0M120.4 557.8h0M133.7 546.7h0M100.6 586.1h0M129.2 521.6h0M124.7 533.2h0M114.9 531.9h0M132.0 569.7h0M121.9 553.4h0M116.0 532.1h0M116.5 566.9h0M141.1 550.2h0M112.1 589.5h0M129.9 552.5h0M136.5 537.1h0M115.1 585.5h0M133.2 562.0h0M115.5 519.6h0M108.9 583.2h0M129.1 525.4h0M108.3 520.3h0M132.9 549.9h0M123.2 545.3h0M134.2 529.7h0M132.5 508.1h0M123.4 563.2h0M116.9 563.4h0M103.2 582.7h0M131.4 576.1h0M134.8 563.6h0M123.9 560.3h0M110.7 576.4h0M116.0 546.4h0M112.5 531.8h0M106.8 572.1h0M108.5 571.5h0M106.5 576.9h0M128.7 537.0h0M121.9 558.0h0M107.6 587.6h0M116.8 549.0h0M105.8 537.3h0M131.5 580.2h0M119.9 590.8h0M128.1 507.1h0M128.4 508.9h0M116.0 531.9h0M142.6 564.8h0M122.0 550.7h0M132.3 506.2h0M107.0 585.1h0M112.7 538.0h0M132.2 552.1h0M117.7 552.7h0M126.7 544.9h0M120.0 554.5h0M105.5 588.0h0M136.7 527.1h0M107.6 553.6h0M109.4 588.9h0M106.9 565.3h0M140.2 538.3h0M108.8 561.6h0M111.5 564.0h0M106.2 533.6h0M128.5 536.1h0M111.0 567.8h0M133.6 580.3h0M106.2 567.5h0M119.9 573.8h0M108.3 564.1h0M139.1 546.4h0M113.5 539.1h0M105.9 585.4h0M134.6 533.3h0M120.6 559.2h0M115.8 547.6h0M129.4 541.9h0M122.8 560.5h0M104.9 561.6h0M130.1 573.9h0M136.4 544.4h0M133.5 543.2h0M118.6 502.2h0M109.4 553.7h0M119.5 533.1h0M136.5 575.3h0M130.6 556.7h0M131.1 525.8h0M122.1 498.9h0M113.9 561.2h0M117.3 515.8h0M137.5 527.5h0M118.3 518.7h0M116.9 586.2h0M109.3 536.3h0M130.6 567.2h0M120.8 529.2h0M132.8 580.2h0M119.8 548.1h0M114.9 530.0h0M112.0 588.9h0M119.3 570.5h0M118.7 567.7h0M101.1 569.9h0M130.6 542.6h0M137.2 539.1h0M138.4 532.4h0M111.0 584.0h0M109.6 520.7h0M130.0 504.4h0M124.9 518.0h0M136.1 551.3h0M131.8 569.8h0M125.5 542.2h0M135.2 549.6h0M121.1 532.2h0M136.1 507.8h0M137.5 576.1h0M126.0 527.0h0M126.4 554.5h0M141.9 535.6h0M121.8 565.4h0M127.4 526.5h0M109.6 566.4h0M139.3 570.0h0M122.2 523.6h0M97.2 577.7h0M117.1 559.5h0M128.0 572.2h0M135.1 579.1h0M115.4 543.1h0M120.5 518.7h0M133.9 558.6h0M118.9 577.6h0M102.0 557.2h0M136.3 545.1h0M130.5 554.5h0M102.0 578.9h0M120.3 510.4h0M107.9 584.1h0M109.1 555.8h0M140.8 531.8h0M121.3 545.5h0M110.7 544.1h0M105.6 528.0h0M135.9 578.3h0M125.8 579.5h0M117.1 522.6h0M128.0 556.8h0M130.3 511.7h0M113.5 572.0h0M116.1 543.0h0M115.7 580.6h0M124.2 547.8h0M129.8 515.1h0M114.3 563.7h0M113.0 570.7h0M138.9 571.8h0M109.7 530.7h0M127.7 545.1h0M116.5 539.4h0M136.4 520.6h0M99.4 566.7h0M117.1 569.1h0M129.1 551.8h0M105.5 542.8h0M113.0 530.3h0M132.6 511.6h0M132.1 523.6h0M133.7 579.8h0M142.1 532.6h0M132.8 566.0h0M135.7 518.6h0M106.2 551.3h0M98.2 575.5h0M131.2 581.2h0M122.4 497.4h0M117.4 584.2h0M104.5 570.2h0M105.7 529.6h0M131.5 551.9h0M128.2 515.9h0M118.2 586.4h0M113.2 543.8h0M127.7 518.8h0M121.3 551.5h0M125.1 510.9h0M132.9 567.4h0M128.9 545.9h0M121.9 553.9h0M142.8 530.5h0M139.6 566.4h0M132.9 547.0h0M128.9 564.3h0M101.7 558.1h0M135.5 505.7h0M132.1 502.6h0M105.2 536.2h0M111.1 583.9h0M116.7 570.5h0M115.2 503.6h0M123.9 559.6h0M104.3 549.1h0M119.6 541.9h0M138.3 544.3h0M110.3 546.7h0M136.0 567.6h0M121.6 530.0h0M142.1 540.9h0M104.8 567.2h0M129.5 533.9h0M134.5 583.8h0" stroke="#F8766D" stroke-width="1.10" stroke-linecap="round" stroke-opacity="0.8"/>
<path d="M44.2 565.5h0M29.2 549.5h0M94.8 559.0h0M90.9 557.8h0M90.5 568.9h0M85.9 554.5h0M34.5 548.3h0M59.9 559.2h0M56.8 547.1h0M37.0 576.7h0M39.1 560.8h0M72.4 564.9h0M35.1 551.7h0M54.4 555.8h0M73.0 564.0h0M96.8 563.5h0M50.0 555.5h0M68.6 567.9h0M77.6 568.1h0M48.9 574.5h0M54.0 569.1h0M79.7 575.6h0M66.3 561.1h0M69.5 580.1h0M58.3 562.5h0M37.9 562.9h0M54.5 551.6h0M43.1 562.1h0M77.1 561.0h0M30.0 567.0h0M53.9 571.9h0M39.5 561.9h0M78.5 565.8h0M74.1 582.1h0M88.7 578.1h0M101.1 578.3h0M39.5 571.7h0M101.2 564.9h0M81.6 581.9h0M89.1 574.8h0M35.6 550.6h0M32.6 555.0h0M78.9 567.2h0M35.0 559.2h0M58.9 549.2h0M59.6 580.7h0M59.7 571.0h0M86.2 568.8h0M55.2 577.4h0M75.3 555.4h0M55.7 552.5h0M94.1 563.7h0M71.7 549.1h0M65.9 573.3h0M95.9 557.2h0M91.3 561.7h0M97.0 572.9h0M45.1 576.4h0M61.2 579.2h0M31.8 547.1h0M81.9 578.3h0M73.2 574.3h0M29.0 556.8h0M93.4 558.6h0M79.0 555.3h0M82.2 560.3h0M72.9 557.7h0M84.2 579.1h0M48.3 549.9h0M86.0 580.7h0M43.5 558.1h0M96.3 581.5h0M88.0 557.8h0M94.7 558.3h0M30.6 549.0h0M58.8 578.7h0M77.3 573.5h0M67.2 560.1h0M100.2 566.0h0M99.6 560.5h0M97.9 568.2h0M45.3 554.3h0M88.1 557.6h0M86.2 568.9h0M53.0 548.4h0M100.1 566.2h0M72.8 555.9h0M33.9 567.0h0M46.2 572.7h0M70.2 553.7h0M98.4 564.0h0M62.6 550.8h0M100.3 574.3h0M51.0 558.4h0M40.7 546.4h0M64.6 548.2h0M34.9 549.4h0M82.9 568.8h0M67.0 574.1h0M92.9 555.3h0M56.7 554.0h0M64.0 582.2h0M53.3 575.1h0M78.4 564.8h0M72.5 569.9h0M52.5 544.6h0M61.4 581.8h0M45.0 559.9h0M60.7 554.8h0M37.0 555.2h0M57.2 559.0h0M99.8 573.6h0M62.5 566.4h0M101.8 565.5h0M86.1 578.1h0M101.6 568.8h0M48.4 552.2h0M51.6 559.6h0M30.9 551.8h0M29.5 554.8h0M99.9 560.6h0M97.8 568.1h0M98.5 564.0h0M80.9 550.7h0M46.7 555.5h0M97.9 579.5h0M83.8 565.1h0M59.8 581.4h0M91.5 564.5h0M72.3 564.6h0M47.5 572.3h0M40.3 568.1h0M58.2 547.7h0M54.0 554.6h0M75.6 570.8h0M41.7 567.2h0M91.8 559.7h0M75.0 579.3h0M81.2 550.6h0M33.3 555.0h0M36.6 574.3h0M42.8 562.4h0M53.4 571.6h0M40.1 569.5h0M71.7 566.1h0M82.7 555.9h0M37.1 563.6h0M73.1 580.7h0M36.5 548.1h0M83.8 562.9h0M45.3 567.1h0M97.6 576.5h0M61.8 561.4h0M91.6 563.4h0M73.2 580.6h0M28.7 567.2h0M83.7 563.9h0M36.6 562.6h0M59.7 571.4h0M61.1 548.4h0M52.9 574.2h0M49.0 566.5h0M85.3 564.3h0M58.8 553.7h0M70.1 571.3h0M49.3 554.9h0M88.6 571.4h0M95.4 582.1h0M70.1 562.9h0M102.7 572.0h0M60.3 568.8h0M100.2 570.7h0M43.0 552.2h0M53.5 562.2h0M64.3 555.6h0M84.0 579.2h0M77.6 579.7h0M52.1 573.7h0M67.5 559.5h0M92.7 580.0h0M60.4 549.4h0M54.1 579.1h0M73.7 564.2h0M95.0 560.2h0M27.9 557.1h0M65.6 553.1h0M65.3 579.9h0M61.2 559.8h0M29.8 554.4h0M55.0 557.4h0M50.1 555.0h0M27.1 553.7h0M89.5 578.0h0M36.0 561.2h0M49.0 572.9h0M36.6 570.6h0M82.2 555.9h0M38.6 562.1h0M29.5 565.8h0M69.9 570.2h0M83.4 577.1h0M52.8 555.2h0M38.4 549.8h0M65.6 563.2h0M67.5 569.6h0M53.5 556.0h0M47.1 565.2h0M34.1 570.2h0M44.3 565.1h0M67.5 569.1h0M43.5 574.2h0M53.0 564.5h0M35.2 568.6h0M59.9 557.4h0M52.8 557.3h0M50.2 575.4h0M51.6 576.6h0M29.8 560.8h0M72.5 565.9h0M78.4 556.5h0M91.6 578.9h0M42.5 572.0h0M63.9 547.6h0M44.5 550.3h0M100.5 574.8h0M75.0 573.7h0M36.8 572.5h0M85.0 567.0h0M46.0 556.6h0M44.0 576.6h0M38.8 550.8h0M90.6 567.5h0M51.2 579.9h0M38.7 563.6h0M41.3 546.1h0M97.1 576.4h0M36.8 566.3h0M96.0 581.5h0M58.2 574.8h0M75.7 565.0h0M59.0 560.8h0M32.8 572.0h0M76.0 570.8h0M33.5 564.9h0M69.1 575.4h0M99.3 576.7h0M33.7 554.3h0M79.9 563.8h0M77.9 552.5h0M88.4 555.0h0M53.0 564.0h0M38.9 559.7h0M45.2 559.7h0M47.8 570.1h0M44.2 572.3h0M55.4 555.0h0M61.1 578.6h0M67.7 556.5h0M73.6 549.1h0M70.0 552.2h0M53.3 553.1h0M49.5 564.9h0M52.0 570.0h0M33.4 568.2h0M38.5 567.3h0M48.0 581.3h0M40.0 545.1h0M48.0 571.8h0M79.2 580.3h0M97.5 584.0h0M77.3 563.1h0M83.5 555.4h0M55.2 571.1h0M51.6 580.4h0M51.2 562.8h0M54.8 564.3h0M75.1 579.2h0M34.8 560.2h0M30.9 546.1h0M35.0 562.5h0M80.3 573.0h0M58.9 579.5h0M41.4 566.4h0M64.5 549.3h0M103.0 568.0h0M93.6 573.1h0M51.3 567.1h0M41.3 563.7h0M81.3 569.7h0M80.0 566.1h0M49.1 579.4h0M58.5 562.7h0M84.5 571.4h0M30.5 561.3h0M77.7 574.8h0M90.6 569.5h0M47.2 578.8h0M32.9 549.9h0M79.7 573.0h0M67.9 578.4h0M98.0 580.4h0M38.0 575.9h0M59.2 551.0h0M71.2 576.1h0M65.4 556.4h0M76.5 572.4h0M98.7 571.5h0M99.7 563.0h0M83.7 554.4h0M88.8 578.5h0M56.4 576.1h0M65.9 577.2h0M82.3 576.6h0M66.2 569.4h0M73.1 581.1h0M77.4 568.3h0M66.0 581.9h0M51.9 563.6h0M52.2 580.9h0M73.7 556.7h0M99.9 563.0h0M91.2 570.1h0M59.2 557.7h0M88.7 575.1h0M55.7 567.8h0M62.7 553.9h0M81.4 577.6h0M67.7 548.6h0M65.0 561.3h0M31.6 554.1h0M44.6 580.1h0M76.2 576.0h0M59.9 570.4h0M81.2 554.6h0M74.7 553.3h0M73.3 562.1h0M74.8 566.7h0M94.5 582.4h0M55.2 548.8h0M94.5 575.8h0M87.7 570.9h0M43.1 551.6h0M46.2 553.4h0M46.9 571.6h0M79.7 580.0h0M71.1 558.1h0M86.4 565.9h0M52.4 569.3h0M63.0 581.3h0M93.7 558.7h0M36.9 562.6h0M70.6 562.9h0M90.3 568.7h0M79.1 552.8h0M61.8 546.9h0M74.5 553.9h0M71.1 580.4h0M87.4 557.4h0M61.2 559.7h0M84.0 581.9h0M31.2 563.8h0M56.2 552.9h0M55.9 550.2h0M42.0 551.7h0M73.8 561.6h0M98.5 563.3h0M49.1 574.9h0M76.3 559.7h0M63.5 549.6h0M94.5 562.5h0M37.4 572.5h0M57.9 574.1h0M71.1 557.8h0M99.1 575.3h0M93.9 557.0h0M77.9 556.9h0M94.1 578.5h0M48.4 562.1h0M57.3 569.0h0M62.7 561.4h0M70.9 573.8h0M98.0 568.2h0M67.4 557.3h0M92.6 575.4h0M35.9 568.0h0M69.5 580.4h0M41.9 556.6h0M70.3 566.7h0M95.9 580.6h0M59.1 569.0h0M97.8 576.7h0M71.7 563.2h0M66.3 558.7h0M77.2 574.2h0M99.6 581.1h0M35.8 569.3h0M89.6 556.4h0M97.2 579.7h0M69.1 579.0h0M57.8 549.7h0M76.8 557.5h0M43.0 566.6h0M40.6 560.4h0M44.2 573.8h0M89.5 564.7h0M69.2 568.6h0M81.6 566.0h0M67.4 553.4h0M42.7 575.1h0M64.0 552.8h0M86.6 556.4h0M43.6 574.8h0M89.7 581.6h0M82.6 568.0h0M74.4 573.8h0M89.6 582.9h0M83.7 572.5h0M39.3 564.6h0M31.5 562.2h0M60.7 573.8h0M56.3 555.9h0M92.6 574.8h0M86.2 577.4h0M51.1 571.3h0M30.9 566.7h0M70.3 568.0h0M96.6 582.0h0M40.4 548.3h0M35.5 556.3h0M63.5 547.0h0M94.2 575.2h0M55.9 545.7h0M78.9 552.7h0M83.5 553.7h0M91.3 578.9h0M86.1 554.3h0M66.6 557.7h0M79.3 576.1h0M75.1 553.7h0M100.3 566.3h0M55.6 571.2h0M39.2 571.0h0M49.3 565.4h0M57.2 560.6h0M49.4 578.8h0M59.1 581.0h0M44.2 579.6h0M80.4 568.6h0M40.5 563.3h0M49.1 576.2h0M87.2 568.0h0M34.0 545.6h0M36.7 565.6h0M85.9 564.3h0M35.1 554.0h0M68.2 564.4h0M64.3 582.2h0M32.2 558.6h0M72.5 578.8h0M75.9 573.7h0M59.5 551.4h0M42.6 576.2h0M73.0 549.7h0M45.9 580.9h0M72.4 556.3h0M40.2 575.6h0M82.2 568.4h0M60.4 563.1h0M47.9 573.2h0M56.6 572.7h0M75.5 549.6h0M65.0 575.4h0M78.7 573.3h0M58.3 550.7h0M90.4 581.4h0M76.0 568.9h0M64.0 561.6h0M81.6 567.3h0M85.6 558.7h0M102.7 573.7h0M84.0 571.0h0M56.0 547.0h0M65.0 580.1h0M37.2 556.2h0M38.4 569.4h0M55.4 559.9h0M37.5 576.0h0M100.4 558.7h0M35.3 572.3h0M48.0 546.9h0M27.2 555.1h0M58.9 549.1h0M92.7 580.9h0M77.4 580.4h0M57.3 560.5h0M85.5 554.1h0M68.1 582.4h0M69.8 575.4h0M61.9 551.4h0M58.2 567.0h0M44.7 578.7h0M49.4 569.8h0M40.5 553.2h0M61.1 574.5h0M88.8 577.0h0M100.0 568.6h0M58.8 580.5h0M88.0 575.6h0M30.0 548.5h0M87.4 565.2h0M98.1 580.6h0M92.8 572.1h0M55.2 553.2h0M60.1 581.0h0M88.7 578.5h0M94.0 563.4h0M60.4 557.7h0M75.7 560.6h0M83.8 556.7h0M29.5 558.6h0M66.0 577.3h0M95.2 567.9h0M100.1 578.9h0M92.8 571.7h0M93.9 561.8h0M74.8 563.8h0M96.8 572.5h0M74.1 560.6h0M58.8 558.1h0M54.3 548.3h0M70.6 564.1h0M48.3 579.5h0M83.2 552.0h0M78.5 568.1h0M79.4 580.1h0M46.5 570.4h0M54.3 577.5h0M35.3 555.7h0M55.6 559.2h0M58.7 553.8h0M90.4 556.8h0M49.1 575.1h0M62.9 546.8h0M58.5 579.6h0M67.4 581.5h0M88.9 561.0h0M65.9 563.1h0M30.2 548.0h0M41.8 570.7h0M49.4 550.4h0M96.8 565.0h0M78.4 551.7h0M70.2 548.3h0M28.7 552.3h0M47.5 546.0h0M71.8 579.0h0M82.2 570.3h0M90.8 570.9h0M56.7 567.3h0M54.1 561.6h0" stroke="#F8766D" stroke-width="1.10" stroke-linecap="round" stroke-opacity="0.8"/>
<path d="M77.5 600.0h0M74.6 595.6h0M78.0 595.6h0M76.0 597.8h0M78.4 592.2h0M79.5 594.2h0M77.9 600.4h0M78.9 593.1h0M76.1 597.0h0M78.2 593.5h0" stroke="#F8766D" stroke-width="1.10" stroke-linecap="round" stroke-opacity="0.8"/>
<path d="M42.9 538.8h0M45.0 536.7h0M39.7 539.2h0M46.0 540.9h0M36.4 537.6h0M47.4 540.2h0" stroke="#F8766D" stroke-width="1.10" stroke-linecap="round" stroke-opacity="0.8"/>
<path d="M11.9 556.7V605.8H61.5" fill="none" stroke="#000" stroke-width="1.3"/>
<path d="M9.7 557.7L11.9 553.7L14.100000000000001 557.7Z" fill="#000"/>
<path d="M60.5 603.5999999999999L64.5 605.8L60.5 608.0Z" fill="#000"/>
<text x="17.2" y="621.6" font-size="10.4" fill="#000" stroke="#000" stroke-width="0.1" text-anchor="start" >UMAP1</text>
<text x="9.6" y="604.5" font-size="10.4" fill="#000" stroke="#000" stroke-width="0.1" text-anchor="start" transform="rotate(-90 9.6 604.5)">UMAP2</text>
<circle cx="160.6" cy="499.3" r="2.90" fill="#F8766D" />
<text x="168.8" y="503.0" font-size="10.4" fill="#F8766D" stroke="#F8766D" stroke-width="0.1" text-anchor="start" >A</text>
<circle cx="160.6" cy="510.0" r="2.90" fill="#00BFC4" />
<text x="168.8" y="513.7" font-size="10.4" fill="#00BFC4" stroke="#00BFC4" stroke-width="0.1" text-anchor="start" >B</text>
<line x1="290.5" y1="513.2" x2="290.5" y2="596.6" stroke="#000" stroke-width="1.3"/>
<line x1="289.9" y1="596.1" x2="577.0" y2="596.1" stroke="#000" stroke-width="1.3"/>
<line x1="287.3" y1="529.9" x2="290.5" y2="529.9" stroke="#000" stroke-width="1.1"/>
<line x1="287.3" y1="569.6" x2="290.5" y2="569.6" stroke="#000" stroke-width="1.1"/>
<text x="287.0" y="533.6" font-size="10.4" fill="#F8766D" stroke="#F8766D" stroke-width="0.1" text-anchor="end" >A. myelinating OLs</text>
<text x="287.0" y="573.3" font-size="10.4" fill="#00BFC4" stroke="#00BFC4" stroke-width="0.1" text-anchor="end" >B. Premyelinating OLs</text>
<circle cx="312.9" cy="529.9" r="2.60" fill="#0000FF" />
<circle cx="312.9" cy="569.6" r="1.00" fill="#D3D3D3" />
<line x1="312.9" y1="596.1" x2="312.9" y2="599.5" stroke="#000" stroke-width="1.1"/>
<text x="308.0" y="611.8" font-size="10.4" fill="#000" stroke="#000" stroke-width="0.1" text-anchor="middle" >PDGFRA</text>
<circle cx="349.0" cy="529.9" r="4.20" fill="#0000FF" />
<circle cx="349.0" cy="569.6" r="1.20" fill="#D3D3D3" />
<line x1="349.0" y1="596.1" x2="349.0" y2="599.5" stroke="#000" stroke-width="1.1"/>
<text x="349.5" y="611.8" font-size="10.4" fill="#000" stroke="#000" stroke-width="0.1" text-anchor="middle" >OLIG1</text>
<circle cx="385.0" cy="529.9" r="1.40" fill="#0000FF" />
<circle cx="385.0" cy="569.6" r="0.70" fill="#D3D3D3" />
<line x1="385.0" y1="596.1" x2="385.0" y2="599.5" stroke="#000" stroke-width="1.1"/>
<text x="384.8" y="611.8" font-size="10.4" fill="#000" stroke="#000" stroke-width="0.1" text-anchor="middle" >OLIG2</text>
<circle cx="421.1" cy="529.9" r="6.40" fill="#D3D3D3" />
<circle cx="421.1" cy="569.6" r="6.40" fill="#0000FF" />
<line x1="421.1" y1="596.1" x2="421.1" y2="599.5" stroke="#000" stroke-width="1.1"/>
<text x="419.5" y="611.8" font-size="10.4" fill="#000" stroke="#000" stroke-width="0.1" text-anchor="middle" >GSTP1</text>
<circle cx="457.1" cy="529.9" r="3.00" fill="#D3D3D3" />
<circle cx="457.1" cy="569.6" r="3.00" fill="#0000FF" />
<line x1="457.1" y1="596.1" x2="457.1" y2="599.5" stroke="#000" stroke-width="1.1"/>
<text x="456.9" y="611.8" font-size="10.4" fill="#000" stroke="#000" stroke-width="0.1" text-anchor="middle" >FOXO1</text>
<circle cx="493.2" cy="529.9" r="3.50" fill="#0000FF" />
<circle cx="493.2" cy="569.6" r="1.60" fill="#D3D3D3" />
<line x1="493.2" y1="596.1" x2="493.2" y2="599.5" stroke="#000" stroke-width="1.1"/>
<text x="493.0" y="611.8" font-size="10.4" fill="#000" stroke="#000" stroke-width="0.1" text-anchor="middle" >PLP1</text>
<circle cx="529.3" cy="529.9" r="4.90" fill="#0000FF" />
<circle cx="529.3" cy="569.6" r="3.70" fill="#D3D3D3" />
<line x1="529.3" y1="596.1" x2="529.3" y2="599.5" stroke="#000" stroke-width="1.1"/>
<text x="529.5" y="611.8" font-size="10.4" fill="#000" stroke="#000" stroke-width="0.1" text-anchor="middle" >CNP</text>
<circle cx="565.3" cy="529.9" r="2.60" fill="#0000FF" />
<circle cx="565.3" cy="569.6" r="0.60" fill="#D3D3D3" />
<line x1="565.3" y1="596.1" x2="565.3" y2="599.5" stroke="#000" stroke-width="1.1"/>
<text x="565.7" y="611.8" font-size="10.4" fill="#000" stroke="#000" stroke-width="0.1" text-anchor="middle" >NRG1</text>
<text x="585.5" y="485.8" font-size="10.95" fill="#000" stroke="#000" stroke-width="0.1" text-anchor="start" >Percent Expressed</text>
<circle cx="591.9" cy="500.2" r="0.60" fill="#000" />
<text x="604.6" y="504.1" font-size="10.9" fill="#000" stroke="#000" stroke-width="0.1" text-anchor="start" >0</text>
<circle cx="591.9" cy="513.6" r="1.90" fill="#000" />
<text x="604.6" y="517.5" font-size="10.9" fill="#000" stroke="#000" stroke-width="0.1" text-anchor="start" >25</text>
<circle cx="591.9" cy="527.0" r="3.40" fill="#000" />
<text x="604.6" y="530.9" font-size="10.9" fill="#000" stroke="#000" stroke-width="0.1" text-anchor="start" >50</text>
<circle cx="591.9" cy="540.4" r="5.10" fill="#000" />
<text x="604.6" y="544.3" font-size="10.9" fill="#000" stroke="#000" stroke-width="0.1" text-anchor="start" >75</text>
<text x="586.6" y="571.8" font-size="11" fill="#000" stroke="#000" stroke-width="0.1" text-anchor="start" >Average Expression</text>
<text x="589.8" y="594.4" font-size="11.2" fill="#000" stroke="#000" stroke-width="0.1" text-anchor="start" >−0.4 0.0 0.4</text>
<defs><linearGradient id="gavg" x1="0" x2="1"><stop offset="0" stop-color="#D3D3D3"/><stop offset="1" stop-color="#0000FF"/></linearGradient></defs>
<rect x="588.30" y="602.90" width="66.40" height="12.70" fill="url(#gavg)" />
<line x1="603.5" y1="602.9" x2="603.5" y2="605.5" stroke="#fff" stroke-width="0.8"/>
<line x1="603.5" y1="613.0" x2="603.5" y2="615.6" stroke="#fff" stroke-width="0.8"/>
<line x1="620.3" y1="602.9" x2="620.3" y2="605.5" stroke="#fff" stroke-width="0.8"/>
<line x1="620.3" y1="613.0" x2="620.3" y2="615.6" stroke="#fff" stroke-width="0.8"/>
<line x1="637.1" y1="602.9" x2="637.1" y2="605.5" stroke="#fff" stroke-width="0.8"/>
<line x1="637.1" y1="613.0" x2="637.1" y2="615.6" stroke="#fff" stroke-width="0.8"/>
<text x="27.9" y="704.8" font-size="10.4" fill="#000" stroke="#000" stroke-width="0.1" text-anchor="start" >log2 fc</text>
<defs><linearGradient id="glfc" x1="0" y1="0" x2="0" y2="1"><stop offset="0" stop-color="#d43c3c"/><stop offset="0.3" stop-color="#e07878"/><stop offset="0.6" stop-color="#f2c8c8"/><stop offset="0.8" stop-color="#fbf6f6"/><stop offset="0.87" stop-color="#e8e8f8"/><stop offset="1" stop-color="#2828e0"/></linearGradient></defs>
<rect x="38.2" y="714.6" width="8.5" height="42.7" fill="url(#glfc)" stroke="#000" stroke-width="2"/>
<line x1="38.2" y1="717.1" x2="40.8" y2="717.1" stroke="#000" stroke-width="1.4"/>
<line x1="44.1" y1="717.1" x2="46.7" y2="717.1" stroke="#000" stroke-width="1.4"/>
<text x="53.1" y="721.4" font-size="10.4" fill="#000" stroke="#000" stroke-width="0.1" text-anchor="start" >5</text>
<line x1="38.2" y1="730.2" x2="40.8" y2="730.2" stroke="#000" stroke-width="1.4"/>
<line x1="44.1" y1="730.2" x2="46.7" y2="730.2" stroke="#000" stroke-width="1.4"/>
<text x="53.1" y="734.5" font-size="10.4" fill="#000" stroke="#000" stroke-width="0.1" text-anchor="start" >3</text>
<line x1="38.2" y1="742.5" x2="40.8" y2="742.5" stroke="#000" stroke-width="1.4"/>
<line x1="44.1" y1="742.5" x2="46.7" y2="742.5" stroke="#000" stroke-width="1.4"/>
<text x="53.1" y="746.8" font-size="10.4" fill="#000" stroke="#000" stroke-width="0.1" text-anchor="start" >1</text>
<line x1="38.2" y1="754.8" x2="40.8" y2="754.8" stroke="#000" stroke-width="1.4"/>
<line x1="44.1" y1="754.8" x2="46.7" y2="754.8" stroke="#000" stroke-width="1.4"/>
<text x="53.1" y="759.1" font-size="10.4" fill="#000" stroke="#000" stroke-width="0.1" text-anchor="start" >-1</text>
<rect x="111.20" y="731.30" width="61.60" height="11.05" fill="#f8e3e3" />
<rect x="172.80" y="731.30" width="61.40" height="11.05" fill="#fcf8f9" />
<text x="108.6" y="740.4" font-size="10.2" fill="#000" stroke="#000" stroke-width="0.1" text-anchor="end" >OLIG1</text>
<rect x="111.20" y="742.15" width="61.60" height="11.05" fill="#fcf6f6" />
<rect x="172.80" y="742.15" width="61.40" height="11.05" fill="#fcf9fa" />
<text x="108.6" y="751.3" font-size="10.2" fill="#000" stroke="#000" stroke-width="0.1" text-anchor="end" >OLIG2</text>
<rect x="111.20" y="752.99" width="61.60" height="11.05" fill="#f8e3e3" />
<rect x="172.80" y="752.99" width="61.40" height="11.05" fill="#fcf8f9" />
<text x="108.6" y="762.1" font-size="10.2" fill="#000" stroke="#000" stroke-width="0.1" text-anchor="end" >CSPG5</text>
<rect x="111.20" y="763.84" width="61.60" height="11.05" fill="#f8f8fd" />
<rect x="172.80" y="763.84" width="61.40" height="11.05" fill="#f4f4fc" />
<text x="108.6" y="773.0" font-size="10.2" fill="#000" stroke="#000" stroke-width="0.1" text-anchor="end" >CSPG4</text>
<rect x="111.20" y="774.69" width="61.60" height="11.05" fill="#fcf7f7" />
<rect x="172.80" y="774.69" width="61.40" height="11.05" fill="#fafafd" />
<text x="108.6" y="783.8" font-size="10.2" fill="#000" stroke="#000" stroke-width="0.1" text-anchor="end" >PDGFRA</text>
<rect x="111.20" y="785.54" width="61.60" height="11.05" fill="#3b3fd0" />
<rect x="172.80" y="785.54" width="61.40" height="11.05" fill="#f9f9fd" />
<text x="108.6" y="794.7" font-size="10.2" fill="#000" stroke="#000" stroke-width="0.1" text-anchor="end" >NRG1</text>
<rect x="111.20" y="796.38" width="61.60" height="11.05" fill="#f8f8fd" />
<rect x="172.80" y="796.38" width="61.40" height="11.05" fill="#fafafd" />
<text x="108.6" y="805.5" font-size="10.2" fill="#000" stroke="#000" stroke-width="0.1" text-anchor="end" >PLLP</text>
<rect x="111.20" y="807.23" width="61.60" height="11.05" fill="#9da0e4" />
<rect x="172.80" y="807.23" width="61.40" height="11.05" fill="#bcbeef" />
<text x="108.6" y="816.4" font-size="10.2" fill="#000" stroke="#000" stroke-width="0.1" text-anchor="end" >PLP1</text>
<rect x="111.20" y="818.08" width="61.60" height="11.05" fill="#f4f4fc" />
<rect x="172.80" y="818.08" width="61.40" height="11.05" fill="#fcfcfe" />
<text x="108.6" y="827.2" font-size="10.2" fill="#000" stroke="#000" stroke-width="0.1" text-anchor="end" >FOXO4</text>
<rect x="111.20" y="828.92" width="61.60" height="11.05" fill="#8b8fe1" />
<rect x="172.80" y="828.92" width="61.40" height="11.05" fill="#a9abe9" />
<text x="108.6" y="838.0" font-size="10.2" fill="#000" stroke="#000" stroke-width="0.1" text-anchor="end" >FOXO1</text>
<rect x="111.20" y="839.77" width="61.60" height="11.05" fill="#9ca0e5" />
<rect x="172.80" y="839.77" width="61.40" height="11.05" fill="#0000c6" />
<text x="108.6" y="848.9" font-size="10.2" fill="#000" stroke="#000" stroke-width="0.1" text-anchor="end" >CNP</text>
<rect x="111.20" y="850.62" width="61.60" height="11.05" fill="#8d91e2" />
<rect x="172.80" y="850.62" width="61.40" height="11.05" fill="#d5d7f5" />
<text x="108.6" y="859.7" font-size="10.2" fill="#000" stroke="#000" stroke-width="0.1" text-anchor="end" >OMG</text>
<rect x="111.20" y="861.46" width="61.60" height="11.05" fill="#eeeefb" />
<rect x="172.80" y="861.46" width="61.40" height="11.05" fill="#f9f9fd" />
<text x="108.6" y="870.6" font-size="10.2" fill="#000" stroke="#000" stroke-width="0.1" text-anchor="end" >PCNA</text>
<rect x="111.20" y="872.31" width="61.60" height="11.05" fill="#fcfcfe" />
<rect x="172.80" y="872.31" width="61.40" height="11.05" fill="#f6f6fd" />
<text x="108.6" y="881.4" font-size="10.2" fill="#000" stroke="#000" stroke-width="0.1" text-anchor="end" >MKI67</text>
<rect x="111.20" y="883.16" width="61.60" height="11.05" fill="#dd7c7c" />
<rect x="172.80" y="883.16" width="61.40" height="11.05" fill="#cb3232" />
<text x="108.6" y="892.3" font-size="10.2" fill="#000" stroke="#000" stroke-width="0.1" text-anchor="end" >STMN1</text>
<rect x="111.20" y="894.01" width="61.60" height="11.05" fill="#fcf0f0" />
<rect x="172.80" y="894.01" width="61.40" height="11.05" fill="#f6dada" />
<text x="108.6" y="903.1" font-size="10.2" fill="#000" stroke="#000" stroke-width="0.1" text-anchor="end" >STMN2</text>
<rect x="111.20" y="904.85" width="61.60" height="11.05" fill="#e7a1a1" />
<rect x="172.80" y="904.85" width="61.40" height="11.05" fill="#f1cbcb" />
<text x="108.6" y="914.0" font-size="10.2" fill="#000" stroke="#000" stroke-width="0.1" text-anchor="end" >SOX11</text>
<rect x="111.2" y="731.3" width="123.0" height="184.4" fill="none" stroke="#000" stroke-width="2"/>
<text x="142.6" y="795.2" font-size="9" fill="#000" stroke="#000" stroke-width="0.1" text-anchor="middle" letter-spacing="0.9">****</text>
<text x="142.6" y="838.5" font-size="9" fill="#000" stroke="#000" stroke-width="0.1" text-anchor="middle" letter-spacing="0.9">*</text>
<text x="142.6" y="892.8" font-size="9" fill="#000" stroke="#000" stroke-width="0.1" text-anchor="middle" letter-spacing="0.9">****</text>
<text x="142.6" y="914.5" font-size="9" fill="#000" stroke="#000" stroke-width="0.1" text-anchor="middle" letter-spacing="0.9">*</text>
<text x="145.0" y="728.4" font-size="10.4" fill="#000" stroke="#000" stroke-width="0.1" text-anchor="start" transform="rotate(-45 145 728.4)">Myelinating</text>
<text x="207.5" y="728.4" font-size="10.4" fill="#000" stroke="#000" stroke-width="0.1" text-anchor="start" transform="rotate(-45 207.5 728.4)">Premyelinating</text>
<line x1="240.9" y1="728.5" x2="240.9" y2="780.2" stroke="#33c84a" stroke-width="1.5"/>
<text x="242.9" y="756.9" font-size="10.4" fill="#33c84a" stroke="#33c84a" stroke-width="0.1" text-anchor="start" >OPC / immature</text>
<line x1="240.9" y1="782.5" x2="240.9" y2="859.8" stroke="#f4a0a0" stroke-width="1.5"/>
<text x="242.9" y="825.1" font-size="10.4" fill="#f4a0a0" stroke="#f4a0a0" stroke-width="0.1" text-anchor="start" >Myelination</text>
<line x1="240.9" y1="860.5" x2="240.9" y2="879.5" stroke="#3a5cf0" stroke-width="1.5"/>
<text x="242.9" y="872.5" font-size="10.4" fill="#3a5cf0" stroke="#3a5cf0" stroke-width="0.1" text-anchor="start" >Proliferation</text>
<line x1="240.9" y1="882.5" x2="240.9" y2="915.0" stroke="#d8d23a" stroke-width="1.5"/>
<text x="242.9" y="902.8" font-size="10.4" fill="#d8d23a" stroke="#d8d23a" stroke-width="0.1" text-anchor="start" >NSC</text>
<path d="M424.60 674.60 Q423.90 691.30 423.15 693.90 Q422.40 696.50 420.20 698.70 Q418.00 700.90 417.00 703.95 Q416.00 707.00 416.15 709.65 Q416.30 712.30 417.15 714.05 Q418.00 715.80 415.40 716.70 Q412.80 717.60 408.90 718.80 Q405.00 720.00 403.20 720.95 Q401.40 721.90 401.80 722.50 L424.60 722.50Z" fill="#F8766D" stroke="#333333" stroke-width="1.3" stroke-linejoin="round"/>
<path d="M424.60 674.60 Q425.40 691.00 425.65 692.90 Q425.90 694.80 426.80 698.30 Q427.70 701.80 428.30 704.85 Q428.90 707.90 428.30 710.10 Q427.70 712.30 426.80 714.05 Q425.90 715.80 430.70 717.10 Q435.50 718.40 438.75 719.20 Q442.00 720.00 444.90 720.90 Q447.80 721.80 447.50 722.50 L424.60 722.50Z" fill="#1B8A8E" stroke="#333333" stroke-width="1.3" stroke-linejoin="round"/>
<path d="M475.50 689.50 Q471.00 689.50 470.90 691.75 Q470.80 694.00 470.70 696.15 Q470.60 698.30 469.30 701.80 Q468.00 705.30 465.80 708.80 Q463.60 712.30 460.10 715.35 Q456.60 718.40 454.40 720.20 Q452.20 722.00 452.50 722.50 L475.50 722.50Z" fill="#F8766D" stroke="#333333" stroke-width="1.3" stroke-linejoin="round"/>
<path d="M475.50 685.10 Q477.20 685.10 478.25 689.05 Q479.30 693.00 480.00 697.85 Q480.70 702.70 480.90 707.50 Q481.10 712.30 482.00 713.60 Q482.90 714.90 488.15 717.10 Q493.40 719.30 495.55 720.75 Q497.70 722.20 497.40 722.50 L475.50 722.50Z" fill="#1B8A8E" stroke="#333333" stroke-width="1.3" stroke-linejoin="round"/>
<line x1="394.4" y1="672.2" x2="394.4" y2="724.8" stroke="#000" stroke-width="1.3"/>
<line x1="393.8" y1="724.2" x2="506.6" y2="724.2" stroke="#000" stroke-width="1.3"/>
<line x1="393.2" y1="679.9" x2="394.4" y2="679.9" stroke="#000" stroke-width="1.0"/>
<text x="392.6" y="682.8" font-size="10.4" fill="#000" stroke="#000" stroke-width="0.1" text-anchor="end" >1.5</text>
<line x1="393.2" y1="693.9" x2="394.4" y2="693.9" stroke="#000" stroke-width="1.0"/>
<text x="392.6" y="696.8" font-size="10.4" fill="#000" stroke="#000" stroke-width="0.1" text-anchor="end" >1.0</text>
<line x1="393.2" y1="707.9" x2="394.4" y2="707.9" stroke="#000" stroke-width="1.0"/>
<text x="392.6" y="710.8" font-size="10.4" fill="#000" stroke="#000" stroke-width="0.1" text-anchor="end" >0.5</text>
<line x1="393.2" y1="721.0" x2="394.4" y2="721.0" stroke="#000" stroke-width="1.0"/>
<text x="392.6" y="723.9" font-size="10.4" fill="#000" stroke="#000" stroke-width="0.1" text-anchor="end" >0.0</text>
<line x1="424.7" y1="724.2" x2="424.7" y2="727.2" stroke="#000" stroke-width="1.0"/>
<line x1="475.4" y1="724.2" x2="475.4" y2="727.2" stroke="#000" stroke-width="1.0"/>
<text x="374.2" y="694.5" font-size="10.4" fill="#000" stroke="#000" stroke-width="0.1" text-anchor="middle" transform="rotate(-90 374.2 694.5)">FOXO1</text>
<path d="M424.60 734.80 Q423.40 748.40 421.50 753.05 Q419.60 757.70 417.60 761.80 Q415.60 765.90 415.25 768.80 Q414.90 771.70 413.75 774.65 Q412.60 777.60 407.30 779.35 Q402.00 781.10 402.20 782.00 L424.60 782.00Z" fill="#F8766D" stroke="#333333" stroke-width="1.3" stroke-linejoin="round"/>
<path d="M424.60 734.80 Q425.90 748.40 426.80 753.05 Q427.70 757.70 427.95 763.55 Q428.20 769.40 427.95 772.30 Q427.70 775.20 432.40 777.20 Q437.10 779.20 442.35 780.35 Q447.60 781.50 447.40 782.00 L424.60 782.00Z" fill="#1B8A8E" stroke="#333333" stroke-width="1.3" stroke-linejoin="round"/>
<path d="M475.50 761.20 Q474.50 765.20 472.15 767.30 Q469.80 769.40 468.85 771.15 Q467.90 772.90 465.35 775.25 Q462.80 777.60 458.10 779.35 Q453.40 781.10 453.60 782.00 L475.50 782.00Z" fill="#F8766D" stroke="#333333" stroke-width="1.3" stroke-linejoin="round"/>
<path d="M475.50 761.20 L475.80 781.40 L499.00 781.40 L499.00 782.20 L475.50 782.20Z" fill="#1B8A8E" stroke="#333333" stroke-width="1.3" stroke-linejoin="round"/>
<line x1="394.4" y1="732.5" x2="394.4" y2="785.2" stroke="#000" stroke-width="1.3"/>
<line x1="393.8" y1="784.6" x2="506.6" y2="784.6" stroke="#000" stroke-width="1.3"/>
<line x1="393.2" y1="740.2" x2="394.4" y2="740.2" stroke="#000" stroke-width="1.0"/>
<text x="392.6" y="743.1" font-size="10.4" fill="#000" stroke="#000" stroke-width="0.1" text-anchor="end" >2.0</text>
<line x1="393.2" y1="750.2" x2="394.4" y2="750.2" stroke="#000" stroke-width="1.0"/>
<text x="392.6" y="753.1" font-size="10.4" fill="#000" stroke="#000" stroke-width="0.1" text-anchor="end" >1.5</text>
<line x1="393.2" y1="760.5" x2="394.4" y2="760.5" stroke="#000" stroke-width="1.0"/>
<text x="392.6" y="763.4" font-size="10.4" fill="#000" stroke="#000" stroke-width="0.1" text-anchor="end" >1.0</text>
<line x1="393.2" y1="770.5" x2="394.4" y2="770.5" stroke="#000" stroke-width="1.0"/>
<text x="392.6" y="773.4" font-size="10.4" fill="#000" stroke="#000" stroke-width="0.1" text-anchor="end" >0.5</text>
<line x1="393.2" y1="780.6" x2="394.4" y2="780.6" stroke="#000" stroke-width="1.0"/>
<text x="392.6" y="783.5" font-size="10.4" fill="#000" stroke="#000" stroke-width="0.1" text-anchor="end" >0.0</text>
<line x1="424.7" y1="784.6" x2="424.7" y2="787.6" stroke="#000" stroke-width="1.0"/>
<line x1="475.4" y1="784.6" x2="475.4" y2="787.6" stroke="#000" stroke-width="1.0"/>
<text x="374.2" y="756.5" font-size="10.4" fill="#000" stroke="#000" stroke-width="0.1" text-anchor="middle" transform="rotate(-90 374.2 756.5)">PLP1</text>
<path d="M424.60 803.00 Q421.50 806.50 418.20 809.20 Q414.90 811.90 410.20 815.40 Q405.50 818.90 403.55 821.20 Q401.60 823.50 402.40 825.85 Q403.20 828.20 407.30 831.15 Q411.40 834.10 413.15 835.85 Q414.90 837.60 410.80 839.35 Q406.70 841.10 404.95 841.65 Q403.20 842.20 403.40 843.00 L424.60 843.00Z" fill="#F8766D" stroke="#333333" stroke-width="1.3" stroke-linejoin="round"/>
<path d="M424.60 796.70 Q426.60 799.00 430.65 804.85 Q434.70 810.70 437.65 814.80 Q440.60 818.90 441.20 822.40 Q441.80 825.90 440.05 828.80 Q438.30 831.70 435.35 833.45 Q432.40 835.20 431.25 836.95 Q430.10 838.70 434.75 839.65 Q439.40 840.60 443.50 841.50 Q447.60 842.40 447.40 843.00 L424.60 843.00Z" fill="#1B8A8E" stroke="#333333" stroke-width="1.3" stroke-linejoin="round"/>
<path d="M475.50 814.90 Q464.00 814.90 460.45 815.70 Q456.90 816.50 454.95 819.45 Q453.00 822.40 453.20 825.30 Q453.40 828.20 456.90 831.15 Q460.40 834.10 463.35 837.00 Q466.30 839.90 467.00 842.60 L475.50 842.60Z" fill="#F8766D" stroke="#333333" stroke-width="1.3" stroke-linejoin="round"/>
<path d="M475.50 795.50 Q475.80 812.00 476.90 814.85 Q478.00 817.70 479.75 820.60 Q481.50 823.50 482.65 827.60 Q483.80 831.70 484.40 833.45 Q485.00 835.20 489.05 836.95 Q493.10 838.70 496.05 840.55 Q499.00 842.40 498.80 843.00 L475.50 843.00Z" fill="#1B8A8E" stroke="#333333" stroke-width="1.3" stroke-linejoin="round"/>
<line x1="394.4" y1="793.2" x2="394.4" y2="845.6" stroke="#000" stroke-width="1.3"/>
<line x1="393.8" y1="845.0" x2="506.6" y2="845.0" stroke="#000" stroke-width="1.3"/>
<line x1="393.2" y1="803.2" x2="394.4" y2="803.2" stroke="#000" stroke-width="1.0"/>
<text x="392.6" y="806.1" font-size="10.4" fill="#000" stroke="#000" stroke-width="0.1" text-anchor="end" >1.5</text>
<line x1="393.2" y1="816.5" x2="394.4" y2="816.5" stroke="#000" stroke-width="1.0"/>
<text x="392.6" y="819.4" font-size="10.4" fill="#000" stroke="#000" stroke-width="0.1" text-anchor="end" >1.0</text>
<line x1="393.2" y1="829.4" x2="394.4" y2="829.4" stroke="#000" stroke-width="1.0"/>
<text x="392.6" y="832.3" font-size="10.4" fill="#000" stroke="#000" stroke-width="0.1" text-anchor="end" >0.5</text>
<line x1="393.2" y1="841.5" x2="394.4" y2="841.5" stroke="#000" stroke-width="1.0"/>
<text x="392.6" y="844.4" font-size="10.4" fill="#000" stroke="#000" stroke-width="0.1" text-anchor="end" >0.0</text>
<line x1="424.7" y1="845.0" x2="424.7" y2="848.0" stroke="#000" stroke-width="1.0"/>
<line x1="475.4" y1="845.0" x2="475.4" y2="848.0" stroke="#000" stroke-width="1.0"/>
<text x="374.2" y="819.5" font-size="10.4" fill="#000" stroke="#000" stroke-width="0.1" text-anchor="middle" transform="rotate(-90 374.2 819.5)">CNP</text>
<path d="M425.00 854.90 Q424.50 870.00 423.90 876.10 Q423.30 882.20 421.45 887.20 Q419.60 892.20 418.60 894.90 Q417.60 897.60 402.20 900.80 L402.50 902.00 L425.00 902.00Z" fill="#F8766D" stroke="#333333" stroke-width="1.3" stroke-linejoin="round"/>
<path d="M425.00 854.90 L425.40 901.20 L448.10 901.20 L448.10 902.00 L425.00 902.00Z" fill="#1B8A8E" stroke="#333333" stroke-width="1.3" stroke-linejoin="round"/>
<path d="M451.80 901.20 L499.00 901.20 L499.00 902.00 L451.80 902.00Z" fill="#F8766D" stroke="#333333" stroke-width="1.3" stroke-linejoin="round"/>
<line x1="394.4" y1="852.4" x2="394.4" y2="904.7" stroke="#000" stroke-width="1.3"/>
<line x1="393.8" y1="904.1" x2="506.6" y2="904.1" stroke="#000" stroke-width="1.3"/>
<line x1="393.2" y1="851.2" x2="394.4" y2="851.2" stroke="#000" stroke-width="1.0"/>
<text x="392.6" y="854.1" font-size="10.4" fill="#000" stroke="#000" stroke-width="0.1" text-anchor="end" >3</text>
<line x1="393.2" y1="868.6" x2="394.4" y2="868.6" stroke="#000" stroke-width="1.0"/>
<text x="392.6" y="871.5" font-size="10.4" fill="#000" stroke="#000" stroke-width="0.1" text-anchor="end" >2</text>
<line x1="393.2" y1="884.7" x2="394.4" y2="884.7" stroke="#000" stroke-width="1.0"/>
<text x="392.6" y="887.6" font-size="10.4" fill="#000" stroke="#000" stroke-width="0.1" text-anchor="end" >1</text>
<line x1="393.2" y1="900.8" x2="394.4" y2="900.8" stroke="#000" stroke-width="1.0"/>
<text x="392.6" y="903.7" font-size="10.4" fill="#000" stroke="#000" stroke-width="0.1" text-anchor="end" >0</text>
<line x1="425.0" y1="904.1" x2="425.0" y2="907.1" stroke="#000" stroke-width="1.0"/>
<line x1="475.4" y1="904.1" x2="475.4" y2="907.1" stroke="#000" stroke-width="1.0"/>
<text x="374.2" y="881.0" font-size="10.4" fill="#000" stroke="#000" stroke-width="0.1" text-anchor="middle" transform="rotate(-90 374.2 881)">NRG1</text>
<text x="392.3" y="917.5" font-size="10.4" fill="#000" stroke="#000" stroke-width="0.1" text-anchor="start" >Myelinating</text>
<text x="450.6" y="917.5" font-size="10.4" fill="#000" stroke="#000" stroke-width="0.1" text-anchor="start" >Premyelinating</text>
<rect x="521.80" y="668.90" width="4.80" height="4.80" fill="#F8766D" />
<text x="529.2" y="675.3" font-size="10.4" fill="#000" stroke="#000" stroke-width="0.1" text-anchor="start" >LZCM</text>
<rect x="521.80" y="679.20" width="4.80" height="4.80" fill="#1B8A8E" />
<text x="529.2" y="685.6" font-size="10.4" fill="#000" stroke="#000" stroke-width="0.1" text-anchor="start" >αSCM</text>
<rect x="126.30" y="953.10" width="367.64" height="14.60" fill="#FFCCCC" />
<rect x="126.30" y="973.20" width="285.36" height="14.80" fill="#FFCCCC" />
<rect x="126.30" y="992.40" width="149.97" height="14.60" fill="#FFCCCC" />
<rect x="126.30" y="1011.40" width="114.44" height="14.60" fill="#FFCCCC" />
<line x1="126.3" y1="943.5" x2="126.3" y2="1028.6" stroke="#000" stroke-width="1.4"/>
<line x1="125.6" y1="1027.8" x2="512.0" y2="1027.8" stroke="#000" stroke-width="1.4"/>
<line x1="126.3" y1="1027.8" x2="126.3" y2="1030.5" stroke="#000" stroke-width="1.0"/>
<text x="126.3" y="1038.3" font-size="10.4" fill="#000" stroke="#000" stroke-width="0.1" text-anchor="middle" >0</text>
<line x1="201.1" y1="1027.8" x2="201.1" y2="1030.5" stroke="#000" stroke-width="1.0"/>
<text x="201.1" y="1038.3" font-size="10.4" fill="#000" stroke="#000" stroke-width="0.1" text-anchor="middle" >2</text>
<line x1="275.9" y1="1027.8" x2="275.9" y2="1030.5" stroke="#000" stroke-width="1.0"/>
<text x="275.9" y="1038.3" font-size="10.4" fill="#000" stroke="#000" stroke-width="0.1" text-anchor="middle" >4</text>
<line x1="350.7" y1="1027.8" x2="350.7" y2="1030.5" stroke="#000" stroke-width="1.0"/>
<text x="350.7" y="1038.3" font-size="10.4" fill="#000" stroke="#000" stroke-width="0.1" text-anchor="middle" >6</text>
<line x1="425.5" y1="1027.8" x2="425.5" y2="1030.5" stroke="#000" stroke-width="1.0"/>
<text x="425.5" y="1038.3" font-size="10.4" fill="#000" stroke="#000" stroke-width="0.1" text-anchor="middle" >8</text>
<line x1="500.3" y1="1027.8" x2="500.3" y2="1030.5" stroke="#000" stroke-width="1.0"/>
<text x="500.3" y="1038.3" font-size="10.4" fill="#000" stroke="#000" stroke-width="0.1" text-anchor="middle" >10</text>
<text x="318.6" y="1052.4" font-size="10.4" fill="#000" stroke="#000" stroke-width="0.1" text-anchor="middle" >-log(pVal)</text>
<text x="128.3" y="964.8" font-size="10.4" fill="#000" stroke="#000" stroke-width="0.1" text-anchor="start" >Astrocyte: Embryonic Prefrontal Cortex *1.47e-10</text>
<text x="128.3" y="985.2" font-size="10.4" fill="#F5141A" stroke="#F5141A" stroke-width="0.1" text-anchor="start" >Oligodendrocyte Progenitor Cell: Embryonic Prefrontal Cortex *2.33e-08</text>
<text x="128.3" y="1003.5" font-size="10.4" fill="#000" stroke="#000" stroke-width="0.1" text-anchor="start" >Interneuron : Embryonic Prefrontal Cortex *9.74e-05</text>
<text x="128.3" y="1021.9" font-size="10.4" fill="#000" stroke="#000" stroke-width="0.1" text-anchor="start" ><tspan fill="#4a1518">Oligodendrocyte : Brain </tspan>*8.66e-04</text>
</svg></body></html>
